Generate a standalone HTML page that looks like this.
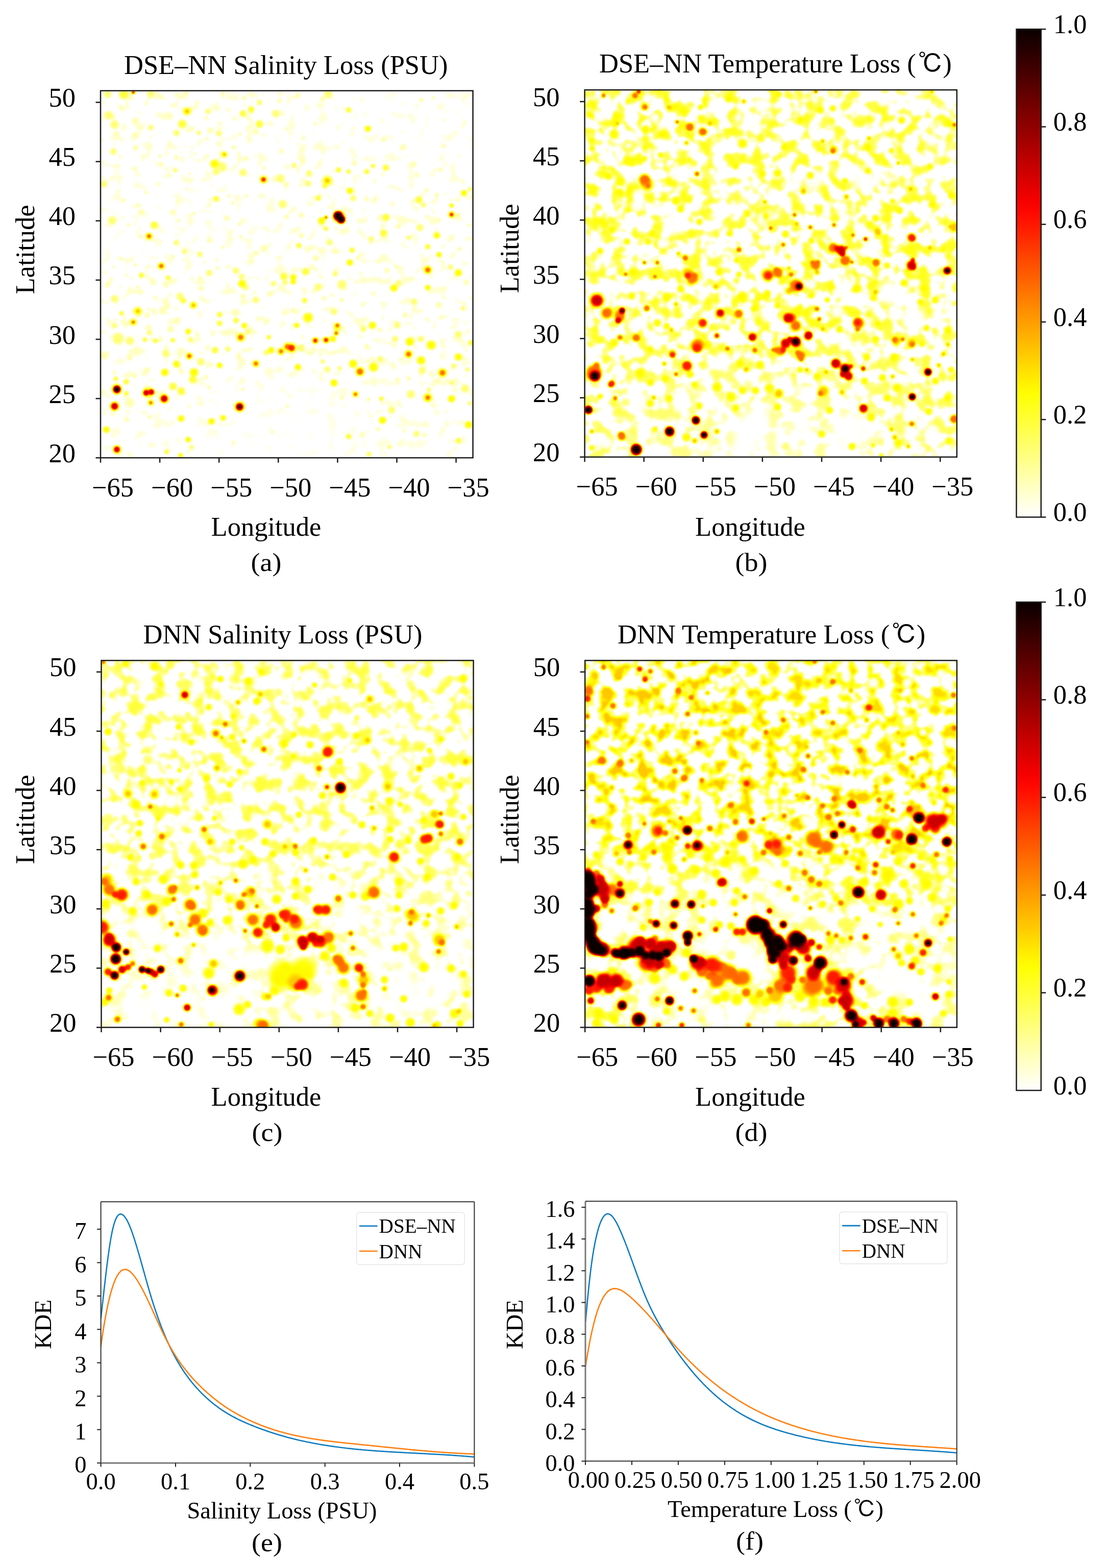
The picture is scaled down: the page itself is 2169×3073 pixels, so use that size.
<!DOCTYPE html>
<html><head><meta charset="utf-8"><title>Figure</title>
<style>
html,body{margin:0;padding:0;background:#fff;}
svg{display:block;}
.t{font-family:'Liberation Serif', 'Times New Roman', serif;font-size:52.5px;fill:#000;}
.cap{font-family:'Liberation Serif', 'Times New Roman', serif;font-size:50px;fill:#000;}
.k{font-family:'Liberation Serif', 'Times New Roman', serif;font-size:46.5px;fill:#000;}
.kl{font-family:'Liberation Serif', 'Times New Roman', serif;font-size:45.8px;fill:#000;}
.lg{font-family:'Liberation Serif', 'Times New Roman', serif;font-size:39.2px;fill:#000;}
.cjk{font-family:'IPAGothic', 'Noto Sans CJK JP', sans-serif;font-size:0.94em;}
</style></head><body>
<svg width="2169" height="3073" viewBox="0 0 2169 3073">
<defs>
<linearGradient id="cb1" x1="0" y1="1" x2="0" y2="0">
<stop offset="0.000" stop-color="#ffffff"/>
<stop offset="0.025" stop-color="#ffffe6"/>
<stop offset="0.050" stop-color="#ffffcd"/>
<stop offset="0.075" stop-color="#ffffb4"/>
<stop offset="0.100" stop-color="#ffff9b"/>
<stop offset="0.125" stop-color="#ffff81"/>
<stop offset="0.150" stop-color="#ffff68"/>
<stop offset="0.175" stop-color="#ffff4f"/>
<stop offset="0.200" stop-color="#ffff36"/>
<stop offset="0.225" stop-color="#ffff1d"/>
<stop offset="0.250" stop-color="#ffff04"/>
<stop offset="0.275" stop-color="#fff100"/>
<stop offset="0.300" stop-color="#ffe000"/>
<stop offset="0.325" stop-color="#ffcf00"/>
<stop offset="0.350" stop-color="#ffbf00"/>
<stop offset="0.375" stop-color="#ffae00"/>
<stop offset="0.400" stop-color="#ff9d00"/>
<stop offset="0.425" stop-color="#ff8d00"/>
<stop offset="0.450" stop-color="#ff7c00"/>
<stop offset="0.475" stop-color="#ff6b00"/>
<stop offset="0.500" stop-color="#ff5a00"/>
<stop offset="0.525" stop-color="#ff4a00"/>
<stop offset="0.550" stop-color="#ff3900"/>
<stop offset="0.575" stop-color="#ff2800"/>
<stop offset="0.600" stop-color="#ff1700"/>
<stop offset="0.625" stop-color="#ff0700"/>
<stop offset="0.650" stop-color="#f50000"/>
<stop offset="0.675" stop-color="#e40000"/>
<stop offset="0.700" stop-color="#d30000"/>
<stop offset="0.725" stop-color="#c30000"/>
<stop offset="0.750" stop-color="#b20000"/>
<stop offset="0.775" stop-color="#a10000"/>
<stop offset="0.800" stop-color="#900000"/>
<stop offset="0.825" stop-color="#800000"/>
<stop offset="0.850" stop-color="#6f0000"/>
<stop offset="0.875" stop-color="#5e0000"/>
<stop offset="0.900" stop-color="#4e0000"/>
<stop offset="0.925" stop-color="#3d0000"/>
<stop offset="0.950" stop-color="#2c0000"/>
<stop offset="0.975" stop-color="#1b0000"/>
<stop offset="1.000" stop-color="#0b0000"/>
</linearGradient>
<linearGradient id="cb2" x1="0" y1="1" x2="0" y2="0">
<stop offset="0.000" stop-color="#ffffff"/>
<stop offset="0.025" stop-color="#ffffe6"/>
<stop offset="0.050" stop-color="#ffffcd"/>
<stop offset="0.075" stop-color="#ffffb4"/>
<stop offset="0.100" stop-color="#ffff9b"/>
<stop offset="0.125" stop-color="#ffff81"/>
<stop offset="0.150" stop-color="#ffff68"/>
<stop offset="0.175" stop-color="#ffff4f"/>
<stop offset="0.200" stop-color="#ffff36"/>
<stop offset="0.225" stop-color="#ffff1d"/>
<stop offset="0.250" stop-color="#ffff04"/>
<stop offset="0.275" stop-color="#fff100"/>
<stop offset="0.300" stop-color="#ffe000"/>
<stop offset="0.325" stop-color="#ffcf00"/>
<stop offset="0.350" stop-color="#ffbf00"/>
<stop offset="0.375" stop-color="#ffae00"/>
<stop offset="0.400" stop-color="#ff9d00"/>
<stop offset="0.425" stop-color="#ff8d00"/>
<stop offset="0.450" stop-color="#ff7c00"/>
<stop offset="0.475" stop-color="#ff6b00"/>
<stop offset="0.500" stop-color="#ff5a00"/>
<stop offset="0.525" stop-color="#ff4a00"/>
<stop offset="0.550" stop-color="#ff3900"/>
<stop offset="0.575" stop-color="#ff2800"/>
<stop offset="0.600" stop-color="#ff1700"/>
<stop offset="0.625" stop-color="#ff0700"/>
<stop offset="0.650" stop-color="#f50000"/>
<stop offset="0.675" stop-color="#e40000"/>
<stop offset="0.700" stop-color="#d30000"/>
<stop offset="0.725" stop-color="#c30000"/>
<stop offset="0.750" stop-color="#b20000"/>
<stop offset="0.775" stop-color="#a10000"/>
<stop offset="0.800" stop-color="#900000"/>
<stop offset="0.825" stop-color="#800000"/>
<stop offset="0.850" stop-color="#6f0000"/>
<stop offset="0.875" stop-color="#5e0000"/>
<stop offset="0.900" stop-color="#4e0000"/>
<stop offset="0.925" stop-color="#3d0000"/>
<stop offset="0.950" stop-color="#2c0000"/>
<stop offset="0.975" stop-color="#1b0000"/>
<stop offset="1.000" stop-color="#0b0000"/>
</linearGradient>
</defs>
<rect width="2169" height="3073" fill="#fff"/>
<!--HEATMAPS-->
<defs>
<filter id="cmap" x="0" y="0" width="1" height="1" color-interpolation-filters="sRGB"><feGaussianBlur stdDeviation="1.5"/><feComponentTransfer><feFuncR type="table" tableValues="0.042 0.083 0.124 0.165 0.206 0.247 0.288 0.329 0.370 0.411 0.452 0.493 0.534 0.575 0.616 0.657 0.698 0.739 0.780 0.821 0.862 0.903 0.944 0.985 1.000 1.000 1.000 1.000 1.000 1.000 1.000 1.000 1.000 1.000 1.000 1.000 1.000 1.000 1.000 1.000 1.000 1.000 1.000 1.000 1.000 1.000 1.000 1.000 1.000 1.000 1.000 1.000 1.000 1.000 1.000 1.000 1.000 1.000 1.000 1.000 1.000 1.000 1.000 1.000 1.000"/><feFuncG type="table" tableValues="0.000 0.000 0.000 0.000 0.000 0.000 0.000 0.000 0.000 0.000 0.000 0.000 0.000 0.000 0.000 0.000 0.000 0.000 0.000 0.000 0.000 0.000 0.000 0.000 0.026 0.067 0.108 0.149 0.190 0.231 0.272 0.313 0.354 0.395 0.436 0.477 0.518 0.559 0.600 0.641 0.682 0.723 0.764 0.805 0.846 0.887 0.928 0.969 1.000 1.000 1.000 1.000 1.000 1.000 1.000 1.000 1.000 1.000 1.000 1.000 1.000 1.000 1.000 1.000 1.000"/><feFuncB type="table" tableValues="0.000 0.000 0.000 0.000 0.000 0.000 0.000 0.000 0.000 0.000 0.000 0.000 0.000 0.000 0.000 0.000 0.000 0.000 0.000 0.000 0.000 0.000 0.000 0.000 0.000 0.000 0.000 0.000 0.000 0.000 0.000 0.000 0.000 0.000 0.000 0.000 0.000 0.000 0.000 0.000 0.000 0.000 0.000 0.000 0.000 0.000 0.000 0.000 0.016 0.077 0.139 0.200 0.262 0.323 0.385 0.446 0.508 0.569 0.631 0.692 0.754 0.815 0.877 0.938 1.000"/></feComponentTransfer></filter>
<radialGradient id="mh"><stop offset="0" stop-color="#000"/><stop offset="0.5" stop-color="#000" stop-opacity="0.9"/><stop offset="1" stop-color="#000" stop-opacity="0"/></radialGradient>
<radialGradient id="g0"><stop offset="0" stop-color="#ffffff"/><stop offset="0.5" stop-color="#ffffff" stop-opacity="0.95"/><stop offset="0.75" stop-color="#ffffff" stop-opacity="0.5"/><stop offset="1" stop-color="#ffffff" stop-opacity="0"/></radialGradient>
<radialGradient id="g1"><stop offset="0" stop-color="#f2f2f2"/><stop offset="0.5" stop-color="#f2f2f2" stop-opacity="0.95"/><stop offset="0.75" stop-color="#f2f2f2" stop-opacity="0.5"/><stop offset="1" stop-color="#f2f2f2" stop-opacity="0"/></radialGradient>
<radialGradient id="g2"><stop offset="0" stop-color="#ebebeb"/><stop offset="0.5" stop-color="#ebebeb" stop-opacity="0.95"/><stop offset="0.75" stop-color="#ebebeb" stop-opacity="0.5"/><stop offset="1" stop-color="#ebebeb" stop-opacity="0"/></radialGradient>
<radialGradient id="g3"><stop offset="0" stop-color="#e3e3e3"/><stop offset="0.5" stop-color="#e3e3e3" stop-opacity="0.95"/><stop offset="0.75" stop-color="#e3e3e3" stop-opacity="0.5"/><stop offset="1" stop-color="#e3e3e3" stop-opacity="0"/></radialGradient>
<radialGradient id="g4"><stop offset="0" stop-color="#dbdbdb"/><stop offset="0.5" stop-color="#dbdbdb" stop-opacity="0.95"/><stop offset="0.75" stop-color="#dbdbdb" stop-opacity="0.5"/><stop offset="1" stop-color="#dbdbdb" stop-opacity="0"/></radialGradient>
<radialGradient id="g5"><stop offset="0" stop-color="#d4d4d4"/><stop offset="0.5" stop-color="#d4d4d4" stop-opacity="0.95"/><stop offset="0.75" stop-color="#d4d4d4" stop-opacity="0.5"/><stop offset="1" stop-color="#d4d4d4" stop-opacity="0"/></radialGradient>
<radialGradient id="g6"><stop offset="0" stop-color="#cccccc"/><stop offset="0.5" stop-color="#cccccc" stop-opacity="0.95"/><stop offset="0.75" stop-color="#cccccc" stop-opacity="0.5"/><stop offset="1" stop-color="#cccccc" stop-opacity="0"/></radialGradient>
<radialGradient id="g7"><stop offset="0" stop-color="#c4c4c4"/><stop offset="0.5" stop-color="#c4c4c4" stop-opacity="0.95"/><stop offset="0.75" stop-color="#c4c4c4" stop-opacity="0.5"/><stop offset="1" stop-color="#c4c4c4" stop-opacity="0"/></radialGradient>
<radialGradient id="g8"><stop offset="0" stop-color="#bdbdbd"/><stop offset="0.5" stop-color="#bdbdbd" stop-opacity="0.95"/><stop offset="0.75" stop-color="#bdbdbd" stop-opacity="0.5"/><stop offset="1" stop-color="#bdbdbd" stop-opacity="0"/></radialGradient>
<radialGradient id="g9"><stop offset="0" stop-color="#b2b2b2"/><stop offset="0.5" stop-color="#b2b2b2" stop-opacity="0.95"/><stop offset="0.75" stop-color="#b2b2b2" stop-opacity="0.5"/><stop offset="1" stop-color="#b2b2b2" stop-opacity="0"/></radialGradient>
<radialGradient id="g10"><stop offset="0" stop-color="#a8a8a8"/><stop offset="0.5" stop-color="#a8a8a8" stop-opacity="0.95"/><stop offset="0.75" stop-color="#a8a8a8" stop-opacity="0.5"/><stop offset="1" stop-color="#a8a8a8" stop-opacity="0"/></radialGradient>
<radialGradient id="g11"><stop offset="0" stop-color="#9e9e9e"/><stop offset="0.5" stop-color="#9e9e9e" stop-opacity="0.95"/><stop offset="0.75" stop-color="#9e9e9e" stop-opacity="0.5"/><stop offset="1" stop-color="#9e9e9e" stop-opacity="0"/></radialGradient>
<radialGradient id="g12"><stop offset="0" stop-color="#919191"/><stop offset="0.5" stop-color="#919191" stop-opacity="0.95"/><stop offset="0.75" stop-color="#919191" stop-opacity="0.5"/><stop offset="1" stop-color="#919191" stop-opacity="0"/></radialGradient>
<radialGradient id="g13"><stop offset="0" stop-color="#858585"/><stop offset="0.5" stop-color="#858585" stop-opacity="0.95"/><stop offset="0.75" stop-color="#858585" stop-opacity="0.5"/><stop offset="1" stop-color="#858585" stop-opacity="0"/></radialGradient>
<radialGradient id="g14"><stop offset="0" stop-color="#757575"/><stop offset="0.5" stop-color="#757575" stop-opacity="0.95"/><stop offset="0.75" stop-color="#757575" stop-opacity="0.5"/><stop offset="1" stop-color="#757575" stop-opacity="0"/></radialGradient>
<radialGradient id="g15"><stop offset="0" stop-color="#666666"/><stop offset="0.5" stop-color="#666666" stop-opacity="0.95"/><stop offset="0.75" stop-color="#666666" stop-opacity="0.5"/><stop offset="1" stop-color="#666666" stop-opacity="0"/></radialGradient>
<radialGradient id="g16"><stop offset="0" stop-color="#575757"/><stop offset="0.5" stop-color="#575757" stop-opacity="0.95"/><stop offset="0.75" stop-color="#575757" stop-opacity="0.5"/><stop offset="1" stop-color="#575757" stop-opacity="0"/></radialGradient>
<radialGradient id="g17"><stop offset="0" stop-color="#474747"/><stop offset="0.5" stop-color="#474747" stop-opacity="0.95"/><stop offset="0.75" stop-color="#474747" stop-opacity="0.5"/><stop offset="1" stop-color="#474747" stop-opacity="0"/></radialGradient>
<radialGradient id="g18"><stop offset="0" stop-color="#383838"/><stop offset="0.5" stop-color="#383838" stop-opacity="0.95"/><stop offset="0.75" stop-color="#383838" stop-opacity="0.5"/><stop offset="1" stop-color="#383838" stop-opacity="0"/></radialGradient>
<radialGradient id="g19"><stop offset="0" stop-color="#292929"/><stop offset="0.5" stop-color="#292929" stop-opacity="0.95"/><stop offset="0.75" stop-color="#292929" stop-opacity="0.5"/><stop offset="1" stop-color="#292929" stop-opacity="0"/></radialGradient>
<radialGradient id="g20"><stop offset="0" stop-color="#191919"/><stop offset="0.5" stop-color="#191919" stop-opacity="0.95"/><stop offset="0.75" stop-color="#191919" stop-opacity="0.5"/><stop offset="1" stop-color="#191919" stop-opacity="0"/></radialGradient>
<radialGradient id="g21"><stop offset="0" stop-color="#0d0d0d"/><stop offset="0.5" stop-color="#0d0d0d" stop-opacity="0.95"/><stop offset="0.75" stop-color="#0d0d0d" stop-opacity="0.5"/><stop offset="1" stop-color="#0d0d0d" stop-opacity="0"/></radialGradient>
<radialGradient id="g22"><stop offset="0" stop-color="#000000"/><stop offset="0.5" stop-color="#000000" stop-opacity="0.95"/><stop offset="0.75" stop-color="#000000" stop-opacity="0.5"/><stop offset="1" stop-color="#000000" stop-opacity="0"/></radialGradient>
<clipPath id="hca"><rect x="197.0" y="177.8" width="729.6" height="719.4000000000001"/></clipPath>
<clipPath id="hcb"><rect x="1145.6" y="176.2" width="729.2" height="719.5"/></clipPath>
<clipPath id="hcc"><rect x="198.5" y="1294.4" width="729.1" height="719.0999999999999"/></clipPath>
<clipPath id="hcd"><rect x="1146.2" y="1294.4" width="728.7" height="719.0999999999999"/></clipPath>
</defs>
<defs>
<filter id="nza" filterUnits="userSpaceOnUse" x="192.0" y="172.8" width="739.6" height="729.4000000000001" color-interpolation-filters="sRGB"><feTurbulence type="fractalNoise" baseFrequency="0.05" numOctaves="2" seed="11"/><feColorMatrix type="matrix" values="0 0 0 0 0  0 0 0 0 0  0 0 0 0 0  5.0 0 0 0 -2.8500"/><feComponentTransfer><feFuncA type="table" tableValues="0 0.07 0.11 0.14"/></feComponentTransfer></filter>
<filter id="mba" filterUnits="userSpaceOnUse" x="137.0" y="117.80000000000001" width="849.6" height="839.4000000000001"><feGaussianBlur stdDeviation="28"/></filter>
<mask id="dma" maskUnits="userSpaceOnUse" x="192.0" y="172.8" width="739.6" height="729.4000000000001"><g filter="url(#mba)">
<rect x="157.0" y="137.8" width="131.7" height="130.4" fill="rgb(153,153,153)"/>
<rect x="288.2" y="137.8" width="91.7" height="130.4" fill="rgb(128,128,128)"/>
<rect x="379.4" y="137.8" width="91.7" height="130.4" fill="rgb(102,102,102)"/>
<rect x="470.6" y="137.8" width="91.7" height="130.4" fill="rgb(102,102,102)"/>
<rect x="561.8" y="137.8" width="91.7" height="130.4" fill="rgb(76,76,76)"/>
<rect x="653.0" y="137.8" width="91.7" height="130.4" fill="rgb(51,51,51)"/>
<rect x="744.2" y="137.8" width="91.7" height="130.4" fill="rgb(51,51,51)"/>
<rect x="835.4" y="137.8" width="131.7" height="130.4" fill="rgb(76,76,76)"/>
<rect x="157.0" y="267.7" width="131.7" height="90.4" fill="rgb(102,102,102)"/>
<rect x="288.2" y="267.7" width="91.7" height="90.4" fill="rgb(76,76,76)"/>
<rect x="379.4" y="267.7" width="91.7" height="90.4" fill="rgb(102,102,102)"/>
<rect x="470.6" y="267.7" width="91.7" height="90.4" fill="rgb(102,102,102)"/>
<rect x="561.8" y="267.7" width="91.7" height="90.4" fill="rgb(102,102,102)"/>
<rect x="653.0" y="267.7" width="91.7" height="90.4" fill="rgb(76,76,76)"/>
<rect x="744.2" y="267.7" width="91.7" height="90.4" fill="rgb(76,76,76)"/>
<rect x="835.4" y="267.7" width="131.7" height="90.4" fill="rgb(76,76,76)"/>
<rect x="157.0" y="357.7" width="131.7" height="90.4" fill="rgb(76,76,76)"/>
<rect x="288.2" y="357.7" width="91.7" height="90.4" fill="rgb(76,76,76)"/>
<rect x="379.4" y="357.7" width="91.7" height="90.4" fill="rgb(76,76,76)"/>
<rect x="470.6" y="357.7" width="91.7" height="90.4" fill="rgb(76,76,76)"/>
<rect x="561.8" y="357.7" width="91.7" height="90.4" fill="rgb(102,102,102)"/>
<rect x="653.0" y="357.7" width="91.7" height="90.4" fill="rgb(102,102,102)"/>
<rect x="744.2" y="357.7" width="91.7" height="90.4" fill="rgb(102,102,102)"/>
<rect x="835.4" y="357.7" width="131.7" height="90.4" fill="rgb(102,102,102)"/>
<rect x="157.0" y="447.6" width="131.7" height="90.4" fill="rgb(76,76,76)"/>
<rect x="288.2" y="447.6" width="91.7" height="90.4" fill="rgb(76,76,76)"/>
<rect x="379.4" y="447.6" width="91.7" height="90.4" fill="rgb(76,76,76)"/>
<rect x="470.6" y="447.6" width="91.7" height="90.4" fill="rgb(76,76,76)"/>
<rect x="561.8" y="447.6" width="91.7" height="90.4" fill="rgb(102,102,102)"/>
<rect x="653.0" y="447.6" width="91.7" height="90.4" fill="rgb(102,102,102)"/>
<rect x="744.2" y="447.6" width="91.7" height="90.4" fill="rgb(102,102,102)"/>
<rect x="835.4" y="447.6" width="131.7" height="90.4" fill="rgb(102,102,102)"/>
<rect x="157.0" y="537.5" width="131.7" height="90.4" fill="rgb(128,128,128)"/>
<rect x="288.2" y="537.5" width="91.7" height="90.4" fill="rgb(128,128,128)"/>
<rect x="379.4" y="537.5" width="91.7" height="90.4" fill="rgb(102,102,102)"/>
<rect x="470.6" y="537.5" width="91.7" height="90.4" fill="rgb(102,102,102)"/>
<rect x="561.8" y="537.5" width="91.7" height="90.4" fill="rgb(102,102,102)"/>
<rect x="653.0" y="537.5" width="91.7" height="90.4" fill="rgb(102,102,102)"/>
<rect x="744.2" y="537.5" width="91.7" height="90.4" fill="rgb(102,102,102)"/>
<rect x="835.4" y="537.5" width="131.7" height="90.4" fill="rgb(102,102,102)"/>
<rect x="157.0" y="627.4" width="131.7" height="90.4" fill="rgb(128,128,128)"/>
<rect x="288.2" y="627.4" width="91.7" height="90.4" fill="rgb(128,128,128)"/>
<rect x="379.4" y="627.4" width="91.7" height="90.4" fill="rgb(128,128,128)"/>
<rect x="470.6" y="627.4" width="91.7" height="90.4" fill="rgb(128,128,128)"/>
<rect x="561.8" y="627.4" width="91.7" height="90.4" fill="rgb(128,128,128)"/>
<rect x="653.0" y="627.4" width="91.7" height="90.4" fill="rgb(102,102,102)"/>
<rect x="744.2" y="627.4" width="91.7" height="90.4" fill="rgb(102,102,102)"/>
<rect x="835.4" y="627.4" width="131.7" height="90.4" fill="rgb(102,102,102)"/>
<rect x="157.0" y="717.4" width="131.7" height="90.4" fill="rgb(102,102,102)"/>
<rect x="288.2" y="717.4" width="91.7" height="90.4" fill="rgb(102,102,102)"/>
<rect x="379.4" y="717.4" width="91.7" height="90.4" fill="rgb(76,76,76)"/>
<rect x="470.6" y="717.4" width="91.7" height="90.4" fill="rgb(51,51,51)"/>
<rect x="561.8" y="717.4" width="91.7" height="90.4" fill="rgb(51,51,51)"/>
<rect x="653.0" y="717.4" width="91.7" height="90.4" fill="rgb(76,76,76)"/>
<rect x="744.2" y="717.4" width="91.7" height="90.4" fill="rgb(102,102,102)"/>
<rect x="835.4" y="717.4" width="131.7" height="90.4" fill="rgb(102,102,102)"/>
<rect x="157.0" y="807.3" width="131.7" height="130.4" fill="rgb(76,76,76)"/>
<rect x="288.2" y="807.3" width="91.7" height="130.4" fill="rgb(76,76,76)"/>
<rect x="379.4" y="807.3" width="91.7" height="130.4" fill="rgb(51,51,51)"/>
<rect x="470.6" y="807.3" width="91.7" height="130.4" fill="rgb(26,26,26)"/>
<rect x="561.8" y="807.3" width="91.7" height="130.4" fill="rgb(26,26,26)"/>
<rect x="653.0" y="807.3" width="91.7" height="130.4" fill="rgb(51,51,51)"/>
<rect x="744.2" y="807.3" width="91.7" height="130.4" fill="rgb(76,76,76)"/>
<rect x="835.4" y="807.3" width="131.7" height="130.4" fill="rgb(76,76,76)"/>
</g>
</mask>
<filter id="nzb" filterUnits="userSpaceOnUse" x="1140.6" y="171.2" width="739.2" height="729.5" color-interpolation-filters="sRGB"><feTurbulence type="fractalNoise" baseFrequency="0.04" numOctaves="2" seed="23"/><feColorMatrix type="matrix" values="0 0 0 0 0  0 0 0 0 0  0 0 0 0 0  4.0 0 0 0 -1.8800"/><feComponentTransfer><feFuncA type="table" tableValues="0 0.1 0.17 0.22 0.25 0.28"/></feComponentTransfer></filter>
<filter id="mbb" filterUnits="userSpaceOnUse" x="1085.6" y="116.19999999999999" width="849.2" height="839.5"><feGaussianBlur stdDeviation="28"/></filter>
<mask id="dmb" maskUnits="userSpaceOnUse" x="1140.6" y="171.2" width="739.2" height="729.5"><g filter="url(#mbb)">
<rect x="1105.6" y="136.2" width="131.7" height="130.4" fill="rgb(230,230,230)"/>
<rect x="1236.8" y="136.2" width="91.7" height="130.4" fill="rgb(230,230,230)"/>
<rect x="1327.9" y="136.2" width="91.7" height="130.4" fill="rgb(230,230,230)"/>
<rect x="1419.0" y="136.2" width="91.7" height="130.4" fill="rgb(204,204,204)"/>
<rect x="1510.2" y="136.2" width="91.7" height="130.4" fill="rgb(204,204,204)"/>
<rect x="1601.3" y="136.2" width="91.7" height="130.4" fill="rgb(178,178,178)"/>
<rect x="1692.5" y="136.2" width="91.7" height="130.4" fill="rgb(204,204,204)"/>
<rect x="1783.7" y="136.2" width="131.7" height="130.4" fill="rgb(204,204,204)"/>
<rect x="1105.6" y="266.1" width="131.7" height="90.4" fill="rgb(230,230,230)"/>
<rect x="1236.8" y="266.1" width="91.7" height="90.4" fill="rgb(230,230,230)"/>
<rect x="1327.9" y="266.1" width="91.7" height="90.4" fill="rgb(204,204,204)"/>
<rect x="1419.0" y="266.1" width="91.7" height="90.4" fill="rgb(204,204,204)"/>
<rect x="1510.2" y="266.1" width="91.7" height="90.4" fill="rgb(204,204,204)"/>
<rect x="1601.3" y="266.1" width="91.7" height="90.4" fill="rgb(204,204,204)"/>
<rect x="1692.5" y="266.1" width="91.7" height="90.4" fill="rgb(204,204,204)"/>
<rect x="1783.7" y="266.1" width="131.7" height="90.4" fill="rgb(178,178,178)"/>
<rect x="1105.6" y="356.1" width="131.7" height="90.4" fill="rgb(230,230,230)"/>
<rect x="1236.8" y="356.1" width="91.7" height="90.4" fill="rgb(230,230,230)"/>
<rect x="1327.9" y="356.1" width="91.7" height="90.4" fill="rgb(204,204,204)"/>
<rect x="1419.0" y="356.1" width="91.7" height="90.4" fill="rgb(178,178,178)"/>
<rect x="1510.2" y="356.1" width="91.7" height="90.4" fill="rgb(204,204,204)"/>
<rect x="1601.3" y="356.1" width="91.7" height="90.4" fill="rgb(204,204,204)"/>
<rect x="1692.5" y="356.1" width="91.7" height="90.4" fill="rgb(204,204,204)"/>
<rect x="1783.7" y="356.1" width="131.7" height="90.4" fill="rgb(204,204,204)"/>
<rect x="1105.6" y="446.0" width="131.7" height="90.4" fill="rgb(204,204,204)"/>
<rect x="1236.8" y="446.0" width="91.7" height="90.4" fill="rgb(204,204,204)"/>
<rect x="1327.9" y="446.0" width="91.7" height="90.4" fill="rgb(204,204,204)"/>
<rect x="1419.0" y="446.0" width="91.7" height="90.4" fill="rgb(204,204,204)"/>
<rect x="1510.2" y="446.0" width="91.7" height="90.4" fill="rgb(204,204,204)"/>
<rect x="1601.3" y="446.0" width="91.7" height="90.4" fill="rgb(204,204,204)"/>
<rect x="1692.5" y="446.0" width="91.7" height="90.4" fill="rgb(230,230,230)"/>
<rect x="1783.7" y="446.0" width="131.7" height="90.4" fill="rgb(204,204,204)"/>
<rect x="1105.6" y="536.0" width="131.7" height="90.4" fill="rgb(204,204,204)"/>
<rect x="1236.8" y="536.0" width="91.7" height="90.4" fill="rgb(204,204,204)"/>
<rect x="1327.9" y="536.0" width="91.7" height="90.4" fill="rgb(204,204,204)"/>
<rect x="1419.0" y="536.0" width="91.7" height="90.4" fill="rgb(204,204,204)"/>
<rect x="1510.2" y="536.0" width="91.7" height="90.4" fill="rgb(230,230,230)"/>
<rect x="1601.3" y="536.0" width="91.7" height="90.4" fill="rgb(230,230,230)"/>
<rect x="1692.5" y="536.0" width="91.7" height="90.4" fill="rgb(204,204,204)"/>
<rect x="1783.7" y="536.0" width="131.7" height="90.4" fill="rgb(204,204,204)"/>
<rect x="1105.6" y="625.9" width="131.7" height="90.4" fill="rgb(204,204,204)"/>
<rect x="1236.8" y="625.9" width="91.7" height="90.4" fill="rgb(178,178,178)"/>
<rect x="1327.9" y="625.9" width="91.7" height="90.4" fill="rgb(204,204,204)"/>
<rect x="1419.0" y="625.9" width="91.7" height="90.4" fill="rgb(204,204,204)"/>
<rect x="1510.2" y="625.9" width="91.7" height="90.4" fill="rgb(204,204,204)"/>
<rect x="1601.3" y="625.9" width="91.7" height="90.4" fill="rgb(178,178,178)"/>
<rect x="1692.5" y="625.9" width="91.7" height="90.4" fill="rgb(178,178,178)"/>
<rect x="1783.7" y="625.9" width="131.7" height="90.4" fill="rgb(178,178,178)"/>
<rect x="1105.6" y="715.8" width="131.7" height="90.4" fill="rgb(178,178,178)"/>
<rect x="1236.8" y="715.8" width="91.7" height="90.4" fill="rgb(153,153,153)"/>
<rect x="1327.9" y="715.8" width="91.7" height="90.4" fill="rgb(128,128,128)"/>
<rect x="1419.0" y="715.8" width="91.7" height="90.4" fill="rgb(128,128,128)"/>
<rect x="1510.2" y="715.8" width="91.7" height="90.4" fill="rgb(128,128,128)"/>
<rect x="1601.3" y="715.8" width="91.7" height="90.4" fill="rgb(128,128,128)"/>
<rect x="1692.5" y="715.8" width="91.7" height="90.4" fill="rgb(153,153,153)"/>
<rect x="1783.7" y="715.8" width="131.7" height="90.4" fill="rgb(178,178,178)"/>
<rect x="1105.6" y="805.8" width="131.7" height="130.4" fill="rgb(153,153,153)"/>
<rect x="1236.8" y="805.8" width="91.7" height="130.4" fill="rgb(128,128,128)"/>
<rect x="1327.9" y="805.8" width="91.7" height="130.4" fill="rgb(102,102,102)"/>
<rect x="1419.0" y="805.8" width="91.7" height="130.4" fill="rgb(76,76,76)"/>
<rect x="1510.2" y="805.8" width="91.7" height="130.4" fill="rgb(76,76,76)"/>
<rect x="1601.3" y="805.8" width="91.7" height="130.4" fill="rgb(102,102,102)"/>
<rect x="1692.5" y="805.8" width="91.7" height="130.4" fill="rgb(128,128,128)"/>
<rect x="1783.7" y="805.8" width="131.7" height="130.4" fill="rgb(153,153,153)"/>
</g>
<circle cx="1175.8" cy="228.6" r="14.4" fill="url(#mh)"/>
<circle cx="1237.5" cy="212.6" r="14.4" fill="url(#mh)"/>
<circle cx="1283.3" cy="230.9" r="12.0" fill="url(#mh)"/>
<circle cx="1397.8" cy="203.5" r="14.4" fill="url(#mh)"/>
<circle cx="1489.3" cy="205.8" r="16.8" fill="url(#mh)"/>
<circle cx="1482.4" cy="256.1" r="12.0" fill="url(#mh)"/>
<circle cx="1155.2" cy="395.7" r="16.8" fill="url(#mh)"/>
<circle cx="1180.3" cy="308.7" r="12.0" fill="url(#mh)"/>
<circle cx="1249.0" cy="402.6" r="16.8" fill="url(#mh)"/>
<circle cx="1287.9" cy="382.0" r="9.6" fill="url(#mh)"/>
<circle cx="1324.5" cy="336.2" r="14.4" fill="url(#mh)"/>
<circle cx="1420.6" cy="382.0" r="12.0" fill="url(#mh)"/>
<circle cx="1363.4" cy="404.9" r="12.0" fill="url(#mh)"/>
<circle cx="1395.5" cy="336.2" r="9.6" fill="url(#mh)"/>
<circle cx="1420.6" cy="507.9" r="9.6" fill="url(#mh)"/>
<circle cx="1271.9" cy="503.3" r="9.6" fill="url(#mh)"/>
<circle cx="1493.9" cy="473.5" r="12.0" fill="url(#mh)"/>
<circle cx="1512.2" cy="377.4" r="12.0" fill="url(#mh)"/>
<circle cx="1297.1" cy="478.1" r="12.0" fill="url(#mh)"/>
<circle cx="1168.9" cy="471.2" r="9.6" fill="url(#mh)"/>
<circle cx="1545.7" cy="246.7" r="13.9" fill="url(#mh)"/>
<circle cx="1596.5" cy="248.9" r="13.9" fill="url(#mh)"/>
<circle cx="1649.5" cy="235.6" r="11.6" fill="url(#mh)"/>
<circle cx="1731.2" cy="198.1" r="13.9" fill="url(#mh)"/>
<circle cx="1804.1" cy="202.5" r="13.9" fill="url(#mh)"/>
<circle cx="1737.9" cy="248.9" r="13.9" fill="url(#mh)"/>
<circle cx="1826.2" cy="275.4" r="13.9" fill="url(#mh)"/>
<circle cx="1861.5" cy="330.6" r="11.6" fill="url(#mh)"/>
<circle cx="1653.9" cy="319.6" r="13.9" fill="url(#mh)"/>
<circle cx="1605.3" cy="304.1" r="9.3" fill="url(#mh)"/>
<circle cx="1539.1" cy="396.9" r="13.9" fill="url(#mh)"/>
<circle cx="1698.1" cy="374.8" r="13.9" fill="url(#mh)"/>
<circle cx="1737.9" cy="354.9" r="9.3" fill="url(#mh)"/>
<circle cx="1797.5" cy="352.7" r="11.6" fill="url(#mh)"/>
<circle cx="1797.5" cy="418.9" r="9.3" fill="url(#mh)"/>
<circle cx="1848.3" cy="414.5" r="11.6" fill="url(#mh)"/>
<circle cx="1589.9" cy="410.1" r="9.3" fill="url(#mh)"/>
<circle cx="1649.5" cy="418.9" r="9.3" fill="url(#mh)"/>
<circle cx="1751.1" cy="449.9" r="11.6" fill="url(#mh)"/>
<circle cx="1815.1" cy="454.3" r="9.3" fill="url(#mh)"/>
<circle cx="1561.2" cy="496.2" r="13.9" fill="url(#mh)"/>
<circle cx="1693.7" cy="494.0" r="13.9" fill="url(#mh)"/>
<circle cx="1748.9" cy="489.6" r="9.3" fill="url(#mh)"/>
<circle cx="1536.9" cy="536.0" r="7.0" fill="url(#mh)"/>
<circle cx="1826.2" cy="529.4" r="11.6" fill="url(#mh)"/>
<circle cx="1684.8" cy="529.4" r="9.3" fill="url(#mh)"/>
<circle cx="1191.8" cy="561.7" r="14.4" fill="url(#mh)"/>
<circle cx="1255.9" cy="559.4" r="12.0" fill="url(#mh)"/>
<circle cx="1274.2" cy="582.3" r="9.6" fill="url(#mh)"/>
<circle cx="1374.9" cy="582.3" r="12.0" fill="url(#mh)"/>
<circle cx="1429.8" cy="575.5" r="9.6" fill="url(#mh)"/>
<circle cx="1493.9" cy="593.8" r="8.4" fill="url(#mh)"/>
<circle cx="1155.2" cy="635.0" r="12.0" fill="url(#mh)"/>
<circle cx="1251.3" cy="628.1" r="12.0" fill="url(#mh)"/>
<circle cx="1230.7" cy="683.0" r="12.0" fill="url(#mh)"/>
<circle cx="1333.7" cy="667.0" r="12.0" fill="url(#mh)"/>
<circle cx="1443.5" cy="667.0" r="12.0" fill="url(#mh)"/>
<circle cx="1416.1" cy="703.6" r="19.2" fill="url(#mh)"/>
<circle cx="1500.8" cy="708.2" r="12.0" fill="url(#mh)"/>
<circle cx="1168.9" cy="767.7" r="12.0" fill="url(#mh)"/>
<circle cx="1175.8" cy="811.2" r="12.0" fill="url(#mh)"/>
<circle cx="1237.5" cy="776.9" r="9.6" fill="url(#mh)"/>
<circle cx="1329.1" cy="765.4" r="9.6" fill="url(#mh)"/>
<circle cx="1484.7" cy="822.6" r="28.8" fill="url(#mh)"/>
<circle cx="1455.0" cy="873.0" r="24.0" fill="url(#mh)"/>
<circle cx="1283.3" cy="879.9" r="14.4" fill="url(#mh)"/>
<circle cx="1187.2" cy="868.4" r="14.4" fill="url(#mh)"/>
<circle cx="1260.4" cy="834.1" r="14.4" fill="url(#mh)"/>
<circle cx="1342.8" cy="811.2" r="12.0" fill="url(#mh)"/>
<circle cx="1589.9" cy="556.8" r="13.9" fill="url(#mh)"/>
<circle cx="1640.7" cy="574.5" r="13.9" fill="url(#mh)"/>
<circle cx="1737.9" cy="570.1" r="13.9" fill="url(#mh)"/>
<circle cx="1865.9" cy="581.1" r="11.6" fill="url(#mh)"/>
<circle cx="1574.4" cy="634.1" r="7.0" fill="url(#mh)"/>
<circle cx="1640.7" cy="609.8" r="16.2" fill="url(#mh)"/>
<circle cx="1755.5" cy="614.3" r="18.6" fill="url(#mh)"/>
<circle cx="1837.2" cy="614.3" r="13.9" fill="url(#mh)"/>
<circle cx="1554.5" cy="656.2" r="5.8" fill="url(#mh)"/>
<circle cx="1589.9" cy="678.3" r="9.3" fill="url(#mh)"/>
<circle cx="1653.9" cy="678.3" r="13.9" fill="url(#mh)"/>
<circle cx="1525.8" cy="718.1" r="13.9" fill="url(#mh)"/>
<circle cx="1539.1" cy="746.8" r="16.2" fill="url(#mh)"/>
<circle cx="1771.0" cy="715.8" r="16.2" fill="url(#mh)"/>
<circle cx="1790.9" cy="746.8" r="9.3" fill="url(#mh)"/>
<circle cx="1576.6" cy="768.9" r="16.2" fill="url(#mh)"/>
<circle cx="1671.6" cy="790.9" r="16.2" fill="url(#mh)"/>
<circle cx="1572.2" cy="835.1" r="23.2" fill="url(#mh)"/>
<circle cx="1649.5" cy="835.1" r="18.6" fill="url(#mh)"/>
<circle cx="1759.9" cy="802.0" r="11.6" fill="url(#mh)"/>
<circle cx="1826.2" cy="846.1" r="18.6" fill="url(#mh)"/>
<circle cx="1693.7" cy="857.2" r="9.3" fill="url(#mh)"/>
<circle cx="1583.3" cy="879.3" r="13.9" fill="url(#mh)"/>
<circle cx="1804.1" cy="883.7" r="13.9" fill="url(#mh)"/>
<circle cx="1870.4" cy="764.4" r="7.0" fill="url(#mh)"/>
<circle cx="1667.6" cy="845.6" r="51.8" fill="url(#mh)"/>
<circle cx="1470.1" cy="845.6" r="41.5" fill="url(#mh)"/>
<circle cx="1248.1" cy="786.4" r="31.1" fill="url(#mh)"/>
<circle cx="1741.6" cy="574.2" r="31.1" fill="url(#mh)"/>
<circle cx="1322.1" cy="436.0" r="31.1" fill="url(#mh)"/>
<circle cx="1692.2" cy="352.1" r="31.1" fill="url(#mh)"/>
<circle cx="1593.5" cy="352.1" r="25.9" fill="url(#mh)"/>
<circle cx="1790.9" cy="623.5" r="31.1" fill="url(#mh)"/>
</mask>
<filter id="nzc" filterUnits="userSpaceOnUse" x="193.5" y="1289.4" width="739.1" height="729.0999999999999" color-interpolation-filters="sRGB"><feTurbulence type="fractalNoise" baseFrequency="0.04" numOctaves="2" seed="37"/><feColorMatrix type="matrix" values="0 0 0 0 0  0 0 0 0 0  0 0 0 0 0  4.0 0 0 0 -1.9200"/><feComponentTransfer><feFuncA type="table" tableValues="0 0.08 0.13 0.17 0.2 0.22"/></feComponentTransfer></filter>
<filter id="mbc" filterUnits="userSpaceOnUse" x="138.5" y="1234.4" width="849.1" height="839.0999999999999"><feGaussianBlur stdDeviation="28"/></filter>
<mask id="dmc" maskUnits="userSpaceOnUse" x="193.5" y="1289.4" width="739.1" height="729.0999999999999"><g filter="url(#mbc)">
<rect x="158.5" y="1254.4" width="131.6" height="130.4" fill="rgb(230,230,230)"/>
<rect x="289.6" y="1254.4" width="91.6" height="130.4" fill="rgb(217,217,217)"/>
<rect x="380.8" y="1254.4" width="91.6" height="130.4" fill="rgb(217,217,217)"/>
<rect x="471.9" y="1254.4" width="91.6" height="130.4" fill="rgb(217,217,217)"/>
<rect x="563.0" y="1254.4" width="91.6" height="130.4" fill="rgb(217,217,217)"/>
<rect x="654.2" y="1254.4" width="91.6" height="130.4" fill="rgb(217,217,217)"/>
<rect x="745.3" y="1254.4" width="91.6" height="130.4" fill="rgb(217,217,217)"/>
<rect x="836.5" y="1254.4" width="131.6" height="130.4" fill="rgb(217,217,217)"/>
<rect x="158.5" y="1384.3" width="131.6" height="90.4" fill="rgb(230,230,230)"/>
<rect x="289.6" y="1384.3" width="91.6" height="90.4" fill="rgb(230,230,230)"/>
<rect x="380.8" y="1384.3" width="91.6" height="90.4" fill="rgb(230,230,230)"/>
<rect x="471.9" y="1384.3" width="91.6" height="90.4" fill="rgb(217,217,217)"/>
<rect x="563.0" y="1384.3" width="91.6" height="90.4" fill="rgb(217,217,217)"/>
<rect x="654.2" y="1384.3" width="91.6" height="90.4" fill="rgb(217,217,217)"/>
<rect x="745.3" y="1384.3" width="91.6" height="90.4" fill="rgb(217,217,217)"/>
<rect x="836.5" y="1384.3" width="131.6" height="90.4" fill="rgb(217,217,217)"/>
<rect x="158.5" y="1474.2" width="131.6" height="90.4" fill="rgb(230,230,230)"/>
<rect x="289.6" y="1474.2" width="91.6" height="90.4" fill="rgb(230,230,230)"/>
<rect x="380.8" y="1474.2" width="91.6" height="90.4" fill="rgb(230,230,230)"/>
<rect x="471.9" y="1474.2" width="91.6" height="90.4" fill="rgb(230,230,230)"/>
<rect x="563.0" y="1474.2" width="91.6" height="90.4" fill="rgb(230,230,230)"/>
<rect x="654.2" y="1474.2" width="91.6" height="90.4" fill="rgb(230,230,230)"/>
<rect x="745.3" y="1474.2" width="91.6" height="90.4" fill="rgb(230,230,230)"/>
<rect x="836.5" y="1474.2" width="131.6" height="90.4" fill="rgb(230,230,230)"/>
<rect x="158.5" y="1564.1" width="131.6" height="90.4" fill="rgb(230,230,230)"/>
<rect x="289.6" y="1564.1" width="91.6" height="90.4" fill="rgb(230,230,230)"/>
<rect x="380.8" y="1564.1" width="91.6" height="90.4" fill="rgb(230,230,230)"/>
<rect x="471.9" y="1564.1" width="91.6" height="90.4" fill="rgb(217,217,217)"/>
<rect x="563.0" y="1564.1" width="91.6" height="90.4" fill="rgb(217,217,217)"/>
<rect x="654.2" y="1564.1" width="91.6" height="90.4" fill="rgb(217,217,217)"/>
<rect x="745.3" y="1564.1" width="91.6" height="90.4" fill="rgb(230,230,230)"/>
<rect x="836.5" y="1564.1" width="131.6" height="90.4" fill="rgb(230,230,230)"/>
<rect x="158.5" y="1654.0" width="131.6" height="90.4" fill="rgb(204,204,204)"/>
<rect x="289.6" y="1654.0" width="91.6" height="90.4" fill="rgb(204,204,204)"/>
<rect x="380.8" y="1654.0" width="91.6" height="90.4" fill="rgb(204,204,204)"/>
<rect x="471.9" y="1654.0" width="91.6" height="90.4" fill="rgb(204,204,204)"/>
<rect x="563.0" y="1654.0" width="91.6" height="90.4" fill="rgb(178,178,178)"/>
<rect x="654.2" y="1654.0" width="91.6" height="90.4" fill="rgb(178,178,178)"/>
<rect x="745.3" y="1654.0" width="91.6" height="90.4" fill="rgb(204,204,204)"/>
<rect x="836.5" y="1654.0" width="131.6" height="90.4" fill="rgb(204,204,204)"/>
<rect x="158.5" y="1743.8" width="131.6" height="90.4" fill="rgb(153,153,153)"/>
<rect x="289.6" y="1743.8" width="91.6" height="90.4" fill="rgb(153,153,153)"/>
<rect x="380.8" y="1743.8" width="91.6" height="90.4" fill="rgb(153,153,153)"/>
<rect x="471.9" y="1743.8" width="91.6" height="90.4" fill="rgb(153,153,153)"/>
<rect x="563.0" y="1743.8" width="91.6" height="90.4" fill="rgb(153,153,153)"/>
<rect x="654.2" y="1743.8" width="91.6" height="90.4" fill="rgb(128,128,128)"/>
<rect x="745.3" y="1743.8" width="91.6" height="90.4" fill="rgb(128,128,128)"/>
<rect x="836.5" y="1743.8" width="131.6" height="90.4" fill="rgb(128,128,128)"/>
<rect x="158.5" y="1833.7" width="131.6" height="90.4" fill="rgb(89,89,89)"/>
<rect x="289.6" y="1833.7" width="91.6" height="90.4" fill="rgb(64,64,64)"/>
<rect x="380.8" y="1833.7" width="91.6" height="90.4" fill="rgb(64,64,64)"/>
<rect x="471.9" y="1833.7" width="91.6" height="90.4" fill="rgb(76,76,76)"/>
<rect x="563.0" y="1833.7" width="91.6" height="90.4" fill="rgb(115,115,115)"/>
<rect x="654.2" y="1833.7" width="91.6" height="90.4" fill="rgb(115,115,115)"/>
<rect x="745.3" y="1833.7" width="91.6" height="90.4" fill="rgb(128,128,128)"/>
<rect x="836.5" y="1833.7" width="131.6" height="90.4" fill="rgb(128,128,128)"/>
<rect x="158.5" y="1923.6" width="131.6" height="130.4" fill="rgb(89,89,89)"/>
<rect x="289.6" y="1923.6" width="91.6" height="130.4" fill="rgb(64,64,64)"/>
<rect x="380.8" y="1923.6" width="91.6" height="130.4" fill="rgb(64,64,64)"/>
<rect x="471.9" y="1923.6" width="91.6" height="130.4" fill="rgb(115,115,115)"/>
<rect x="563.0" y="1923.6" width="91.6" height="130.4" fill="rgb(140,140,140)"/>
<rect x="654.2" y="1923.6" width="91.6" height="130.4" fill="rgb(115,115,115)"/>
<rect x="745.3" y="1923.6" width="91.6" height="130.4" fill="rgb(115,115,115)"/>
<rect x="836.5" y="1923.6" width="131.6" height="130.4" fill="rgb(115,115,115)"/>
</g>
<circle cx="278.3" cy="1323.8" r="19.3" fill="url(#mh)"/>
<circle cx="232.4" cy="1339.9" r="14.5" fill="url(#mh)"/>
<circle cx="326.5" cy="1372.0" r="14.5" fill="url(#mh)"/>
<circle cx="450.4" cy="1312.4" r="14.5" fill="url(#mh)"/>
<circle cx="530.8" cy="1339.9" r="12.0" fill="url(#mh)"/>
<circle cx="439.0" cy="1390.4" r="14.5" fill="url(#mh)"/>
<circle cx="232.4" cy="1420.2" r="9.6" fill="url(#mh)"/>
<circle cx="250.8" cy="1450.1" r="9.6" fill="url(#mh)"/>
<circle cx="321.9" cy="1463.8" r="12.0" fill="url(#mh)"/>
<circle cx="535.3" cy="1420.2" r="9.6" fill="url(#mh)"/>
<circle cx="494.0" cy="1482.2" r="14.5" fill="url(#mh)"/>
<circle cx="519.3" cy="1507.4" r="14.5" fill="url(#mh)"/>
<circle cx="344.9" cy="1493.7" r="12.0" fill="url(#mh)"/>
<circle cx="388.5" cy="1484.5" r="12.0" fill="url(#mh)"/>
<circle cx="487.2" cy="1546.4" r="14.5" fill="url(#mh)"/>
<circle cx="335.7" cy="1569.4" r="16.9" fill="url(#mh)"/>
<circle cx="377.0" cy="1580.9" r="9.6" fill="url(#mh)"/>
<circle cx="239.3" cy="1523.5" r="9.6" fill="url(#mh)"/>
<circle cx="519.3" cy="1580.9" r="12.0" fill="url(#mh)"/>
<circle cx="461.9" cy="1592.3" r="12.0" fill="url(#mh)"/>
<circle cx="294.4" cy="1624.5" r="9.6" fill="url(#mh)"/>
<circle cx="347.2" cy="1619.9" r="12.0" fill="url(#mh)"/>
<circle cx="220.9" cy="1626.8" r="9.6" fill="url(#mh)"/>
<circle cx="432.1" cy="1633.6" r="9.6" fill="url(#mh)"/>
<circle cx="243.9" cy="1652.0" r="7.2" fill="url(#mh)"/>
<circle cx="363.2" cy="1656.6" r="12.0" fill="url(#mh)"/>
<circle cx="603.1" cy="1322.7" r="13.9" fill="url(#mh)"/>
<circle cx="658.3" cy="1333.8" r="13.9" fill="url(#mh)"/>
<circle cx="735.6" cy="1349.2" r="13.9" fill="url(#mh)"/>
<circle cx="786.4" cy="1327.1" r="13.9" fill="url(#mh)"/>
<circle cx="857.1" cy="1327.1" r="13.9" fill="url(#mh)"/>
<circle cx="583.3" cy="1377.9" r="11.6" fill="url(#mh)"/>
<circle cx="693.7" cy="1371.3" r="11.6" fill="url(#mh)"/>
<circle cx="753.3" cy="1382.3" r="9.3" fill="url(#mh)"/>
<circle cx="879.2" cy="1382.3" r="11.6" fill="url(#mh)"/>
<circle cx="711.3" cy="1417.7" r="16.2" fill="url(#mh)"/>
<circle cx="742.3" cy="1422.1" r="13.9" fill="url(#mh)"/>
<circle cx="790.9" cy="1417.7" r="9.3" fill="url(#mh)"/>
<circle cx="826.2" cy="1437.6" r="11.6" fill="url(#mh)"/>
<circle cx="583.3" cy="1503.8" r="18.6" fill="url(#mh)"/>
<circle cx="684.8" cy="1514.9" r="13.9" fill="url(#mh)"/>
<circle cx="724.6" cy="1488.3" r="18.6" fill="url(#mh)"/>
<circle cx="775.4" cy="1492.8" r="13.9" fill="url(#mh)"/>
<circle cx="790.9" cy="1525.9" r="9.3" fill="url(#mh)"/>
<circle cx="846.1" cy="1548.0" r="18.6" fill="url(#mh)"/>
<circle cx="868.1" cy="1514.9" r="9.3" fill="url(#mh)"/>
<circle cx="658.3" cy="1570.1" r="13.9" fill="url(#mh)"/>
<circle cx="603.1" cy="1581.1" r="11.6" fill="url(#mh)"/>
<circle cx="693.7" cy="1576.7" r="9.3" fill="url(#mh)"/>
<circle cx="658.3" cy="1625.3" r="16.2" fill="url(#mh)"/>
<circle cx="801.9" cy="1603.2" r="16.2" fill="url(#mh)"/>
<circle cx="618.6" cy="1620.9" r="11.6" fill="url(#mh)"/>
<circle cx="850.5" cy="1625.3" r="5.8" fill="url(#mh)"/>
<circle cx="879.2" cy="1620.9" r="7.0" fill="url(#mh)"/>
<circle cx="713.6" cy="1647.4" r="11.6" fill="url(#mh)"/>
<circle cx="227.8" cy="1688.9" r="14.5" fill="url(#mh)"/>
<circle cx="280.6" cy="1698.1" r="12.0" fill="url(#mh)"/>
<circle cx="326.5" cy="1688.9" r="14.5" fill="url(#mh)"/>
<circle cx="413.7" cy="1693.5" r="14.5" fill="url(#mh)"/>
<circle cx="441.3" cy="1707.3" r="14.5" fill="url(#mh)"/>
<circle cx="519.3" cy="1716.5" r="19.3" fill="url(#mh)"/>
<circle cx="556.0" cy="1700.4" r="9.6" fill="url(#mh)"/>
<circle cx="232.4" cy="1794.5" r="16.9" fill="url(#mh)"/>
<circle cx="273.7" cy="1812.9" r="21.7" fill="url(#mh)"/>
<circle cx="301.3" cy="1822.1" r="14.5" fill="url(#mh)"/>
<circle cx="218.7" cy="1808.3" r="7.2" fill="url(#mh)"/>
<circle cx="354.1" cy="1780.7" r="9.6" fill="url(#mh)"/>
<circle cx="399.9" cy="1778.4" r="7.2" fill="url(#mh)"/>
<circle cx="335.7" cy="1792.2" r="7.2" fill="url(#mh)"/>
<circle cx="365.5" cy="1799.1" r="9.6" fill="url(#mh)"/>
<circle cx="425.2" cy="1776.2" r="14.5" fill="url(#mh)"/>
<circle cx="496.3" cy="1794.5" r="9.6" fill="url(#mh)"/>
<circle cx="439.0" cy="1840.4" r="19.3" fill="url(#mh)"/>
<circle cx="473.4" cy="1849.6" r="14.5" fill="url(#mh)"/>
<circle cx="358.6" cy="1845.0" r="14.5" fill="url(#mh)"/>
<circle cx="335.7" cy="1863.4" r="14.5" fill="url(#mh)"/>
<circle cx="386.2" cy="1886.3" r="16.9" fill="url(#mh)"/>
<circle cx="450.4" cy="1884.0" r="12.0" fill="url(#mh)"/>
<circle cx="266.8" cy="1929.9" r="14.5" fill="url(#mh)"/>
<circle cx="255.4" cy="1968.9" r="24.1" fill="url(#mh)"/>
<circle cx="301.3" cy="1964.3" r="19.3" fill="url(#mh)"/>
<circle cx="317.3" cy="1925.3" r="9.6" fill="url(#mh)"/>
<circle cx="365.5" cy="1957.4" r="9.6" fill="url(#mh)"/>
<circle cx="381.6" cy="1918.4" r="12.0" fill="url(#mh)"/>
<circle cx="427.5" cy="1964.3" r="14.5" fill="url(#mh)"/>
<circle cx="496.3" cy="1929.9" r="12.0" fill="url(#mh)"/>
<circle cx="556.0" cy="1987.3" r="14.5" fill="url(#mh)"/>
<circle cx="381.6" cy="1998.8" r="19.3" fill="url(#mh)"/>
<circle cx="450.4" cy="2005.6" r="12.0" fill="url(#mh)"/>
<circle cx="273.7" cy="1867.9" r="14.5" fill="url(#mh)"/>
<circle cx="262.3" cy="2003.3" r="14.5" fill="url(#mh)"/>
<circle cx="634.0" cy="1749.9" r="20.9" fill="url(#mh)"/>
<circle cx="603.1" cy="1688.1" r="11.6" fill="url(#mh)"/>
<circle cx="702.5" cy="1694.7" r="13.9" fill="url(#mh)"/>
<circle cx="737.8" cy="1710.2" r="11.6" fill="url(#mh)"/>
<circle cx="857.1" cy="1688.1" r="11.6" fill="url(#mh)"/>
<circle cx="912.3" cy="1721.2" r="13.9" fill="url(#mh)"/>
<circle cx="684.8" cy="1789.7" r="16.2" fill="url(#mh)"/>
<circle cx="724.6" cy="1798.5" r="13.9" fill="url(#mh)"/>
<circle cx="757.7" cy="1809.6" r="16.2" fill="url(#mh)"/>
<circle cx="751.1" cy="1776.4" r="11.6" fill="url(#mh)"/>
<circle cx="636.3" cy="1807.3" r="13.9" fill="url(#mh)"/>
<circle cx="603.1" cy="1807.3" r="9.3" fill="url(#mh)"/>
<circle cx="684.8" cy="1840.5" r="7.0" fill="url(#mh)"/>
<circle cx="824.0" cy="1833.8" r="13.9" fill="url(#mh)"/>
<circle cx="901.3" cy="1842.7" r="16.2" fill="url(#mh)"/>
<circle cx="912.3" cy="1875.8" r="11.6" fill="url(#mh)"/>
<circle cx="729.0" cy="1864.8" r="18.6" fill="url(#mh)"/>
<circle cx="753.3" cy="1875.8" r="13.9" fill="url(#mh)"/>
<circle cx="625.2" cy="1904.5" r="13.9" fill="url(#mh)"/>
<circle cx="790.9" cy="1908.9" r="18.6" fill="url(#mh)"/>
<circle cx="835.0" cy="1931.0" r="13.9" fill="url(#mh)"/>
<circle cx="868.1" cy="1953.1" r="16.2" fill="url(#mh)"/>
<circle cx="636.3" cy="1970.8" r="23.2" fill="url(#mh)"/>
<circle cx="603.1" cy="1986.2" r="18.6" fill="url(#mh)"/>
<circle cx="746.7" cy="1964.1" r="11.6" fill="url(#mh)"/>
<circle cx="824.0" cy="1975.2" r="13.9" fill="url(#mh)"/>
<circle cx="923.4" cy="1970.8" r="9.3" fill="url(#mh)"/>
<circle cx="347.4" cy="1970.5" r="51.8" fill="url(#mh)"/>
<circle cx="273.4" cy="1980.4" r="41.5" fill="url(#mh)"/>
<circle cx="446.1" cy="1975.5" r="41.5" fill="url(#mh)"/>
<circle cx="791.6" cy="1950.8" r="51.8" fill="url(#mh)"/>
<circle cx="865.6" cy="1916.3" r="41.5" fill="url(#mh)"/>
<circle cx="643.5" cy="1743.5" r="41.5" fill="url(#mh)"/>
<circle cx="692.9" cy="1792.9" r="31.1" fill="url(#mh)"/>
<circle cx="426.4" cy="1862.0" r="31.1" fill="url(#mh)"/>
<circle cx="298.1" cy="1832.4" r="31.1" fill="url(#mh)"/>
<circle cx="495.5" cy="1881.7" r="25.9" fill="url(#mh)"/>
<circle cx="766.9" cy="1866.9" r="31.1" fill="url(#mh)"/>
</mask>
<filter id="nzd" filterUnits="userSpaceOnUse" x="1141.2" y="1289.4" width="738.7" height="729.0999999999999" color-interpolation-filters="sRGB"><feTurbulence type="fractalNoise" baseFrequency="0.04" numOctaves="2" seed="53"/><feColorMatrix type="matrix" values="0 0 0 0 0  0 0 0 0 0  0 0 0 0 0  4.0 0 0 0 -1.8000"/><feComponentTransfer><feFuncA type="table" tableValues="0 0.12 0.2 0.26 0.3 0.34"/></feComponentTransfer></filter>
<filter id="mbd" filterUnits="userSpaceOnUse" x="1086.2" y="1234.4" width="848.7" height="839.0999999999999"><feGaussianBlur stdDeviation="28"/></filter>
<mask id="dmd" maskUnits="userSpaceOnUse" x="1141.2" y="1289.4" width="738.7" height="729.0999999999999"><g filter="url(#mbd)">
<rect x="1106.2" y="1254.4" width="131.6" height="130.4" fill="rgb(255,255,255)"/>
<rect x="1237.3" y="1254.4" width="91.6" height="130.4" fill="rgb(255,255,255)"/>
<rect x="1328.4" y="1254.4" width="91.6" height="130.4" fill="rgb(255,255,255)"/>
<rect x="1419.5" y="1254.4" width="91.6" height="130.4" fill="rgb(230,230,230)"/>
<rect x="1510.6" y="1254.4" width="91.6" height="130.4" fill="rgb(230,230,230)"/>
<rect x="1601.6" y="1254.4" width="91.6" height="130.4" fill="rgb(230,230,230)"/>
<rect x="1692.7" y="1254.4" width="91.6" height="130.4" fill="rgb(230,230,230)"/>
<rect x="1783.8" y="1254.4" width="131.6" height="130.4" fill="rgb(230,230,230)"/>
<rect x="1106.2" y="1384.3" width="131.6" height="90.4" fill="rgb(255,255,255)"/>
<rect x="1237.3" y="1384.3" width="91.6" height="90.4" fill="rgb(255,255,255)"/>
<rect x="1328.4" y="1384.3" width="91.6" height="90.4" fill="rgb(255,255,255)"/>
<rect x="1419.5" y="1384.3" width="91.6" height="90.4" fill="rgb(255,255,255)"/>
<rect x="1510.6" y="1384.3" width="91.6" height="90.4" fill="rgb(230,230,230)"/>
<rect x="1601.6" y="1384.3" width="91.6" height="90.4" fill="rgb(230,230,230)"/>
<rect x="1692.7" y="1384.3" width="91.6" height="90.4" fill="rgb(230,230,230)"/>
<rect x="1783.8" y="1384.3" width="131.6" height="90.4" fill="rgb(230,230,230)"/>
<rect x="1106.2" y="1474.2" width="131.6" height="90.4" fill="rgb(255,255,255)"/>
<rect x="1237.3" y="1474.2" width="91.6" height="90.4" fill="rgb(255,255,255)"/>
<rect x="1328.4" y="1474.2" width="91.6" height="90.4" fill="rgb(255,255,255)"/>
<rect x="1419.5" y="1474.2" width="91.6" height="90.4" fill="rgb(255,255,255)"/>
<rect x="1510.6" y="1474.2" width="91.6" height="90.4" fill="rgb(255,255,255)"/>
<rect x="1601.6" y="1474.2" width="91.6" height="90.4" fill="rgb(255,255,255)"/>
<rect x="1692.7" y="1474.2" width="91.6" height="90.4" fill="rgb(255,255,255)"/>
<rect x="1783.8" y="1474.2" width="131.6" height="90.4" fill="rgb(255,255,255)"/>
<rect x="1106.2" y="1564.1" width="131.6" height="90.4" fill="rgb(230,230,230)"/>
<rect x="1237.3" y="1564.1" width="91.6" height="90.4" fill="rgb(230,230,230)"/>
<rect x="1328.4" y="1564.1" width="91.6" height="90.4" fill="rgb(230,230,230)"/>
<rect x="1419.5" y="1564.1" width="91.6" height="90.4" fill="rgb(230,230,230)"/>
<rect x="1510.6" y="1564.1" width="91.6" height="90.4" fill="rgb(255,255,255)"/>
<rect x="1601.6" y="1564.1" width="91.6" height="90.4" fill="rgb(255,255,255)"/>
<rect x="1692.7" y="1564.1" width="91.6" height="90.4" fill="rgb(255,255,255)"/>
<rect x="1783.8" y="1564.1" width="131.6" height="90.4" fill="rgb(255,255,255)"/>
<rect x="1106.2" y="1654.0" width="131.6" height="90.4" fill="rgb(178,178,178)"/>
<rect x="1237.3" y="1654.0" width="91.6" height="90.4" fill="rgb(178,178,178)"/>
<rect x="1328.4" y="1654.0" width="91.6" height="90.4" fill="rgb(153,153,153)"/>
<rect x="1419.5" y="1654.0" width="91.6" height="90.4" fill="rgb(153,153,153)"/>
<rect x="1510.6" y="1654.0" width="91.6" height="90.4" fill="rgb(204,204,204)"/>
<rect x="1601.6" y="1654.0" width="91.6" height="90.4" fill="rgb(204,204,204)"/>
<rect x="1692.7" y="1654.0" width="91.6" height="90.4" fill="rgb(204,204,204)"/>
<rect x="1783.8" y="1654.0" width="131.6" height="90.4" fill="rgb(178,178,178)"/>
<rect x="1106.2" y="1743.8" width="131.6" height="90.4" fill="rgb(128,128,128)"/>
<rect x="1237.3" y="1743.8" width="91.6" height="90.4" fill="rgb(89,89,89)"/>
<rect x="1328.4" y="1743.8" width="91.6" height="90.4" fill="rgb(89,89,89)"/>
<rect x="1419.5" y="1743.8" width="91.6" height="90.4" fill="rgb(102,102,102)"/>
<rect x="1510.6" y="1743.8" width="91.6" height="90.4" fill="rgb(102,102,102)"/>
<rect x="1601.6" y="1743.8" width="91.6" height="90.4" fill="rgb(128,128,128)"/>
<rect x="1692.7" y="1743.8" width="91.6" height="90.4" fill="rgb(128,128,128)"/>
<rect x="1783.8" y="1743.8" width="131.6" height="90.4" fill="rgb(102,102,102)"/>
<rect x="1106.2" y="1833.7" width="131.6" height="90.4" fill="rgb(128,128,128)"/>
<rect x="1237.3" y="1833.7" width="91.6" height="90.4" fill="rgb(76,76,76)"/>
<rect x="1328.4" y="1833.7" width="91.6" height="90.4" fill="rgb(64,64,64)"/>
<rect x="1419.5" y="1833.7" width="91.6" height="90.4" fill="rgb(64,64,64)"/>
<rect x="1510.6" y="1833.7" width="91.6" height="90.4" fill="rgb(102,102,102)"/>
<rect x="1601.6" y="1833.7" width="91.6" height="90.4" fill="rgb(128,128,128)"/>
<rect x="1692.7" y="1833.7" width="91.6" height="90.4" fill="rgb(64,64,64)"/>
<rect x="1783.8" y="1833.7" width="131.6" height="90.4" fill="rgb(76,76,76)"/>
<rect x="1106.2" y="1923.6" width="131.6" height="130.4" fill="rgb(153,153,153)"/>
<rect x="1237.3" y="1923.6" width="91.6" height="130.4" fill="rgb(102,102,102)"/>
<rect x="1328.4" y="1923.6" width="91.6" height="130.4" fill="rgb(76,76,76)"/>
<rect x="1419.5" y="1923.6" width="91.6" height="130.4" fill="rgb(76,76,76)"/>
<rect x="1510.6" y="1923.6" width="91.6" height="130.4" fill="rgb(128,128,128)"/>
<rect x="1601.6" y="1923.6" width="91.6" height="130.4" fill="rgb(153,153,153)"/>
<rect x="1692.7" y="1923.6" width="91.6" height="130.4" fill="rgb(102,102,102)"/>
<rect x="1783.8" y="1923.6" width="131.6" height="130.4" fill="rgb(102,102,102)"/>
</g>
<circle cx="1150.6" cy="1323.8" r="7.2" fill="url(#mh)"/>
<circle cx="1173.5" cy="1346.6" r="9.6" fill="url(#mh)"/>
<circle cx="1233.0" cy="1339.8" r="10.8" fill="url(#mh)"/>
<circle cx="1283.3" cy="1339.8" r="9.6" fill="url(#mh)"/>
<circle cx="1306.2" cy="1305.4" r="9.6" fill="url(#mh)"/>
<circle cx="1347.4" cy="1316.9" r="12.0" fill="url(#mh)"/>
<circle cx="1397.8" cy="1328.3" r="9.6" fill="url(#mh)"/>
<circle cx="1443.5" cy="1332.9" r="9.6" fill="url(#mh)"/>
<circle cx="1500.8" cy="1351.2" r="12.0" fill="url(#mh)"/>
<circle cx="1503.0" cy="1385.5" r="9.6" fill="url(#mh)"/>
<circle cx="1315.4" cy="1410.7" r="12.0" fill="url(#mh)"/>
<circle cx="1342.8" cy="1422.2" r="9.6" fill="url(#mh)"/>
<circle cx="1287.9" cy="1397.0" r="9.6" fill="url(#mh)"/>
<circle cx="1386.3" cy="1403.9" r="9.6" fill="url(#mh)"/>
<circle cx="1210.1" cy="1458.8" r="9.6" fill="url(#mh)"/>
<circle cx="1237.5" cy="1435.9" r="9.6" fill="url(#mh)"/>
<circle cx="1292.5" cy="1467.9" r="12.0" fill="url(#mh)"/>
<circle cx="1340.5" cy="1467.9" r="14.4" fill="url(#mh)"/>
<circle cx="1416.1" cy="1461.1" r="9.6" fill="url(#mh)"/>
<circle cx="1498.5" cy="1490.8" r="9.6" fill="url(#mh)"/>
<circle cx="1464.1" cy="1511.4" r="9.6" fill="url(#mh)"/>
<circle cx="1237.5" cy="1527.4" r="7.2" fill="url(#mh)"/>
<circle cx="1432.1" cy="1545.8" r="16.8" fill="url(#mh)"/>
<circle cx="1386.3" cy="1580.1" r="14.4" fill="url(#mh)"/>
<circle cx="1397.8" cy="1603.0" r="14.4" fill="url(#mh)"/>
<circle cx="1283.3" cy="1557.2" r="9.6" fill="url(#mh)"/>
<circle cx="1237.5" cy="1575.5" r="9.6" fill="url(#mh)"/>
<circle cx="1180.3" cy="1589.2" r="12.0" fill="url(#mh)"/>
<circle cx="1164.3" cy="1632.7" r="9.6" fill="url(#mh)"/>
<circle cx="1210.1" cy="1651.0" r="7.2" fill="url(#mh)"/>
<circle cx="1265.0" cy="1641.9" r="7.2" fill="url(#mh)"/>
<circle cx="1427.5" cy="1641.9" r="12.0" fill="url(#mh)"/>
<circle cx="1530.3" cy="1342.6" r="13.9" fill="url(#mh)"/>
<circle cx="1583.3" cy="1320.5" r="9.3" fill="url(#mh)"/>
<circle cx="1658.3" cy="1329.3" r="11.6" fill="url(#mh)"/>
<circle cx="1711.3" cy="1338.2" r="13.9" fill="url(#mh)"/>
<circle cx="1777.6" cy="1338.2" r="11.6" fill="url(#mh)"/>
<circle cx="1843.9" cy="1320.5" r="11.6" fill="url(#mh)"/>
<circle cx="1810.7" cy="1355.8" r="9.3" fill="url(#mh)"/>
<circle cx="1530.3" cy="1369.1" r="9.3" fill="url(#mh)"/>
<circle cx="1596.5" cy="1369.1" r="9.3" fill="url(#mh)"/>
<circle cx="1631.8" cy="1389.0" r="11.6" fill="url(#mh)"/>
<circle cx="1682.6" cy="1391.2" r="11.6" fill="url(#mh)"/>
<circle cx="1742.3" cy="1386.8" r="13.9" fill="url(#mh)"/>
<circle cx="1790.9" cy="1382.3" r="9.3" fill="url(#mh)"/>
<circle cx="1861.5" cy="1408.8" r="11.6" fill="url(#mh)"/>
<circle cx="1561.2" cy="1404.4" r="7.0" fill="url(#mh)"/>
<circle cx="1691.5" cy="1430.9" r="11.6" fill="url(#mh)"/>
<circle cx="1808.5" cy="1435.3" r="9.3" fill="url(#mh)"/>
<circle cx="1861.5" cy="1455.2" r="13.9" fill="url(#mh)"/>
<circle cx="1653.9" cy="1455.2" r="16.2" fill="url(#mh)"/>
<circle cx="1552.3" cy="1466.3" r="11.6" fill="url(#mh)"/>
<circle cx="1603.1" cy="1492.8" r="9.3" fill="url(#mh)"/>
<circle cx="1671.6" cy="1488.3" r="16.2" fill="url(#mh)"/>
<circle cx="1715.8" cy="1488.3" r="9.3" fill="url(#mh)"/>
<circle cx="1806.3" cy="1492.8" r="11.6" fill="url(#mh)"/>
<circle cx="1841.7" cy="1481.7" r="9.3" fill="url(#mh)"/>
<circle cx="1810.7" cy="1506.0" r="11.6" fill="url(#mh)"/>
<circle cx="1861.5" cy="1514.9" r="9.3" fill="url(#mh)"/>
<circle cx="1525.8" cy="1525.9" r="9.3" fill="url(#mh)"/>
<circle cx="1640.7" cy="1530.3" r="16.2" fill="url(#mh)"/>
<circle cx="1684.8" cy="1528.1" r="13.9" fill="url(#mh)"/>
<circle cx="1600.9" cy="1548.0" r="13.9" fill="url(#mh)"/>
<circle cx="1748.9" cy="1539.1" r="9.3" fill="url(#mh)"/>
<circle cx="1777.6" cy="1543.6" r="9.3" fill="url(#mh)"/>
<circle cx="1826.2" cy="1528.1" r="9.3" fill="url(#mh)"/>
<circle cx="1865.9" cy="1565.6" r="13.9" fill="url(#mh)"/>
<circle cx="1857.1" cy="1589.9" r="9.3" fill="url(#mh)"/>
<circle cx="1565.6" cy="1581.1" r="13.9" fill="url(#mh)"/>
<circle cx="1656.1" cy="1583.3" r="9.3" fill="url(#mh)"/>
<circle cx="1698.1" cy="1585.5" r="9.3" fill="url(#mh)"/>
<circle cx="1759.9" cy="1563.4" r="11.6" fill="url(#mh)"/>
<circle cx="1583.3" cy="1609.8" r="16.2" fill="url(#mh)"/>
<circle cx="1530.3" cy="1618.7" r="11.6" fill="url(#mh)"/>
<circle cx="1693.7" cy="1614.2" r="9.3" fill="url(#mh)"/>
<circle cx="1748.9" cy="1616.4" r="9.3" fill="url(#mh)"/>
<circle cx="1612.0" cy="1629.7" r="7.0" fill="url(#mh)"/>
<circle cx="1660.6" cy="1645.2" r="13.9" fill="url(#mh)"/>
<circle cx="1693.7" cy="1647.4" r="9.3" fill="url(#mh)"/>
<circle cx="1742.3" cy="1634.1" r="5.8" fill="url(#mh)"/>
<circle cx="1191.8" cy="1688.9" r="19.2" fill="url(#mh)"/>
<circle cx="1249.0" cy="1707.2" r="16.8" fill="url(#mh)"/>
<circle cx="1294.8" cy="1725.5" r="14.4" fill="url(#mh)"/>
<circle cx="1345.1" cy="1734.7" r="12.0" fill="url(#mh)"/>
<circle cx="1374.9" cy="1716.4" r="12.0" fill="url(#mh)"/>
<circle cx="1443.5" cy="1707.2" r="14.4" fill="url(#mh)"/>
<circle cx="1489.3" cy="1739.2" r="16.8" fill="url(#mh)"/>
<circle cx="1171.2" cy="1769.0" r="9.6" fill="url(#mh)"/>
<circle cx="1249.0" cy="1753.0" r="12.0" fill="url(#mh)"/>
<circle cx="1214.7" cy="1803.3" r="21.6" fill="url(#mh)"/>
<circle cx="1191.8" cy="1826.2" r="19.2" fill="url(#mh)"/>
<circle cx="1242.1" cy="1814.8" r="14.4" fill="url(#mh)"/>
<circle cx="1374.9" cy="1787.3" r="9.6" fill="url(#mh)"/>
<circle cx="1420.6" cy="1789.6" r="12.0" fill="url(#mh)"/>
<circle cx="1484.7" cy="1775.9" r="9.6" fill="url(#mh)"/>
<circle cx="1306.2" cy="1789.6" r="9.6" fill="url(#mh)"/>
<circle cx="1340.5" cy="1796.5" r="9.6" fill="url(#mh)"/>
<circle cx="1397.8" cy="1849.1" r="24.0" fill="url(#mh)"/>
<circle cx="1443.5" cy="1867.4" r="24.0" fill="url(#mh)"/>
<circle cx="1477.9" cy="1894.9" r="24.0" fill="url(#mh)"/>
<circle cx="1503.0" cy="1913.2" r="14.4" fill="url(#mh)"/>
<circle cx="1164.3" cy="1888.0" r="19.2" fill="url(#mh)"/>
<circle cx="1203.2" cy="1890.3" r="9.6" fill="url(#mh)"/>
<circle cx="1249.0" cy="1906.3" r="14.4" fill="url(#mh)"/>
<circle cx="1317.7" cy="1929.2" r="19.2" fill="url(#mh)"/>
<circle cx="1352.0" cy="1929.2" r="14.4" fill="url(#mh)"/>
<circle cx="1352.0" cy="1963.5" r="9.6" fill="url(#mh)"/>
<circle cx="1381.7" cy="1963.5" r="9.6" fill="url(#mh)"/>
<circle cx="1260.4" cy="1952.1" r="14.4" fill="url(#mh)"/>
<circle cx="1191.8" cy="1959.0" r="9.6" fill="url(#mh)"/>
<circle cx="1168.9" cy="1952.1" r="7.2" fill="url(#mh)"/>
<circle cx="1294.8" cy="1986.4" r="9.6" fill="url(#mh)"/>
<circle cx="1397.8" cy="1986.4" r="19.2" fill="url(#mh)"/>
<circle cx="1443.5" cy="1997.9" r="19.2" fill="url(#mh)"/>
<circle cx="1489.3" cy="1993.3" r="14.4" fill="url(#mh)"/>
<circle cx="1214.7" cy="2000.2" r="12.0" fill="url(#mh)"/>
<circle cx="1329.1" cy="2000.2" r="9.6" fill="url(#mh)"/>
<circle cx="1528.0" cy="1705.8" r="13.9" fill="url(#mh)"/>
<circle cx="1583.3" cy="1688.1" r="11.6" fill="url(#mh)"/>
<circle cx="1649.5" cy="1710.2" r="18.6" fill="url(#mh)"/>
<circle cx="1689.3" cy="1719.0" r="7.0" fill="url(#mh)"/>
<circle cx="1737.9" cy="1692.5" r="9.3" fill="url(#mh)"/>
<circle cx="1782.0" cy="1716.8" r="13.9" fill="url(#mh)"/>
<circle cx="1848.3" cy="1705.8" r="13.9" fill="url(#mh)"/>
<circle cx="1852.7" cy="1743.3" r="11.6" fill="url(#mh)"/>
<circle cx="1539.1" cy="1772.0" r="16.2" fill="url(#mh)"/>
<circle cx="1572.2" cy="1758.8" r="11.6" fill="url(#mh)"/>
<circle cx="1616.4" cy="1798.5" r="20.9" fill="url(#mh)"/>
<circle cx="1671.6" cy="1785.3" r="18.6" fill="url(#mh)"/>
<circle cx="1709.1" cy="1798.5" r="13.9" fill="url(#mh)"/>
<circle cx="1737.9" cy="1758.8" r="7.0" fill="url(#mh)"/>
<circle cx="1804.1" cy="1787.5" r="13.9" fill="url(#mh)"/>
<circle cx="1837.2" cy="1780.8" r="11.6" fill="url(#mh)"/>
<circle cx="1561.2" cy="1798.5" r="13.9" fill="url(#mh)"/>
<circle cx="1737.9" cy="1820.6" r="13.9" fill="url(#mh)"/>
<circle cx="1782.0" cy="1816.2" r="16.2" fill="url(#mh)"/>
<circle cx="1826.2" cy="1825.0" r="13.9" fill="url(#mh)"/>
<circle cx="1857.1" cy="1820.6" r="9.3" fill="url(#mh)"/>
<circle cx="1671.6" cy="1869.2" r="23.2" fill="url(#mh)"/>
<circle cx="1715.8" cy="1878.0" r="18.6" fill="url(#mh)"/>
<circle cx="1638.5" cy="1875.8" r="13.9" fill="url(#mh)"/>
<circle cx="1837.2" cy="1864.8" r="13.9" fill="url(#mh)"/>
<circle cx="1854.9" cy="1875.8" r="13.9" fill="url(#mh)"/>
<circle cx="1561.2" cy="1864.8" r="7.0" fill="url(#mh)"/>
<circle cx="1574.4" cy="1904.5" r="11.6" fill="url(#mh)"/>
<circle cx="1539.1" cy="1904.5" r="7.0" fill="url(#mh)"/>
<circle cx="1726.8" cy="1926.6" r="23.2" fill="url(#mh)"/>
<circle cx="1793.1" cy="1931.0" r="20.9" fill="url(#mh)"/>
<circle cx="1693.7" cy="1886.9" r="18.6" fill="url(#mh)"/>
<circle cx="1539.1" cy="1986.2" r="23.2" fill="url(#mh)"/>
<circle cx="1583.3" cy="1992.9" r="18.6" fill="url(#mh)"/>
<circle cx="1627.4" cy="1992.9" r="11.6" fill="url(#mh)"/>
<circle cx="1706.9" cy="1964.1" r="13.9" fill="url(#mh)"/>
<circle cx="1804.1" cy="1975.2" r="11.6" fill="url(#mh)"/>
<circle cx="1837.2" cy="1970.8" r="9.3" fill="url(#mh)"/>
<circle cx="1870.4" cy="1997.3" r="9.3" fill="url(#mh)"/>
<circle cx="1203.2" cy="1814.8" r="28.8" fill="url(#mh)"/>
<circle cx="1214.7" cy="1791.9" r="21.6" fill="url(#mh)"/>
<circle cx="1180.3" cy="1890.3" r="19.2" fill="url(#mh)"/>
<circle cx="1397.8" cy="1849.1" r="28.8" fill="url(#mh)"/>
<circle cx="1443.5" cy="1872.0" r="28.8" fill="url(#mh)"/>
<circle cx="1477.9" cy="1894.9" r="26.4" fill="url(#mh)"/>
<circle cx="1329.1" cy="1929.2" r="24.0" fill="url(#mh)"/>
<circle cx="1397.8" cy="1991.0" r="24.0" fill="url(#mh)"/>
<circle cx="1443.5" cy="1997.9" r="24.0" fill="url(#mh)"/>
<circle cx="1445.5" cy="1792.9" r="41.5" fill="url(#mh)"/>
<circle cx="1396.1" cy="1743.5" r="31.1" fill="url(#mh)"/>
<circle cx="1544.2" cy="1768.2" r="36.3" fill="url(#mh)"/>
<circle cx="1716.9" cy="1817.6" r="46.6" fill="url(#mh)"/>
<circle cx="1790.9" cy="1792.9" r="41.5" fill="url(#mh)"/>
<circle cx="1766.3" cy="1916.3" r="51.8" fill="url(#mh)"/>
<circle cx="1815.6" cy="1965.6" r="41.5" fill="url(#mh)"/>
<circle cx="1346.8" cy="1965.6" r="41.5" fill="url(#mh)"/>
<circle cx="1272.7" cy="1980.4" r="31.1" fill="url(#mh)"/>
<circle cx="1445.5" cy="1980.4" r="31.1" fill="url(#mh)"/>
<circle cx="1198.7" cy="1817.6" r="25.9" fill="url(#mh)"/>
<circle cx="1248.1" cy="1783.0" r="20.7" fill="url(#mh)"/>
<circle cx="1494.8" cy="1704.0" r="25.9" fill="url(#mh)"/>
<circle cx="1593.5" cy="1704.0" r="25.9" fill="url(#mh)"/>
<circle cx="1420.8" cy="1832.4" r="20.7" fill="url(#mh)"/>
</mask>
</defs>
<g clip-path="url(#hca)"><g filter="url(#cmap)">
<rect x="195.0" y="175.8" width="733.6" height="723.4000000000001" fill="#fff"/>
<g mask="url(#dma)"><rect x="192.0" y="172.8" width="739.6" height="729.4000000000001" fill="#000" filter="url(#nza)"/></g>
<circle cx="202.7" cy="317.6" r="3.6" fill="url(#g2)"/>
<circle cx="203.9" cy="697.8" r="9.6" fill="url(#g2)"/>
<circle cx="210.7" cy="558.2" r="7.2" fill="url(#g2)"/>
<circle cx="222.2" cy="523.6" r="3.6" fill="url(#g2)"/>
<circle cx="238.2" cy="347.4" r="3.6" fill="url(#g2)"/>
<circle cx="238.2" cy="507.6" r="4.8" fill="url(#g2)"/>
<circle cx="242.8" cy="392.0" r="4.8" fill="url(#g2)"/>
<circle cx="247.4" cy="539.6" r="3.6" fill="url(#g2)"/>
<circle cx="249.6" cy="822.5" r="4.8" fill="url(#g2)"/>
<circle cx="251.9" cy="441.2" r="4.8" fill="url(#g2)"/>
<circle cx="254.2" cy="700.1" r="8.4" fill="url(#g2)"/>
<circle cx="254.2" cy="789.3" r="12.0" fill="url(#g2)"/>
<circle cx="263.4" cy="736.7" r="6.0" fill="url(#g2)"/>
<circle cx="265.7" cy="237.5" r="9.6" fill="url(#g2)"/>
<circle cx="265.7" cy="265.0" r="8.4" fill="url(#g2)"/>
<circle cx="265.7" cy="290.1" r="7.2" fill="url(#g2)"/>
<circle cx="265.7" cy="329.1" r="3.6" fill="url(#g2)"/>
<circle cx="265.7" cy="519.0" r="4.8" fill="url(#g2)"/>
<circle cx="270.2" cy="402.3" r="6.0" fill="url(#g2)"/>
<circle cx="270.2" cy="562.7" r="4.8" fill="url(#g2)"/>
<circle cx="274.8" cy="462.9" r="4.8" fill="url(#g2)"/>
<circle cx="277.1" cy="416.0" r="8.4" fill="url(#g2)"/>
<circle cx="286.3" cy="377.1" r="4.8" fill="url(#g2)"/>
<circle cx="288.5" cy="617.7" r="7.2" fill="url(#g2)"/>
<circle cx="288.5" cy="725.2" r="7.2" fill="url(#g2)"/>
<circle cx="293.1" cy="816.8" r="6.0" fill="url(#g2)"/>
<circle cx="300.0" cy="553.6" r="7.2" fill="url(#g2)"/>
<circle cx="313.7" cy="224.9" r="3.6" fill="url(#g2)"/>
<circle cx="313.7" cy="306.2" r="4.8" fill="url(#g2)"/>
<circle cx="316.0" cy="322.2" r="6.0" fill="url(#g2)"/>
<circle cx="318.3" cy="608.5" r="9.6" fill="url(#g2)"/>
<circle cx="325.2" cy="558.2" r="7.2" fill="url(#g2)"/>
<circle cx="327.5" cy="599.4" r="8.4" fill="url(#g2)"/>
<circle cx="334.3" cy="645.1" r="8.4" fill="url(#g2)"/>
<circle cx="338.9" cy="416.0" r="7.2" fill="url(#g2)"/>
<circle cx="338.9" cy="503.0" r="4.8" fill="url(#g2)"/>
<circle cx="345.8" cy="308.5" r="6.0" fill="url(#g2)"/>
<circle cx="348.1" cy="395.4" r="3.6" fill="url(#g2)"/>
<circle cx="348.1" cy="626.8" r="7.2" fill="url(#g2)"/>
<circle cx="350.3" cy="432.0" r="4.8" fill="url(#g2)"/>
<circle cx="364.1" cy="182.6" r="7.2" fill="url(#g2)"/>
<circle cx="366.4" cy="370.3" r="3.6" fill="url(#g2)"/>
<circle cx="370.9" cy="340.5" r="3.6" fill="url(#g2)"/>
<circle cx="380.1" cy="418.3" r="4.8" fill="url(#g2)"/>
<circle cx="382.4" cy="301.6" r="3.6" fill="url(#g2)"/>
<circle cx="391.5" cy="544.2" r="4.8" fill="url(#g2)"/>
<circle cx="393.8" cy="565.0" r="7.2" fill="url(#g2)"/>
<circle cx="403.0" cy="739.0" r="6.0" fill="url(#g2)"/>
<circle cx="405.3" cy="271.8" r="4.8" fill="url(#g2)"/>
<circle cx="409.9" cy="402.3" r="3.6" fill="url(#g2)"/>
<circle cx="409.9" cy="471.0" r="6.0" fill="url(#g2)"/>
<circle cx="409.9" cy="759.6" r="4.8" fill="url(#g2)"/>
<circle cx="412.1" cy="255.8" r="6.0" fill="url(#g2)"/>
<circle cx="425.9" cy="525.9" r="4.8" fill="url(#g2)"/>
<circle cx="436.2" cy="183.7" r="6.0" fill="url(#g2)"/>
<circle cx="437.3" cy="484.7" r="4.8" fill="url(#g2)"/>
<circle cx="444.2" cy="427.5" r="7.2" fill="url(#g2)"/>
<circle cx="448.8" cy="384.0" r="4.8" fill="url(#g2)"/>
<circle cx="455.6" cy="397.7" r="4.8" fill="url(#g2)"/>
<circle cx="457.9" cy="289.0" r="6.0" fill="url(#g2)"/>
<circle cx="457.9" cy="867.1" r="4.8" fill="url(#g2)"/>
<circle cx="460.2" cy="613.1" r="7.2" fill="url(#g2)"/>
<circle cx="467.1" cy="697.8" r="6.0" fill="url(#g2)"/>
<circle cx="469.4" cy="262.7" r="4.8" fill="url(#g2)"/>
<circle cx="469.4" cy="438.9" r="4.8" fill="url(#g2)"/>
<circle cx="471.6" cy="464.1" r="4.8" fill="url(#g2)"/>
<circle cx="476.2" cy="581.0" r="7.2" fill="url(#g2)"/>
<circle cx="476.2" cy="763.0" r="4.8" fill="url(#g2)"/>
<circle cx="478.5" cy="191.7" r="6.0" fill="url(#g2)"/>
<circle cx="478.5" cy="686.3" r="4.8" fill="url(#g2)"/>
<circle cx="483.1" cy="310.7" r="6.0" fill="url(#g2)"/>
<circle cx="483.1" cy="384.0" r="4.8" fill="url(#g2)"/>
<circle cx="494.5" cy="512.2" r="4.8" fill="url(#g2)"/>
<circle cx="501.4" cy="258.1" r="7.2" fill="url(#g2)"/>
<circle cx="501.4" cy="496.1" r="7.2" fill="url(#g2)"/>
<circle cx="517.4" cy="329.1" r="4.8" fill="url(#g2)"/>
<circle cx="517.4" cy="487.0" r="9.6" fill="url(#g2)"/>
<circle cx="528.9" cy="576.5" r="6.0" fill="url(#g2)"/>
<circle cx="533.4" cy="846.5" r="4.8" fill="url(#g2)"/>
<circle cx="547.2" cy="197.5" r="6.0" fill="url(#g2)"/>
<circle cx="551.8" cy="294.7" r="4.8" fill="url(#g2)"/>
<circle cx="560.9" cy="253.5" r="3.6" fill="url(#g2)"/>
<circle cx="560.9" cy="361.1" r="7.2" fill="url(#g2)"/>
<circle cx="560.9" cy="425.2" r="6.0" fill="url(#g2)"/>
<circle cx="563.2" cy="796.2" r="4.8" fill="url(#g2)"/>
<circle cx="574.6" cy="608.8" r="7.0" fill="url(#g2)"/>
<circle cx="583.5" cy="186.9" r="7.0" fill="url(#g2)"/>
<circle cx="590.1" cy="421.6" r="7.0" fill="url(#g2)"/>
<circle cx="590.1" cy="461.5" r="7.0" fill="url(#g2)"/>
<circle cx="594.6" cy="271.0" r="4.7" fill="url(#g2)"/>
<circle cx="594.6" cy="315.3" r="5.8" fill="url(#g2)"/>
<circle cx="616.7" cy="242.2" r="4.7" fill="url(#g2)"/>
<circle cx="618.9" cy="505.8" r="8.1" fill="url(#g2)"/>
<circle cx="632.2" cy="193.5" r="7.0" fill="url(#g2)"/>
<circle cx="634.4" cy="584.4" r="5.8" fill="url(#g2)"/>
<circle cx="656.6" cy="492.5" r="7.0" fill="url(#g2)"/>
<circle cx="669.9" cy="587.8" r="5.8" fill="url(#g2)"/>
<circle cx="669.9" cy="779.3" r="5.8" fill="url(#g2)"/>
<circle cx="694.2" cy="319.7" r="7.0" fill="url(#g2)"/>
<circle cx="700.9" cy="505.8" r="5.8" fill="url(#g2)"/>
<circle cx="709.7" cy="852.4" r="7.0" fill="url(#g2)"/>
<circle cx="718.6" cy="390.6" r="5.8" fill="url(#g2)"/>
<circle cx="718.6" cy="679.7" r="7.0" fill="url(#g2)"/>
<circle cx="723.0" cy="781.5" r="4.7" fill="url(#g2)"/>
<circle cx="740.7" cy="841.3" r="5.8" fill="url(#g2)"/>
<circle cx="745.2" cy="646.4" r="5.8" fill="url(#g2)"/>
<circle cx="751.8" cy="273.2" r="7.0" fill="url(#g2)"/>
<circle cx="758.5" cy="530.1" r="7.0" fill="url(#g2)"/>
<circle cx="778.4" cy="523.5" r="5.8" fill="url(#g2)"/>
<circle cx="778.4" cy="743.9" r="5.8" fill="url(#g2)"/>
<circle cx="780.6" cy="443.8" r="7.0" fill="url(#g2)"/>
<circle cx="789.5" cy="288.7" r="8.1" fill="url(#g2)"/>
<circle cx="791.7" cy="843.6" r="4.7" fill="url(#g2)"/>
<circle cx="793.9" cy="617.7" r="7.0" fill="url(#g2)"/>
<circle cx="800.5" cy="741.7" r="5.8" fill="url(#g2)"/>
<circle cx="809.4" cy="322.0" r="8.1" fill="url(#g2)"/>
<circle cx="816.0" cy="341.9" r="5.8" fill="url(#g2)"/>
<circle cx="824.9" cy="195.7" r="5.8" fill="url(#g2)"/>
<circle cx="831.5" cy="852.4" r="5.8" fill="url(#g2)"/>
<circle cx="836.0" cy="372.9" r="5.8" fill="url(#g2)"/>
<circle cx="849.3" cy="191.3" r="4.7" fill="url(#g2)"/>
<circle cx="855.9" cy="381.8" r="5.8" fill="url(#g2)"/>
<circle cx="858.1" cy="746.1" r="5.8" fill="url(#g2)"/>
<circle cx="860.3" cy="430.5" r="4.7" fill="url(#g2)"/>
<circle cx="860.3" cy="597.7" r="8.1" fill="url(#g2)"/>
<circle cx="862.6" cy="333.0" r="5.8" fill="url(#g2)"/>
<circle cx="864.8" cy="622.1" r="5.8" fill="url(#g2)"/>
<circle cx="869.2" cy="286.5" r="5.8" fill="url(#g2)"/>
<circle cx="900.2" cy="488.1" r="5.8" fill="url(#g2)"/>
<circle cx="913.5" cy="553.4" r="7.0" fill="url(#g2)"/>
<circle cx="917.9" cy="441.5" r="4.7" fill="url(#g2)"/>
<circle cx="203.9" cy="361.1" r="8.4" fill="url(#g4)"/>
<circle cx="210.7" cy="184.9" r="9.6" fill="url(#g4)"/>
<circle cx="213.0" cy="226.1" r="10.8" fill="url(#g4)"/>
<circle cx="219.9" cy="432.0" r="10.8" fill="url(#g4)"/>
<circle cx="222.2" cy="297.0" r="8.4" fill="url(#g4)"/>
<circle cx="224.5" cy="244.4" r="10.8" fill="url(#g4)"/>
<circle cx="224.5" cy="585.6" r="9.6" fill="url(#g4)"/>
<circle cx="224.5" cy="638.3" r="7.2" fill="url(#g4)"/>
<circle cx="231.3" cy="663.4" r="14.4" fill="url(#g4)"/>
<circle cx="254.2" cy="668.0" r="10.8" fill="url(#g4)"/>
<circle cx="293.1" cy="652.0" r="7.2" fill="url(#g4)"/>
<circle cx="295.4" cy="183.7" r="9.6" fill="url(#g4)"/>
<circle cx="295.4" cy="250.1" r="7.2" fill="url(#g4)"/>
<circle cx="325.2" cy="693.2" r="9.6" fill="url(#g4)"/>
<circle cx="343.5" cy="333.6" r="6.0" fill="url(#g4)"/>
<circle cx="345.8" cy="260.4" r="8.4" fill="url(#g4)"/>
<circle cx="345.8" cy="475.5" r="7.2" fill="url(#g4)"/>
<circle cx="352.6" cy="581.0" r="9.6" fill="url(#g4)"/>
<circle cx="361.8" cy="492.7" r="7.2" fill="url(#g4)"/>
<circle cx="373.2" cy="665.7" r="7.2" fill="url(#g4)"/>
<circle cx="375.5" cy="876.3" r="6.0" fill="url(#g4)"/>
<circle cx="389.3" cy="260.4" r="6.0" fill="url(#g4)"/>
<circle cx="391.5" cy="498.4" r="7.2" fill="url(#g4)"/>
<circle cx="393.8" cy="709.2" r="9.6" fill="url(#g4)"/>
<circle cx="407.6" cy="218.1" r="7.2" fill="url(#g4)"/>
<circle cx="409.9" cy="535.0" r="8.4" fill="url(#g4)"/>
<circle cx="423.6" cy="335.9" r="9.6" fill="url(#g4)"/>
<circle cx="428.2" cy="261.5" r="7.2" fill="url(#g4)"/>
<circle cx="435.0" cy="326.8" r="12.0" fill="url(#g4)"/>
<circle cx="446.5" cy="684.0" r="7.2" fill="url(#g4)"/>
<circle cx="462.5" cy="530.5" r="8.4" fill="url(#g4)"/>
<circle cx="473.9" cy="541.9" r="7.2" fill="url(#g4)"/>
<circle cx="476.2" cy="338.2" r="9.6" fill="url(#g4)"/>
<circle cx="480.8" cy="562.7" r="8.4" fill="url(#g4)"/>
<circle cx="485.4" cy="649.7" r="7.2" fill="url(#g4)"/>
<circle cx="501.4" cy="587.9" r="8.4" fill="url(#g4)"/>
<circle cx="508.3" cy="200.9" r="7.2" fill="url(#g4)"/>
<circle cx="522.0" cy="690.9" r="7.2" fill="url(#g4)"/>
<circle cx="535.7" cy="555.9" r="7.2" fill="url(#g4)"/>
<circle cx="540.3" cy="222.6" r="9.6" fill="url(#g4)"/>
<circle cx="549.5" cy="349.7" r="10.8" fill="url(#g4)"/>
<circle cx="554.0" cy="400.0" r="10.8" fill="url(#g4)"/>
<circle cx="558.6" cy="553.6" r="7.2" fill="url(#g4)"/>
<circle cx="575.8" cy="324.2" r="7.0" fill="url(#g4)"/>
<circle cx="590.1" cy="681.9" r="9.3" fill="url(#g4)"/>
<circle cx="603.4" cy="359.6" r="8.1" fill="url(#g4)"/>
<circle cx="605.6" cy="339.7" r="8.1" fill="url(#g4)"/>
<circle cx="623.4" cy="562.3" r="9.3" fill="url(#g4)"/>
<circle cx="632.2" cy="708.5" r="5.8" fill="url(#g4)"/>
<circle cx="641.1" cy="724.0" r="8.1" fill="url(#g4)"/>
<circle cx="643.3" cy="184.6" r="10.5" fill="url(#g4)"/>
<circle cx="645.5" cy="474.8" r="8.1" fill="url(#g4)"/>
<circle cx="654.4" cy="611.0" r="8.1" fill="url(#g4)"/>
<circle cx="656.6" cy="536.8" r="7.0" fill="url(#g4)"/>
<circle cx="665.4" cy="721.7" r="5.8" fill="url(#g4)"/>
<circle cx="669.9" cy="557.9" r="11.6" fill="url(#g4)"/>
<circle cx="692.0" cy="388.4" r="8.1" fill="url(#g4)"/>
<circle cx="712.0" cy="644.2" r="8.1" fill="url(#g4)"/>
<circle cx="723.0" cy="890.1" r="7.0" fill="url(#g4)"/>
<circle cx="727.5" cy="468.1" r="7.0" fill="url(#g4)"/>
<circle cx="745.2" cy="704.0" r="8.1" fill="url(#g4)"/>
<circle cx="762.9" cy="875.7" r="5.8" fill="url(#g4)"/>
<circle cx="767.3" cy="803.7" r="9.3" fill="url(#g4)"/>
<circle cx="774.0" cy="664.2" r="8.1" fill="url(#g4)"/>
<circle cx="778.4" cy="637.6" r="8.1" fill="url(#g4)"/>
<circle cx="780.6" cy="555.6" r="8.1" fill="url(#g4)"/>
<circle cx="800.5" cy="465.9" r="5.8" fill="url(#g4)"/>
<circle cx="805.0" cy="772.7" r="10.5" fill="url(#g4)"/>
<circle cx="811.6" cy="591.1" r="8.1" fill="url(#g4)"/>
<circle cx="816.0" cy="850.2" r="8.1" fill="url(#g4)"/>
<circle cx="822.7" cy="446.0" r="9.3" fill="url(#g4)"/>
<circle cx="824.9" cy="664.2" r="8.1" fill="url(#g4)"/>
<circle cx="827.1" cy="726.2" r="9.3" fill="url(#g4)"/>
<circle cx="829.3" cy="401.7" r="7.0" fill="url(#g4)"/>
<circle cx="840.4" cy="763.8" r="5.8" fill="url(#g4)"/>
<circle cx="882.5" cy="523.5" r="7.0" fill="url(#g4)"/>
<circle cx="884.7" cy="750.5" r="5.8" fill="url(#g4)"/>
<circle cx="889.1" cy="717.3" r="7.0" fill="url(#g4)"/>
<circle cx="898.0" cy="421.6" r="4.7" fill="url(#g4)"/>
<circle cx="898.0" cy="655.3" r="9.3" fill="url(#g4)"/>
<circle cx="906.8" cy="604.4" r="5.8" fill="url(#g4)"/>
<circle cx="911.3" cy="761.6" r="10.5" fill="url(#g4)"/>
<circle cx="915.7" cy="724.0" r="5.8" fill="url(#g4)"/>
<circle cx="920.1" cy="370.7" r="5.8" fill="url(#g4)"/>
<circle cx="920.1" cy="790.4" r="5.8" fill="url(#g4)"/>
<circle cx="226.8" cy="742.4" r="6.0" fill="url(#g6)"/>
<circle cx="229.0" cy="763.0" r="13.2" fill="url(#g6)"/>
<circle cx="238.2" cy="614.2" r="6.0" fill="url(#g6)"/>
<circle cx="242.8" cy="184.9" r="12.0" fill="url(#g6)"/>
<circle cx="247.4" cy="748.1" r="7.2" fill="url(#g6)"/>
<circle cx="247.4" cy="771.0" r="6.0" fill="url(#g6)"/>
<circle cx="261.1" cy="631.4" r="9.6" fill="url(#g6)"/>
<circle cx="270.2" cy="609.7" r="10.8" fill="url(#g6)"/>
<circle cx="277.1" cy="539.6" r="7.2" fill="url(#g6)"/>
<circle cx="284.0" cy="665.7" r="6.0" fill="url(#g6)"/>
<circle cx="290.8" cy="769.2" r="14.4" fill="url(#g6)"/>
<circle cx="292.0" cy="462.9" r="9.6" fill="url(#g6)"/>
<circle cx="295.4" cy="789.3" r="8.4" fill="url(#g6)"/>
<circle cx="302.3" cy="441.2" r="9.6" fill="url(#g6)"/>
<circle cx="304.6" cy="668.0" r="6.0" fill="url(#g6)"/>
<circle cx="316.0" cy="521.3" r="9.6" fill="url(#g6)"/>
<circle cx="326.3" cy="885.4" r="6.0" fill="url(#g6)"/>
<circle cx="329.7" cy="544.2" r="6.0" fill="url(#g6)"/>
<circle cx="338.9" cy="666.9" r="6.0" fill="url(#g6)"/>
<circle cx="338.9" cy="757.3" r="9.6" fill="url(#g6)"/>
<circle cx="354.9" cy="766.4" r="9.6" fill="url(#g6)"/>
<circle cx="357.2" cy="243.2" r="10.8" fill="url(#g6)"/>
<circle cx="359.5" cy="589.1" r="7.2" fill="url(#g6)"/>
<circle cx="366.4" cy="218.1" r="10.8" fill="url(#g6)"/>
<circle cx="370.9" cy="697.8" r="9.6" fill="url(#g6)"/>
<circle cx="377.8" cy="743.5" r="9.6" fill="url(#g6)"/>
<circle cx="379.0" cy="598.2" r="9.6" fill="url(#g6)"/>
<circle cx="421.3" cy="686.3" r="8.4" fill="url(#g6)"/>
<circle cx="423.6" cy="389.7" r="7.2" fill="url(#g6)"/>
<circle cx="430.4" cy="616.5" r="7.2" fill="url(#g6)"/>
<circle cx="430.4" cy="633.7" r="7.2" fill="url(#g6)"/>
<circle cx="439.6" cy="302.7" r="8.4" fill="url(#g6)"/>
<circle cx="462.5" cy="628.0" r="7.2" fill="url(#g6)"/>
<circle cx="469.4" cy="797.3" r="13.2" fill="url(#g6)"/>
<circle cx="471.6" cy="661.1" r="12.0" fill="url(#g6)"/>
<circle cx="476.2" cy="222.6" r="8.4" fill="url(#g6)"/>
<circle cx="492.2" cy="214.6" r="8.4" fill="url(#g6)"/>
<circle cx="501.4" cy="712.6" r="9.6" fill="url(#g6)"/>
<circle cx="508.3" cy="243.2" r="9.6" fill="url(#g6)"/>
<circle cx="516.3" cy="351.9" r="10.8" fill="url(#g6)"/>
<circle cx="526.6" cy="661.1" r="6.0" fill="url(#g6)"/>
<circle cx="556.3" cy="541.9" r="9.6" fill="url(#g6)"/>
<circle cx="563.2" cy="679.5" r="10.8" fill="url(#g6)"/>
<circle cx="571.3" cy="681.9" r="14.0" fill="url(#g6)"/>
<circle cx="585.7" cy="481.4" r="7.0" fill="url(#g6)"/>
<circle cx="596.8" cy="588.9" r="7.0" fill="url(#g6)"/>
<circle cx="599.0" cy="532.3" r="9.3" fill="url(#g6)"/>
<circle cx="617.8" cy="667.5" r="9.3" fill="url(#g6)"/>
<circle cx="623.4" cy="388.4" r="7.0" fill="url(#g6)"/>
<circle cx="636.7" cy="364.0" r="7.0" fill="url(#g6)"/>
<circle cx="638.9" cy="448.2" r="5.8" fill="url(#g6)"/>
<circle cx="638.9" cy="666.4" r="9.3" fill="url(#g6)"/>
<circle cx="641.1" cy="354.1" r="12.8" fill="url(#g6)"/>
<circle cx="661.0" cy="642.0" r="10.5" fill="url(#g6)"/>
<circle cx="663.2" cy="333.0" r="7.0" fill="url(#g6)"/>
<circle cx="683.2" cy="215.6" r="7.0" fill="url(#g6)"/>
<circle cx="683.2" cy="336.3" r="5.8" fill="url(#g6)"/>
<circle cx="683.2" cy="855.7" r="7.0" fill="url(#g6)"/>
<circle cx="689.8" cy="490.3" r="7.0" fill="url(#g6)"/>
<circle cx="696.5" cy="772.7" r="8.1" fill="url(#g6)"/>
<circle cx="718.6" cy="336.3" r="7.0" fill="url(#g6)"/>
<circle cx="730.8" cy="325.3" r="5.8" fill="url(#g6)"/>
<circle cx="747.4" cy="781.5" r="5.8" fill="url(#g6)"/>
<circle cx="751.8" cy="457.0" r="9.3" fill="url(#g6)"/>
<circle cx="756.2" cy="328.6" r="8.1" fill="url(#g6)"/>
<circle cx="756.2" cy="426.0" r="9.3" fill="url(#g6)"/>
<circle cx="820.5" cy="391.7" r="9.3" fill="url(#g6)"/>
<circle cx="838.2" cy="483.6" r="7.0" fill="url(#g6)"/>
<circle cx="838.2" cy="529.0" r="11.6" fill="url(#g6)"/>
<circle cx="884.7" cy="420.5" r="9.3" fill="url(#g6)"/>
<circle cx="898.0" cy="863.5" r="7.0" fill="url(#g6)"/>
<circle cx="922.3" cy="671.9" r="7.0" fill="url(#g6)"/>
<circle cx="208.4" cy="842.0" r="8.4" fill="url(#g8)"/>
<circle cx="229.0" cy="880.9" r="10.8" fill="url(#g8)"/>
<circle cx="322.9" cy="729.8" r="9.6" fill="url(#g8)"/>
<circle cx="345.8" cy="713.8" r="8.4" fill="url(#g8)"/>
<circle cx="353.8" cy="892.3" r="6.0" fill="url(#g8)"/>
<circle cx="354.9" cy="820.2" r="8.4" fill="url(#g8)"/>
<circle cx="368.7" cy="649.7" r="7.2" fill="url(#g8)"/>
<circle cx="368.7" cy="861.4" r="7.2" fill="url(#g8)"/>
<circle cx="380.1" cy="729.8" r="10.8" fill="url(#g8)"/>
<circle cx="414.4" cy="825.9" r="8.4" fill="url(#g8)"/>
<circle cx="420.1" cy="321.0" r="10.8" fill="url(#g8)"/>
<circle cx="430.4" cy="716.1" r="7.2" fill="url(#g8)"/>
<circle cx="437.3" cy="819.1" r="7.2" fill="url(#g8)"/>
<circle cx="473.9" cy="555.9" r="9.6" fill="url(#g8)"/>
<circle cx="478.5" cy="638.3" r="7.2" fill="url(#g8)"/>
<circle cx="531.2" cy="686.3" r="8.4" fill="url(#g8)"/>
<circle cx="550.6" cy="688.6" r="9.6" fill="url(#g8)"/>
<circle cx="574.6" cy="543.4" r="8.1" fill="url(#g8)"/>
<circle cx="574.6" cy="552.3" r="7.0" fill="url(#g8)"/>
<circle cx="581.3" cy="637.6" r="7.0" fill="url(#g8)"/>
<circle cx="583.5" cy="719.5" r="8.1" fill="url(#g8)"/>
<circle cx="603.4" cy="622.1" r="11.6" fill="url(#g8)"/>
<circle cx="630.0" cy="432.7" r="9.3" fill="url(#g8)"/>
<circle cx="652.2" cy="664.2" r="8.1" fill="url(#g8)"/>
<circle cx="654.4" cy="750.5" r="9.3" fill="url(#g8)"/>
<circle cx="685.4" cy="374.0" r="8.1" fill="url(#g8)"/>
<circle cx="685.4" cy="514.6" r="8.1" fill="url(#g8)"/>
<circle cx="692.0" cy="712.9" r="10.5" fill="url(#g8)"/>
<circle cx="705.3" cy="728.4" r="11.6" fill="url(#g8)"/>
<circle cx="720.8" cy="252.2" r="8.1" fill="url(#g8)"/>
<circle cx="729.7" cy="637.6" r="9.3" fill="url(#g8)"/>
<circle cx="731.9" cy="719.5" r="11.6" fill="url(#g8)"/>
<circle cx="749.6" cy="823.6" r="9.3" fill="url(#g8)"/>
<circle cx="771.8" cy="564.5" r="9.3" fill="url(#g8)"/>
<circle cx="800.5" cy="694.1" r="10.5" fill="url(#g8)"/>
<circle cx="802.8" cy="669.7" r="10.5" fill="url(#g8)"/>
<circle cx="824.9" cy="706.2" r="10.5" fill="url(#g8)"/>
<circle cx="838.2" cy="563.4" r="7.0" fill="url(#g8)"/>
<circle cx="838.2" cy="779.3" r="11.6" fill="url(#g8)"/>
<circle cx="844.8" cy="676.3" r="11.6" fill="url(#g8)"/>
<circle cx="855.9" cy="461.5" r="8.1" fill="url(#g8)"/>
<circle cx="860.3" cy="499.1" r="7.0" fill="url(#g8)"/>
<circle cx="867.0" cy="730.6" r="11.6" fill="url(#g8)"/>
<circle cx="884.7" cy="402.8" r="5.8" fill="url(#g8)"/>
<circle cx="884.7" cy="781.5" r="9.3" fill="url(#g8)"/>
<circle cx="898.0" cy="534.6" r="9.3" fill="url(#g8)"/>
<circle cx="898.0" cy="699.6" r="9.3" fill="url(#g8)"/>
<circle cx="909.1" cy="378.4" r="8.1" fill="url(#g8)"/>
<circle cx="917.9" cy="832.5" r="9.3" fill="url(#g8)"/>
<circle cx="270.2" cy="609.7" r="6.0" fill="url(#g10)"/>
<circle cx="366.4" cy="218.1" r="6.0" fill="url(#g10)"/>
<circle cx="379.0" cy="598.2" r="6.0" fill="url(#g10)"/>
<circle cx="439.6" cy="302.7" r="4.8" fill="url(#g10)"/>
<circle cx="641.1" cy="354.1" r="7.0" fill="url(#g10)"/>
<circle cx="224.5" cy="796.2" r="11.1" fill="url(#g13)"/>
<circle cx="229.0" cy="763.0" r="11.1" fill="url(#g13)"/>
<circle cx="261.1" cy="631.4" r="4.9" fill="url(#g13)"/>
<circle cx="292.0" cy="462.9" r="6.2" fill="url(#g13)"/>
<circle cx="295.4" cy="789.3" r="4.9" fill="url(#g13)"/>
<circle cx="316.0" cy="521.3" r="6.2" fill="url(#g13)"/>
<circle cx="321.7" cy="781.3" r="11.1" fill="url(#g13)"/>
<circle cx="370.9" cy="697.8" r="6.2" fill="url(#g13)"/>
<circle cx="469.4" cy="797.3" r="11.1" fill="url(#g13)"/>
<circle cx="471.6" cy="661.1" r="7.4" fill="url(#g13)"/>
<circle cx="501.4" cy="712.6" r="6.2" fill="url(#g13)"/>
<circle cx="550.6" cy="688.6" r="5.4" fill="url(#g13)"/>
<circle cx="563.2" cy="679.5" r="7.4" fill="url(#g13)"/>
<circle cx="638.9" cy="426.0" r="4.8" fill="url(#g13)"/>
<circle cx="658.8" cy="653.1" r="6.0" fill="url(#g13)"/>
<circle cx="661.0" cy="637.6" r="6.0" fill="url(#g13)"/>
<circle cx="664.3" cy="424.9" r="14.4" fill="url(#g13)"/>
<circle cx="696.5" cy="772.7" r="5.3" fill="url(#g13)"/>
<circle cx="705.3" cy="728.4" r="8.4" fill="url(#g13)"/>
<circle cx="800.5" cy="694.1" r="6.7" fill="url(#g13)"/>
<circle cx="838.2" cy="529.0" r="7.2" fill="url(#g13)"/>
<circle cx="838.2" cy="779.3" r="6.0" fill="url(#g13)"/>
<circle cx="867.0" cy="730.6" r="7.2" fill="url(#g13)"/>
<circle cx="261.1" cy="180.7" r="5.0" fill="url(#g15)"/>
<circle cx="516.3" cy="351.9" r="6.3" fill="url(#g15)"/>
<circle cx="571.3" cy="681.9" r="8.5" fill="url(#g15)"/>
<circle cx="617.8" cy="667.5" r="6.1" fill="url(#g15)"/>
<circle cx="638.9" cy="666.4" r="6.1" fill="url(#g15)"/>
<circle cx="884.7" cy="420.5" r="5.4" fill="url(#g15)"/>
<circle cx="224.5" cy="796.2" r="7.7" fill="url(#g17)"/>
<circle cx="229.0" cy="880.9" r="7.7" fill="url(#g17)"/>
<circle cx="286.3" cy="769.9" r="7.7" fill="url(#g17)"/>
<circle cx="296.6" cy="768.3" r="7.7" fill="url(#g17)"/>
<circle cx="321.7" cy="781.3" r="7.7" fill="url(#g17)"/>
<circle cx="469.4" cy="797.3" r="7.7" fill="url(#g20)"/>
<circle cx="229.0" cy="763.0" r="8.2" fill="url(#g22)"/>
<circle cx="662.1" cy="422.7" r="11.2" fill="url(#g22)"/>
<circle cx="668.8" cy="430.5" r="9.9" fill="url(#g22)"/>
</g></g>
<g clip-path="url(#hcb)"><g filter="url(#cmap)">
<rect x="1143.6" y="174.2" width="733.2" height="723.5" fill="#fff"/>
<g mask="url(#dmb)"><rect x="1140.6" y="171.2" width="739.2" height="729.5" fill="#000" filter="url(#nzb)"/></g>
<circle cx="1226.1" cy="788.3" r="9.6" fill="url(#g4)"/>
<circle cx="1237.5" cy="818.1" r="9.6" fill="url(#g4)"/>
<circle cx="1397.8" cy="731.1" r="9.6" fill="url(#g4)"/>
<circle cx="1539.1" cy="874.9" r="9.3" fill="url(#g4)"/>
<circle cx="1251.3" cy="179.4" r="7.2" fill="url(#g6)"/>
<circle cx="1155.2" cy="225.2" r="8.4" fill="url(#g8)"/>
<circle cx="1159.7" cy="290.4" r="7.2" fill="url(#g8)"/>
<circle cx="1159.7" cy="877.6" r="7.2" fill="url(#g8)"/>
<circle cx="1175.8" cy="491.8" r="8.4" fill="url(#g8)"/>
<circle cx="1175.8" cy="776.9" r="7.2" fill="url(#g8)"/>
<circle cx="1191.8" cy="345.4" r="9.6" fill="url(#g8)"/>
<circle cx="1198.6" cy="450.6" r="9.6" fill="url(#g8)"/>
<circle cx="1203.2" cy="263.0" r="12.0" fill="url(#g8)"/>
<circle cx="1203.2" cy="671.6" r="10.8" fill="url(#g8)"/>
<circle cx="1214.7" cy="377.4" r="10.8" fill="url(#g8)"/>
<circle cx="1228.4" cy="473.5" r="8.4" fill="url(#g8)"/>
<circle cx="1237.5" cy="580.0" r="9.6" fill="url(#g8)"/>
<circle cx="1239.8" cy="533.0" r="9.6" fill="url(#g8)"/>
<circle cx="1253.6" cy="731.1" r="12.0" fill="url(#g8)"/>
<circle cx="1262.7" cy="311.0" r="7.2" fill="url(#g8)"/>
<circle cx="1265.0" cy="253.8" r="10.8" fill="url(#g8)"/>
<circle cx="1269.6" cy="473.5" r="8.4" fill="url(#g8)"/>
<circle cx="1274.2" cy="685.3" r="8.4" fill="url(#g8)"/>
<circle cx="1274.2" cy="749.4" r="9.6" fill="url(#g8)"/>
<circle cx="1274.2" cy="790.6" r="9.6" fill="url(#g8)"/>
<circle cx="1278.7" cy="457.5" r="7.2" fill="url(#g8)"/>
<circle cx="1283.3" cy="841.0" r="7.2" fill="url(#g8)"/>
<circle cx="1287.9" cy="632.7" r="9.6" fill="url(#g8)"/>
<circle cx="1294.8" cy="304.2" r="7.2" fill="url(#g8)"/>
<circle cx="1297.1" cy="263.0" r="8.4" fill="url(#g8)"/>
<circle cx="1303.9" cy="742.5" r="9.6" fill="url(#g8)"/>
<circle cx="1306.2" cy="582.3" r="12.0" fill="url(#g8)"/>
<circle cx="1306.2" cy="639.5" r="8.4" fill="url(#g8)"/>
<circle cx="1310.8" cy="781.4" r="9.6" fill="url(#g8)"/>
<circle cx="1324.5" cy="393.4" r="10.8" fill="url(#g8)"/>
<circle cx="1333.7" cy="409.4" r="9.6" fill="url(#g8)"/>
<circle cx="1333.7" cy="566.3" r="9.6" fill="url(#g8)"/>
<circle cx="1345.1" cy="857.0" r="10.8" fill="url(#g8)"/>
<circle cx="1352.0" cy="733.4" r="9.6" fill="url(#g8)"/>
<circle cx="1361.1" cy="754.0" r="8.4" fill="url(#g8)"/>
<circle cx="1370.3" cy="434.6" r="8.4" fill="url(#g8)"/>
<circle cx="1370.3" cy="795.2" r="8.4" fill="url(#g8)"/>
<circle cx="1372.6" cy="210.3" r="7.2" fill="url(#g8)"/>
<circle cx="1386.3" cy="676.2" r="12.0" fill="url(#g8)"/>
<circle cx="1404.6" cy="758.6" r="12.0" fill="url(#g8)"/>
<circle cx="1409.2" cy="533.0" r="9.6" fill="url(#g8)"/>
<circle cx="1427.5" cy="194.3" r="8.4" fill="url(#g8)"/>
<circle cx="1429.8" cy="457.5" r="8.4" fill="url(#g8)"/>
<circle cx="1432.1" cy="776.9" r="12.0" fill="url(#g8)"/>
<circle cx="1441.2" cy="325.9" r="8.4" fill="url(#g8)"/>
<circle cx="1441.2" cy="799.8" r="9.6" fill="url(#g8)"/>
<circle cx="1443.5" cy="510.2" r="7.2" fill="url(#g8)"/>
<circle cx="1448.1" cy="537.6" r="7.2" fill="url(#g8)"/>
<circle cx="1450.4" cy="712.8" r="9.6" fill="url(#g8)"/>
<circle cx="1455.0" cy="281.3" r="12.0" fill="url(#g8)"/>
<circle cx="1455.0" cy="582.3" r="14.4" fill="url(#g8)"/>
<circle cx="1455.0" cy="765.4" r="9.6" fill="url(#g8)"/>
<circle cx="1464.1" cy="418.6" r="9.6" fill="url(#g8)"/>
<circle cx="1477.9" cy="605.2" r="9.6" fill="url(#g8)"/>
<circle cx="1480.2" cy="765.4" r="9.6" fill="url(#g8)"/>
<circle cx="1489.3" cy="715.1" r="10.8" fill="url(#g8)"/>
<circle cx="1493.9" cy="340.8" r="8.4" fill="url(#g8)"/>
<circle cx="1500.8" cy="423.2" r="8.4" fill="url(#g8)"/>
<circle cx="1503.0" cy="575.5" r="9.6" fill="url(#g8)"/>
<circle cx="1507.6" cy="760.9" r="12.0" fill="url(#g8)"/>
<circle cx="1523.6" cy="339.4" r="10.4" fill="url(#g8)"/>
<circle cx="1523.6" cy="598.8" r="8.1" fill="url(#g8)"/>
<circle cx="1523.6" cy="797.6" r="9.3" fill="url(#g8)"/>
<circle cx="1525.8" cy="184.8" r="8.1" fill="url(#g8)"/>
<circle cx="1536.9" cy="288.6" r="9.3" fill="url(#g8)"/>
<circle cx="1539.1" cy="458.7" r="9.3" fill="url(#g8)"/>
<circle cx="1565.6" cy="561.3" r="13.9" fill="url(#g8)"/>
<circle cx="1567.8" cy="235.6" r="9.3" fill="url(#g8)"/>
<circle cx="1567.8" cy="724.7" r="8.1" fill="url(#g8)"/>
<circle cx="1587.7" cy="343.8" r="9.3" fill="url(#g8)"/>
<circle cx="1589.9" cy="471.9" r="8.1" fill="url(#g8)"/>
<circle cx="1589.9" cy="578.9" r="8.1" fill="url(#g8)"/>
<circle cx="1600.9" cy="737.9" r="9.3" fill="url(#g8)"/>
<circle cx="1607.5" cy="215.8" r="9.3" fill="url(#g8)"/>
<circle cx="1609.8" cy="850.6" r="9.3" fill="url(#g8)"/>
<circle cx="1620.8" cy="587.8" r="7.0" fill="url(#g8)"/>
<circle cx="1625.2" cy="804.2" r="9.3" fill="url(#g8)"/>
<circle cx="1631.8" cy="212.4" r="8.1" fill="url(#g8)"/>
<circle cx="1645.1" cy="645.2" r="9.3" fill="url(#g8)"/>
<circle cx="1656.1" cy="354.9" r="8.1" fill="url(#g8)"/>
<circle cx="1669.4" cy="874.9" r="9.3" fill="url(#g8)"/>
<circle cx="1678.2" cy="565.7" r="10.4" fill="url(#g8)"/>
<circle cx="1693.7" cy="746.8" r="9.3" fill="url(#g8)"/>
<circle cx="1698.1" cy="700.4" r="9.3" fill="url(#g8)"/>
<circle cx="1700.3" cy="288.6" r="9.3" fill="url(#g8)"/>
<circle cx="1700.3" cy="335.0" r="8.1" fill="url(#g8)"/>
<circle cx="1706.9" cy="817.4" r="10.4" fill="url(#g8)"/>
<circle cx="1711.3" cy="583.3" r="9.3" fill="url(#g8)"/>
<circle cx="1711.3" cy="872.7" r="5.8" fill="url(#g8)"/>
<circle cx="1715.8" cy="427.8" r="9.3" fill="url(#g8)"/>
<circle cx="1715.8" cy="665.1" r="9.3" fill="url(#g8)"/>
<circle cx="1720.2" cy="634.1" r="8.1" fill="url(#g8)"/>
<circle cx="1726.8" cy="892.5" r="5.8" fill="url(#g8)"/>
<circle cx="1729.0" cy="740.1" r="9.3" fill="url(#g8)"/>
<circle cx="1737.9" cy="520.5" r="8.1" fill="url(#g8)"/>
<circle cx="1737.9" cy="779.9" r="9.3" fill="url(#g8)"/>
<circle cx="1746.7" cy="295.3" r="7.0" fill="url(#g8)"/>
<circle cx="1748.9" cy="394.6" r="7.0" fill="url(#g8)"/>
<circle cx="1751.1" cy="700.4" r="10.4" fill="url(#g8)"/>
<circle cx="1757.7" cy="760.0" r="11.6" fill="url(#g8)"/>
<circle cx="1759.9" cy="868.2" r="10.4" fill="url(#g8)"/>
<circle cx="1762.1" cy="412.3" r="9.3" fill="url(#g8)"/>
<circle cx="1766.6" cy="235.6" r="9.3" fill="url(#g8)"/>
<circle cx="1771.0" cy="554.6" r="9.3" fill="url(#g8)"/>
<circle cx="1804.1" cy="592.2" r="9.3" fill="url(#g8)"/>
<circle cx="1806.3" cy="673.9" r="8.1" fill="url(#g8)"/>
<circle cx="1810.7" cy="565.7" r="9.3" fill="url(#g8)"/>
<circle cx="1815.1" cy="643.0" r="8.1" fill="url(#g8)"/>
<circle cx="1819.6" cy="806.4" r="9.3" fill="url(#g8)"/>
<circle cx="1821.8" cy="326.2" r="8.1" fill="url(#g8)"/>
<circle cx="1826.2" cy="401.3" r="9.3" fill="url(#g8)"/>
<circle cx="1832.8" cy="587.8" r="9.3" fill="url(#g8)"/>
<circle cx="1832.8" cy="746.8" r="9.3" fill="url(#g8)"/>
<circle cx="1848.3" cy="489.6" r="7.0" fill="url(#g8)"/>
<circle cx="1857.1" cy="647.4" r="9.3" fill="url(#g8)"/>
<circle cx="1857.1" cy="779.9" r="9.3" fill="url(#g8)"/>
<circle cx="1859.3" cy="242.3" r="8.1" fill="url(#g8)"/>
<circle cx="1859.3" cy="863.8" r="9.3" fill="url(#g8)"/>
<circle cx="1863.7" cy="383.6" r="8.1" fill="url(#g8)"/>
<circle cx="1863.7" cy="724.7" r="8.1" fill="url(#g8)"/>
<circle cx="1159.7" cy="845.5" r="6.0" fill="url(#g10)"/>
<circle cx="1210.1" cy="242.4" r="4.8" fill="url(#g10)"/>
<circle cx="1262.9" cy="209.0" r="10.4" fill="url(#g10)"/>
<circle cx="1267.8" cy="362.0" r="16.1" fill="url(#g10)"/>
<circle cx="1281.0" cy="779.2" r="6.0" fill="url(#g10)"/>
<circle cx="1301.6" cy="712.8" r="6.0" fill="url(#g10)"/>
<circle cx="1310.8" cy="210.3" r="7.2" fill="url(#g10)"/>
<circle cx="1315.4" cy="646.4" r="6.0" fill="url(#g10)"/>
<circle cx="1317.1" cy="692.6" r="10.4" fill="url(#g10)"/>
<circle cx="1324.5" cy="596.1" r="6.0" fill="url(#g10)"/>
<circle cx="1329.1" cy="496.4" r="4.8" fill="url(#g10)"/>
<circle cx="1345.1" cy="280.1" r="6.0" fill="url(#g10)"/>
<circle cx="1346.8" cy="534.7" r="14.0" fill="url(#g10)"/>
<circle cx="1361.1" cy="863.8" r="7.2" fill="url(#g10)"/>
<circle cx="1390.9" cy="242.4" r="6.0" fill="url(#g10)"/>
<circle cx="1402.3" cy="561.7" r="7.2" fill="url(#g10)"/>
<circle cx="1404.6" cy="845.5" r="7.2" fill="url(#g10)"/>
<circle cx="1445.5" cy="616.1" r="11.9" fill="url(#g10)"/>
<circle cx="1457.3" cy="198.9" r="6.0" fill="url(#g10)"/>
<circle cx="1461.8" cy="724.2" r="7.2" fill="url(#g10)"/>
<circle cx="1498.5" cy="395.7" r="6.0" fill="url(#g10)"/>
<circle cx="1525.8" cy="771.1" r="11.6" fill="url(#g10)"/>
<circle cx="1545.7" cy="524.9" r="4.6" fill="url(#g10)"/>
<circle cx="1545.7" cy="570.1" r="9.3" fill="url(#g10)"/>
<circle cx="1561.2" cy="438.8" r="5.8" fill="url(#g10)"/>
<circle cx="1574.4" cy="374.8" r="8.1" fill="url(#g10)"/>
<circle cx="1581.0" cy="724.7" r="5.8" fill="url(#g10)"/>
<circle cx="1600.9" cy="533.8" r="7.0" fill="url(#g10)"/>
<circle cx="1612.0" cy="276.5" r="5.8" fill="url(#g10)"/>
<circle cx="1612.0" cy="645.2" r="5.8" fill="url(#g10)"/>
<circle cx="1613.3" cy="766.6" r="14.0" fill="url(#g10)"/>
<circle cx="1618.6" cy="729.1" r="5.8" fill="url(#g10)"/>
<circle cx="1633.0" cy="292.9" r="10.4" fill="url(#g10)"/>
<circle cx="1649.5" cy="768.9" r="7.0" fill="url(#g10)"/>
<circle cx="1658.3" cy="385.8" r="7.0" fill="url(#g10)"/>
<circle cx="1702.5" cy="271.0" r="5.8" fill="url(#g10)"/>
<circle cx="1715.8" cy="572.3" r="7.0" fill="url(#g10)"/>
<circle cx="1720.2" cy="454.3" r="9.3" fill="url(#g10)"/>
<circle cx="1746.7" cy="841.7" r="5.8" fill="url(#g10)"/>
<circle cx="1748.9" cy="737.9" r="5.8" fill="url(#g10)"/>
<circle cx="1753.3" cy="857.2" r="7.0" fill="url(#g10)"/>
<circle cx="1756.4" cy="667.9" r="11.9" fill="url(#g10)"/>
<circle cx="1759.9" cy="319.6" r="5.1" fill="url(#g10)"/>
<circle cx="1779.8" cy="874.9" r="5.8" fill="url(#g10)"/>
<circle cx="1784.2" cy="370.3" r="5.8" fill="url(#g10)"/>
<circle cx="1786.0" cy="672.9" r="11.9" fill="url(#g10)"/>
<circle cx="1787.5" cy="704.8" r="5.8" fill="url(#g10)"/>
<circle cx="1821.8" cy="485.2" r="5.8" fill="url(#g10)"/>
<circle cx="1826.2" cy="179.3" r="5.1" fill="url(#g10)"/>
<circle cx="1839.4" cy="715.8" r="5.8" fill="url(#g10)"/>
<circle cx="1848.3" cy="693.8" r="5.8" fill="url(#g10)"/>
<circle cx="1857.1" cy="675.0" r="5.8" fill="url(#g10)"/>
<circle cx="1861.5" cy="444.3" r="5.8" fill="url(#g10)"/>
<circle cx="1869.9" cy="445.9" r="11.9" fill="url(#g10)"/>
<circle cx="1164.2" cy="732.1" r="18.7" fill="url(#g13)"/>
<circle cx="1164.3" cy="728.8" r="17.3" fill="url(#g13)"/>
<circle cx="1168.9" cy="716.2" r="8.7" fill="url(#g13)"/>
<circle cx="1169.1" cy="589.0" r="18.7" fill="url(#g13)"/>
<circle cx="1171.2" cy="589.2" r="12.4" fill="url(#g13)"/>
<circle cx="1182.6" cy="187.4" r="6.2" fill="url(#g13)"/>
<circle cx="1187.2" cy="612.1" r="7.4" fill="url(#g13)"/>
<circle cx="1188.8" cy="613.7" r="14.4" fill="url(#g13)"/>
<circle cx="1205.5" cy="780.3" r="6.2" fill="url(#g13)"/>
<circle cx="1214.7" cy="619.0" r="13.6" fill="url(#g13)"/>
<circle cx="1214.7" cy="661.3" r="7.4" fill="url(#g13)"/>
<circle cx="1217.0" cy="852.4" r="8.7" fill="url(#g13)"/>
<circle cx="1218.4" cy="855.5" r="10.7" fill="url(#g13)"/>
<circle cx="1226.1" cy="537.6" r="5.4" fill="url(#g13)"/>
<circle cx="1244.4" cy="187.4" r="7.4" fill="url(#g13)"/>
<circle cx="1246.7" cy="662.4" r="9.9" fill="url(#g13)"/>
<circle cx="1262.7" cy="514.7" r="5.4" fill="url(#g13)"/>
<circle cx="1262.9" cy="352.1" r="14.4" fill="url(#g13)"/>
<circle cx="1263.9" cy="210.3" r="6.2" fill="url(#g13)"/>
<circle cx="1265.0" cy="352.2" r="7.4" fill="url(#g13)"/>
<circle cx="1267.3" cy="604.1" r="8.7" fill="url(#g13)"/>
<circle cx="1269.6" cy="363.7" r="6.2" fill="url(#g13)"/>
<circle cx="1283.3" cy="542.2" r="4.9" fill="url(#g13)"/>
<circle cx="1287.9" cy="514.7" r="6.2" fill="url(#g13)"/>
<circle cx="1324.5" cy="733.4" r="6.2" fill="url(#g13)"/>
<circle cx="1326.8" cy="238.9" r="5.4" fill="url(#g13)"/>
<circle cx="1342.8" cy="505.6" r="7.4" fill="url(#g13)"/>
<circle cx="1351.7" cy="248.4" r="10.7" fill="url(#g13)"/>
<circle cx="1352.0" cy="250.4" r="7.4" fill="url(#g13)"/>
<circle cx="1356.6" cy="544.6" r="16.5" fill="url(#g13)"/>
<circle cx="1361.1" cy="539.9" r="6.2" fill="url(#g13)"/>
<circle cx="1365.7" cy="340.8" r="6.9" fill="url(#g13)"/>
<circle cx="1366.5" cy="677.8" r="16.5" fill="url(#g13)"/>
<circle cx="1376.4" cy="258.3" r="10.7" fill="url(#g13)"/>
<circle cx="1376.4" cy="633.4" r="12.3" fill="url(#g13)"/>
<circle cx="1379.4" cy="258.4" r="7.4" fill="url(#g13)"/>
<circle cx="1410.9" cy="613.7" r="12.3" fill="url(#g13)"/>
<circle cx="1425.2" cy="683.0" r="6.2" fill="url(#g13)"/>
<circle cx="1448.1" cy="489.6" r="7.4" fill="url(#g13)"/>
<circle cx="1448.1" cy="614.4" r="9.9" fill="url(#g13)"/>
<circle cx="1479.0" cy="686.5" r="6.9" fill="url(#g13)"/>
<circle cx="1504.7" cy="539.6" r="14.4" fill="url(#g13)"/>
<circle cx="1509.9" cy="447.2" r="5.4" fill="url(#g13)"/>
<circle cx="1514.5" cy="685.3" r="4.9" fill="url(#g13)"/>
<circle cx="1520.3" cy="686.0" r="7.2" fill="url(#g13)"/>
<circle cx="1521.4" cy="529.4" r="8.3" fill="url(#g13)"/>
<circle cx="1524.4" cy="534.7" r="12.3" fill="url(#g13)"/>
<circle cx="1529.4" cy="687.7" r="12.3" fill="url(#g13)"/>
<circle cx="1534.7" cy="479.7" r="6.0" fill="url(#g13)"/>
<circle cx="1550.1" cy="538.2" r="6.0" fill="url(#g13)"/>
<circle cx="1552.3" cy="623.1" r="10.7" fill="url(#g13)"/>
<circle cx="1556.8" cy="421.1" r="6.0" fill="url(#g13)"/>
<circle cx="1559.0" cy="638.5" r="7.2" fill="url(#g13)"/>
<circle cx="1559.0" cy="559.4" r="16.5" fill="url(#g13)"/>
<circle cx="1559.0" cy="638.3" r="14.4" fill="url(#g13)"/>
<circle cx="1563.4" cy="691.6" r="7.2" fill="url(#g13)"/>
<circle cx="1568.8" cy="697.6" r="12.3" fill="url(#g13)"/>
<circle cx="1570.0" cy="704.8" r="6.0" fill="url(#g13)"/>
<circle cx="1587.7" cy="445.4" r="6.0" fill="url(#g13)"/>
<circle cx="1592.1" cy="515.0" r="6.0" fill="url(#g13)"/>
<circle cx="1598.5" cy="519.9" r="12.3" fill="url(#g13)"/>
<circle cx="1598.7" cy="179.3" r="5.2" fill="url(#g13)"/>
<circle cx="1600.9" cy="605.4" r="6.7" fill="url(#g13)"/>
<circle cx="1603.1" cy="513.9" r="6.0" fill="url(#g13)"/>
<circle cx="1605.3" cy="625.3" r="6.0" fill="url(#g13)"/>
<circle cx="1607.5" cy="771.1" r="7.2" fill="url(#g13)"/>
<circle cx="1631.8" cy="296.4" r="6.7" fill="url(#g13)"/>
<circle cx="1633.0" cy="485.3" r="12.3" fill="url(#g13)"/>
<circle cx="1634.1" cy="441.0" r="6.0" fill="url(#g13)"/>
<circle cx="1653.9" cy="511.7" r="9.5" fill="url(#g13)"/>
<circle cx="1657.7" cy="510.0" r="12.3" fill="url(#g13)"/>
<circle cx="1658.3" cy="485.2" r="5.2" fill="url(#g13)"/>
<circle cx="1669.4" cy="513.9" r="5.2" fill="url(#g13)"/>
<circle cx="1671.6" cy="460.9" r="5.2" fill="url(#g13)"/>
<circle cx="1680.4" cy="631.9" r="11.9" fill="url(#g13)"/>
<circle cx="1680.4" cy="645.2" r="7.2" fill="url(#g13)"/>
<circle cx="1682.4" cy="633.4" r="14.4" fill="url(#g13)"/>
<circle cx="1691.5" cy="799.8" r="10.7" fill="url(#g13)"/>
<circle cx="1715.8" cy="513.9" r="6.7" fill="url(#g13)"/>
<circle cx="1716.9" cy="514.9" r="10.7" fill="url(#g13)"/>
<circle cx="1753.3" cy="666.2" r="7.2" fill="url(#g13)"/>
<circle cx="1768.8" cy="665.1" r="6.0" fill="url(#g13)"/>
<circle cx="1786.4" cy="830.7" r="7.2" fill="url(#g13)"/>
<circle cx="1787.5" cy="675.0" r="6.7" fill="url(#g13)"/>
<circle cx="1868.2" cy="821.9" r="8.3" fill="url(#g13)"/>
<circle cx="1869.9" cy="820.9" r="10.7" fill="url(#g13)"/>
<circle cx="1870.4" cy="244.5" r="6.0" fill="url(#g13)"/>
<circle cx="1152.9" cy="803.2" r="11.3" fill="url(#g15)"/>
<circle cx="1196.4" cy="754.0" r="7.0" fill="url(#g15)"/>
<circle cx="1198.7" cy="751.8" r="8.7" fill="url(#g15)"/>
<circle cx="1246.7" cy="881.0" r="14.6" fill="url(#g15)"/>
<circle cx="1251.3" cy="179.4" r="5.5" fill="url(#g15)"/>
<circle cx="1311.9" cy="845.5" r="12.6" fill="url(#g15)"/>
<circle cx="1317.7" cy="695.6" r="7.6" fill="url(#g15)"/>
<circle cx="1345.1" cy="716.2" r="9.6" fill="url(#g15)"/>
<circle cx="1346.8" cy="717.3" r="12.5" fill="url(#g15)"/>
<circle cx="1347.4" cy="539.9" r="7.6" fill="url(#g15)"/>
<circle cx="1363.4" cy="823.8" r="11.3" fill="url(#g15)"/>
<circle cx="1365.7" cy="681.9" r="11.3" fill="url(#g15)"/>
<circle cx="1377.2" cy="632.7" r="8.8" fill="url(#g15)"/>
<circle cx="1379.4" cy="852.4" r="10.1" fill="url(#g15)"/>
<circle cx="1404.6" cy="657.9" r="7.0" fill="url(#g15)"/>
<circle cx="1475.1" cy="660.5" r="10.9" fill="url(#g15)"/>
<circle cx="1505.3" cy="539.9" r="8.8" fill="url(#g15)"/>
<circle cx="1534.7" cy="686.0" r="7.3" fill="url(#g15)"/>
<circle cx="1638.5" cy="486.3" r="6.8" fill="url(#g15)"/>
<circle cx="1667.2" cy="718.1" r="6.1" fill="url(#g15)"/>
<circle cx="1680.4" cy="631.9" r="8.5" fill="url(#g15)"/>
<circle cx="1691.5" cy="722.5" r="6.8" fill="url(#g15)"/>
<circle cx="1692.2" cy="801.2" r="10.9" fill="url(#g15)"/>
<circle cx="1695.9" cy="468.6" r="6.1" fill="url(#g15)"/>
<circle cx="1786.0" cy="465.6" r="10.9" fill="url(#g15)"/>
<circle cx="1788.6" cy="467.5" r="7.3" fill="url(#g15)"/>
<circle cx="1788.6" cy="509.5" r="6.1" fill="url(#g15)"/>
<circle cx="1789.8" cy="523.8" r="6.8" fill="url(#g15)"/>
<circle cx="1856.0" cy="530.5" r="10.9" fill="url(#g15)"/>
<circle cx="1165.5" cy="736.8" r="14.1" fill="url(#g17)"/>
<circle cx="1169.1" cy="589.0" r="12.7" fill="url(#g17)"/>
<circle cx="1171.2" cy="589.2" r="9.0" fill="url(#g17)"/>
<circle cx="1211.2" cy="628.1" r="7.7" fill="url(#g17)"/>
<circle cx="1411.5" cy="613.2" r="7.7" fill="url(#g17)"/>
<circle cx="1473.3" cy="661.3" r="7.7" fill="url(#g17)"/>
<circle cx="1539.2" cy="672.9" r="12.7" fill="url(#g17)"/>
<circle cx="1544.2" cy="623.5" r="12.7" fill="url(#g17)"/>
<circle cx="1547.9" cy="665.1" r="7.4" fill="url(#g17)"/>
<circle cx="1559.0" cy="669.5" r="13.6" fill="url(#g17)"/>
<circle cx="1565.6" cy="561.3" r="9.9" fill="url(#g17)"/>
<circle cx="1583.7" cy="658.1" r="11.1" fill="url(#g17)"/>
<circle cx="1585.5" cy="656.2" r="7.4" fill="url(#g17)"/>
<circle cx="1636.3" cy="711.4" r="7.4" fill="url(#g17)"/>
<circle cx="1637.9" cy="712.4" r="12.7" fill="url(#g17)"/>
<circle cx="1647.8" cy="490.3" r="12.7" fill="url(#g17)"/>
<circle cx="1650.6" cy="497.3" r="7.4" fill="url(#g17)"/>
<circle cx="1651.7" cy="733.5" r="8.7" fill="url(#g17)"/>
<circle cx="1656.1" cy="722.5" r="13.6" fill="url(#g17)"/>
<circle cx="1662.6" cy="737.0" r="11.1" fill="url(#g17)"/>
<circle cx="1691.5" cy="799.8" r="7.4" fill="url(#g17)"/>
<circle cx="1786.0" cy="519.9" r="12.7" fill="url(#g17)"/>
<circle cx="1787.5" cy="777.7" r="9.9" fill="url(#g17)"/>
<circle cx="1818.5" cy="729.1" r="9.9" fill="url(#g17)"/>
<circle cx="1219.2" cy="608.7" r="7.7" fill="url(#g20)"/>
<circle cx="1152.9" cy="803.2" r="9.0" fill="url(#g22)"/>
<circle cx="1165.5" cy="736.8" r="10.3" fill="url(#g22)"/>
<circle cx="1246.7" cy="881.0" r="12.8" fill="url(#g22)"/>
<circle cx="1311.9" cy="845.5" r="10.8" fill="url(#g22)"/>
<circle cx="1363.4" cy="823.8" r="9.0" fill="url(#g22)"/>
<circle cx="1379.4" cy="852.4" r="7.7" fill="url(#g22)"/>
<circle cx="1559.0" cy="669.5" r="9.4" fill="url(#g22)"/>
<circle cx="1565.6" cy="561.3" r="6.9" fill="url(#g22)"/>
<circle cx="1656.1" cy="722.5" r="8.7" fill="url(#g22)"/>
<circle cx="1787.5" cy="777.7" r="7.4" fill="url(#g22)"/>
<circle cx="1818.5" cy="729.1" r="7.4" fill="url(#g22)"/>
<circle cx="1856.0" cy="530.5" r="7.4" fill="url(#g22)"/>
</g></g>
<g clip-path="url(#hcc)"><g filter="url(#cmap)">
<rect x="196.5" y="1292.4" width="733.1" height="723.0999999999999" fill="#fff"/>
<g mask="url(#dmc)"><rect x="193.5" y="1289.4" width="739.1" height="729.0999999999999" fill="#000" filter="url(#nzc)"/></g>
<circle cx="211.8" cy="1603.8" r="12.0" fill="url(#g4)"/>
<circle cx="230.1" cy="1505.1" r="12.0" fill="url(#g4)"/>
<circle cx="289.8" cy="1489.1" r="12.0" fill="url(#g4)"/>
<circle cx="299.0" cy="1677.5" r="9.6" fill="url(#g4)"/>
<circle cx="804.1" cy="1340.4" r="9.3" fill="url(#g4)"/>
<circle cx="362.1" cy="1361.7" r="13.3" fill="url(#g6)"/>
<circle cx="204.9" cy="1964.3" r="9.6" fill="url(#g8)"/>
<circle cx="207.2" cy="1771.6" r="12.0" fill="url(#g8)"/>
<circle cx="211.8" cy="1434.0" r="9.6" fill="url(#g8)"/>
<circle cx="212.9" cy="1955.2" r="10.8" fill="url(#g8)"/>
<circle cx="214.1" cy="1941.4" r="8.4" fill="url(#g8)"/>
<circle cx="230.1" cy="1997.6" r="9.6" fill="url(#g8)"/>
<circle cx="246.2" cy="1300.9" r="9.6" fill="url(#g8)"/>
<circle cx="250.8" cy="1555.6" r="12.0" fill="url(#g8)"/>
<circle cx="255.4" cy="1679.8" r="9.6" fill="url(#g8)"/>
<circle cx="260.0" cy="1785.3" r="10.8" fill="url(#g8)"/>
<circle cx="266.8" cy="1576.3" r="10.8" fill="url(#g8)"/>
<circle cx="266.8" cy="1728.0" r="9.6" fill="url(#g8)"/>
<circle cx="271.4" cy="1633.6" r="8.4" fill="url(#g8)"/>
<circle cx="273.7" cy="1613.0" r="8.4" fill="url(#g8)"/>
<circle cx="278.3" cy="1535.0" r="8.4" fill="url(#g8)"/>
<circle cx="280.6" cy="1658.9" r="9.6" fill="url(#g8)"/>
<circle cx="282.9" cy="1934.5" r="7.2" fill="url(#g8)"/>
<circle cx="287.5" cy="1753.2" r="10.8" fill="url(#g8)"/>
<circle cx="302.4" cy="1556.8" r="12.0" fill="url(#g8)"/>
<circle cx="303.6" cy="1305.5" r="12.0" fill="url(#g8)"/>
<circle cx="308.2" cy="1858.8" r="9.6" fill="url(#g8)"/>
<circle cx="310.4" cy="1603.8" r="7.2" fill="url(#g8)"/>
<circle cx="315.0" cy="1341.0" r="7.2" fill="url(#g8)"/>
<circle cx="317.3" cy="1639.4" r="10.8" fill="url(#g8)"/>
<circle cx="319.6" cy="1723.4" r="12.0" fill="url(#g8)"/>
<circle cx="326.5" cy="1767.0" r="12.0" fill="url(#g8)"/>
<circle cx="326.5" cy="1998.8" r="7.2" fill="url(#g8)"/>
<circle cx="331.1" cy="1946.0" r="9.6" fill="url(#g8)"/>
<circle cx="335.7" cy="1532.7" r="7.2" fill="url(#g8)"/>
<circle cx="349.5" cy="1424.8" r="7.2" fill="url(#g8)"/>
<circle cx="351.8" cy="1509.7" r="6.0" fill="url(#g8)"/>
<circle cx="351.8" cy="1546.4" r="7.2" fill="url(#g8)"/>
<circle cx="354.1" cy="1695.8" r="9.6" fill="url(#g8)"/>
<circle cx="354.1" cy="1882.9" r="9.6" fill="url(#g8)"/>
<circle cx="358.6" cy="1936.8" r="9.6" fill="url(#g8)"/>
<circle cx="374.7" cy="1454.6" r="8.4" fill="url(#g8)"/>
<circle cx="379.3" cy="1695.8" r="9.6" fill="url(#g8)"/>
<circle cx="381.6" cy="1714.2" r="9.6" fill="url(#g8)"/>
<circle cx="397.7" cy="1789.9" r="12.0" fill="url(#g8)"/>
<circle cx="399.9" cy="1625.6" r="9.6" fill="url(#g8)"/>
<circle cx="404.5" cy="1525.8" r="9.6" fill="url(#g8)"/>
<circle cx="409.1" cy="1385.8" r="8.4" fill="url(#g8)"/>
<circle cx="409.1" cy="1907.0" r="14.5" fill="url(#g8)"/>
<circle cx="411.4" cy="1649.7" r="9.6" fill="url(#g8)"/>
<circle cx="411.4" cy="1808.3" r="9.6" fill="url(#g8)"/>
<circle cx="413.7" cy="2007.9" r="7.2" fill="url(#g8)"/>
<circle cx="418.3" cy="1888.6" r="12.0" fill="url(#g8)"/>
<circle cx="420.6" cy="1603.8" r="7.2" fill="url(#g8)"/>
<circle cx="422.9" cy="1437.4" r="12.0" fill="url(#g8)"/>
<circle cx="425.2" cy="1505.1" r="9.6" fill="url(#g8)"/>
<circle cx="427.5" cy="1748.6" r="9.6" fill="url(#g8)"/>
<circle cx="432.1" cy="1330.7" r="8.4" fill="url(#g8)"/>
<circle cx="441.3" cy="1419.1" r="9.6" fill="url(#g8)"/>
<circle cx="445.8" cy="1803.7" r="12.0" fill="url(#g8)"/>
<circle cx="448.1" cy="1762.4" r="9.6" fill="url(#g8)"/>
<circle cx="450.4" cy="1537.3" r="8.4" fill="url(#g8)"/>
<circle cx="455.0" cy="1444.3" r="8.4" fill="url(#g8)"/>
<circle cx="455.0" cy="1649.7" r="8.4" fill="url(#g8)"/>
<circle cx="457.3" cy="1404.2" r="7.2" fill="url(#g8)"/>
<circle cx="468.8" cy="1512.0" r="7.2" fill="url(#g8)"/>
<circle cx="468.8" cy="1978.1" r="14.5" fill="url(#g8)"/>
<circle cx="473.4" cy="1661.2" r="7.2" fill="url(#g8)"/>
<circle cx="475.7" cy="1693.5" r="12.0" fill="url(#g8)"/>
<circle cx="484.9" cy="1968.9" r="9.6" fill="url(#g8)"/>
<circle cx="487.2" cy="1335.3" r="10.8" fill="url(#g8)"/>
<circle cx="496.3" cy="1684.4" r="9.6" fill="url(#g8)"/>
<circle cx="503.2" cy="1374.3" r="9.6" fill="url(#g8)"/>
<circle cx="505.5" cy="2005.6" r="12.0" fill="url(#g8)"/>
<circle cx="512.4" cy="1316.9" r="8.4" fill="url(#g8)"/>
<circle cx="517.0" cy="1468.4" r="9.6" fill="url(#g8)"/>
<circle cx="519.3" cy="1649.7" r="9.6" fill="url(#g8)"/>
<circle cx="519.3" cy="1952.9" r="9.6" fill="url(#g8)"/>
<circle cx="523.9" cy="1615.3" r="12.0" fill="url(#g8)"/>
<circle cx="523.9" cy="1854.2" r="16.9" fill="url(#g8)"/>
<circle cx="535.3" cy="1672.9" r="9.6" fill="url(#g8)"/>
<circle cx="537.6" cy="1941.4" r="12.0" fill="url(#g8)"/>
<circle cx="542.2" cy="1762.4" r="12.0" fill="url(#g8)"/>
<circle cx="546.8" cy="1918.4" r="19.3" fill="url(#g8)"/>
<circle cx="549.1" cy="1861.1" r="12.0" fill="url(#g8)"/>
<circle cx="554.7" cy="1911.3" r="36.3" fill="url(#g8)"/>
<circle cx="556.0" cy="1456.9" r="12.0" fill="url(#g8)"/>
<circle cx="560.6" cy="1838.1" r="9.6" fill="url(#g8)"/>
<circle cx="560.6" cy="1895.5" r="12.0" fill="url(#g8)"/>
<circle cx="574.4" cy="1481.7" r="7.0" fill="url(#g8)"/>
<circle cx="576.6" cy="1439.8" r="7.0" fill="url(#g8)"/>
<circle cx="576.6" cy="1904.5" r="13.9" fill="url(#g8)"/>
<circle cx="578.8" cy="1670.4" r="9.3" fill="url(#g8)"/>
<circle cx="578.8" cy="1727.8" r="10.4" fill="url(#g8)"/>
<circle cx="578.8" cy="1756.5" r="9.3" fill="url(#g8)"/>
<circle cx="585.5" cy="1596.6" r="8.1" fill="url(#g8)"/>
<circle cx="594.2" cy="1901.4" r="31.1" fill="url(#g8)"/>
<circle cx="603.1" cy="1743.3" r="10.4" fill="url(#g8)"/>
<circle cx="603.1" cy="1908.9" r="11.6" fill="url(#g8)"/>
<circle cx="607.5" cy="1459.6" r="9.3" fill="url(#g8)"/>
<circle cx="614.2" cy="1647.4" r="9.3" fill="url(#g8)"/>
<circle cx="616.4" cy="1342.6" r="7.0" fill="url(#g8)"/>
<circle cx="625.2" cy="1506.0" r="10.4" fill="url(#g8)"/>
<circle cx="631.8" cy="1559.0" r="9.3" fill="url(#g8)"/>
<circle cx="636.3" cy="1873.6" r="12.8" fill="url(#g8)"/>
<circle cx="640.7" cy="1542.5" r="9.3" fill="url(#g8)"/>
<circle cx="642.9" cy="1472.9" r="16.2" fill="url(#g8)"/>
<circle cx="649.5" cy="1858.1" r="11.6" fill="url(#g8)"/>
<circle cx="651.7" cy="1719.0" r="9.3" fill="url(#g8)"/>
<circle cx="665.0" cy="1492.8" r="9.3" fill="url(#g8)"/>
<circle cx="673.8" cy="1926.6" r="11.6" fill="url(#g8)"/>
<circle cx="678.2" cy="1674.8" r="9.3" fill="url(#g8)"/>
<circle cx="684.8" cy="1333.8" r="7.0" fill="url(#g8)"/>
<circle cx="691.5" cy="1754.3" r="9.3" fill="url(#g8)"/>
<circle cx="695.9" cy="1975.2" r="11.6" fill="url(#g8)"/>
<circle cx="698.1" cy="1442.0" r="9.3" fill="url(#g8)"/>
<circle cx="709.1" cy="1616.4" r="9.3" fill="url(#g8)"/>
<circle cx="715.8" cy="1756.5" r="11.6" fill="url(#g8)"/>
<circle cx="720.2" cy="1450.8" r="10.4" fill="url(#g8)"/>
<circle cx="724.6" cy="1370.2" r="10.4" fill="url(#g8)"/>
<circle cx="724.6" cy="1986.2" r="9.3" fill="url(#g8)"/>
<circle cx="733.4" cy="1749.9" r="12.8" fill="url(#g8)"/>
<circle cx="753.3" cy="1920.0" r="9.3" fill="url(#g8)"/>
<circle cx="759.9" cy="1541.4" r="12.8" fill="url(#g8)"/>
<circle cx="762.1" cy="1570.1" r="9.3" fill="url(#g8)"/>
<circle cx="764.3" cy="1625.3" r="9.3" fill="url(#g8)"/>
<circle cx="764.3" cy="1645.2" r="9.3" fill="url(#g8)"/>
<circle cx="764.3" cy="1995.1" r="11.6" fill="url(#g8)"/>
<circle cx="775.4" cy="1858.1" r="9.3" fill="url(#g8)"/>
<circle cx="777.6" cy="1780.8" r="9.3" fill="url(#g8)"/>
<circle cx="782.0" cy="1727.8" r="11.6" fill="url(#g8)"/>
<circle cx="782.0" cy="1754.3" r="9.3" fill="url(#g8)"/>
<circle cx="784.2" cy="1576.7" r="7.0" fill="url(#g8)"/>
<circle cx="790.9" cy="1855.9" r="11.6" fill="url(#g8)"/>
<circle cx="790.9" cy="1957.5" r="9.3" fill="url(#g8)"/>
<circle cx="799.7" cy="1647.4" r="9.3" fill="url(#g8)"/>
<circle cx="804.1" cy="2003.9" r="11.6" fill="url(#g8)"/>
<circle cx="812.9" cy="1798.5" r="11.6" fill="url(#g8)"/>
<circle cx="821.8" cy="1506.0" r="10.4" fill="url(#g8)"/>
<circle cx="824.0" cy="1688.1" r="9.3" fill="url(#g8)"/>
<circle cx="830.6" cy="1607.6" r="9.3" fill="url(#g8)"/>
<circle cx="830.6" cy="1895.7" r="12.8" fill="url(#g8)"/>
<circle cx="835.0" cy="1809.6" r="9.3" fill="url(#g8)"/>
<circle cx="837.2" cy="1719.0" r="9.3" fill="url(#g8)"/>
<circle cx="841.6" cy="1470.7" r="7.0" fill="url(#g8)"/>
<circle cx="857.1" cy="2008.3" r="9.3" fill="url(#g8)"/>
<circle cx="863.7" cy="1448.6" r="7.0" fill="url(#g8)"/>
<circle cx="863.7" cy="1785.3" r="9.3" fill="url(#g8)"/>
<circle cx="883.6" cy="1521.5" r="9.3" fill="url(#g8)"/>
<circle cx="883.6" cy="1897.9" r="10.4" fill="url(#g8)"/>
<circle cx="890.2" cy="1774.2" r="9.3" fill="url(#g8)"/>
<circle cx="890.2" cy="1986.2" r="11.6" fill="url(#g8)"/>
<circle cx="896.9" cy="1679.3" r="9.3" fill="url(#g8)"/>
<circle cx="901.3" cy="1539.1" r="8.1" fill="url(#g8)"/>
<circle cx="901.3" cy="1649.6" r="11.6" fill="url(#g8)"/>
<circle cx="901.3" cy="2006.1" r="9.3" fill="url(#g8)"/>
<circle cx="907.9" cy="1329.3" r="10.4" fill="url(#g8)"/>
<circle cx="907.9" cy="1601.0" r="8.1" fill="url(#g8)"/>
<circle cx="907.9" cy="1908.9" r="9.3" fill="url(#g8)"/>
<circle cx="912.3" cy="1492.8" r="10.4" fill="url(#g8)"/>
<circle cx="914.5" cy="1948.7" r="9.3" fill="url(#g8)"/>
<circle cx="209.2" cy="1723.8" r="15.5" fill="url(#g10)"/>
<circle cx="250.8" cy="1555.6" r="7.2" fill="url(#g10)"/>
<circle cx="302.4" cy="1556.8" r="7.2" fill="url(#g10)"/>
<circle cx="347.2" cy="1831.2" r="7.2" fill="url(#g10)"/>
<circle cx="379.3" cy="1851.9" r="6.0" fill="url(#g10)"/>
<circle cx="386.2" cy="1739.4" r="7.2" fill="url(#g10)"/>
<circle cx="411.4" cy="1649.7" r="7.2" fill="url(#g10)"/>
<circle cx="418.3" cy="1888.6" r="8.4" fill="url(#g10)"/>
<circle cx="425.2" cy="1505.1" r="6.7" fill="url(#g10)"/>
<circle cx="432.1" cy="1730.3" r="6.0" fill="url(#g10)"/>
<circle cx="434.4" cy="1445.5" r="6.0" fill="url(#g10)"/>
<circle cx="466.5" cy="1376.6" r="7.2" fill="url(#g10)"/>
<circle cx="478.0" cy="1452.3" r="6.7" fill="url(#g10)"/>
<circle cx="490.5" cy="1748.5" r="14.5" fill="url(#g10)"/>
<circle cx="510.1" cy="1360.6" r="7.2" fill="url(#g10)"/>
<circle cx="523.9" cy="1615.3" r="8.4" fill="url(#g10)"/>
<circle cx="526.2" cy="1952.9" r="8.4" fill="url(#g10)"/>
<circle cx="558.3" cy="1658.9" r="7.2" fill="url(#g10)"/>
<circle cx="579.4" cy="1926.1" r="20.7" fill="url(#g10)"/>
<circle cx="598.7" cy="1705.8" r="6.5" fill="url(#g10)"/>
<circle cx="640.7" cy="1679.3" r="7.0" fill="url(#g10)"/>
<circle cx="712.6" cy="1921.2" r="14.5" fill="url(#g10)"/>
<circle cx="720.2" cy="1450.8" r="5.8" fill="url(#g10)"/>
<circle cx="724.6" cy="1370.2" r="7.0" fill="url(#g10)"/>
<circle cx="729.0" cy="1583.3" r="7.0" fill="url(#g10)"/>
<circle cx="733.4" cy="1623.1" r="6.5" fill="url(#g10)"/>
<circle cx="753.3" cy="1937.6" r="7.0" fill="url(#g10)"/>
<circle cx="759.9" cy="1541.4" r="7.0" fill="url(#g10)"/>
<circle cx="806.4" cy="1792.9" r="15.5" fill="url(#g10)"/>
<circle cx="821.8" cy="1506.0" r="7.0" fill="url(#g10)"/>
<circle cx="839.4" cy="1794.1" r="7.0" fill="url(#g10)"/>
<circle cx="850.5" cy="2010.5" r="7.0" fill="url(#g10)"/>
<circle cx="850.8" cy="1595.5" r="11.4" fill="url(#g10)"/>
<circle cx="860.7" cy="1842.2" r="15.5" fill="url(#g10)"/>
<circle cx="894.7" cy="1816.2" r="7.0" fill="url(#g10)"/>
<circle cx="899.1" cy="1981.8" r="7.0" fill="url(#g10)"/>
<circle cx="912.3" cy="1492.8" r="7.0" fill="url(#g10)"/>
<circle cx="202.6" cy="1297.4" r="6.2" fill="url(#g13)"/>
<circle cx="202.6" cy="1815.2" r="7.4" fill="url(#g13)"/>
<circle cx="204.9" cy="1728.0" r="9.9" fill="url(#g13)"/>
<circle cx="212.9" cy="1955.2" r="7.4" fill="url(#g13)"/>
<circle cx="214.2" cy="1743.5" r="16.0" fill="url(#g13)"/>
<circle cx="230.1" cy="1997.6" r="7.4" fill="url(#g13)"/>
<circle cx="237.0" cy="1755.5" r="8.7" fill="url(#g13)"/>
<circle cx="260.0" cy="1888.6" r="7.4" fill="url(#g13)"/>
<circle cx="280.6" cy="1658.9" r="7.4" fill="url(#g13)"/>
<circle cx="294.4" cy="1580.9" r="6.2" fill="url(#g13)"/>
<circle cx="298.1" cy="1783.0" r="16.0" fill="url(#g13)"/>
<circle cx="299.0" cy="1783.0" r="8.7" fill="url(#g13)"/>
<circle cx="317.3" cy="1639.4" r="7.4" fill="url(#g13)"/>
<circle cx="335.7" cy="1810.6" r="7.4" fill="url(#g13)"/>
<circle cx="337.5" cy="1743.5" r="13.3" fill="url(#g13)"/>
<circle cx="340.3" cy="1762.4" r="7.4" fill="url(#g13)"/>
<circle cx="342.6" cy="1739.4" r="6.9" fill="url(#g13)"/>
<circle cx="347.2" cy="1950.6" r="6.2" fill="url(#g13)"/>
<circle cx="354.1" cy="1882.9" r="7.4" fill="url(#g13)"/>
<circle cx="355.2" cy="2007.9" r="7.4" fill="url(#g13)"/>
<circle cx="362.1" cy="1361.7" r="9.9" fill="url(#g13)"/>
<circle cx="366.7" cy="1974.7" r="9.9" fill="url(#g13)"/>
<circle cx="372.1" cy="1773.1" r="14.9" fill="url(#g13)"/>
<circle cx="372.4" cy="1771.6" r="8.7" fill="url(#g13)"/>
<circle cx="372.4" cy="1812.9" r="7.4" fill="url(#g13)"/>
<circle cx="377.0" cy="1776.2" r="9.9" fill="url(#g13)"/>
<circle cx="382.0" cy="1802.7" r="16.0" fill="url(#g13)"/>
<circle cx="396.8" cy="1822.5" r="16.0" fill="url(#g13)"/>
<circle cx="397.7" cy="1826.6" r="8.7" fill="url(#g13)"/>
<circle cx="399.9" cy="1625.6" r="6.9" fill="url(#g13)"/>
<circle cx="422.9" cy="1437.4" r="7.4" fill="url(#g13)"/>
<circle cx="441.3" cy="1419.1" r="6.2" fill="url(#g13)"/>
<circle cx="461.9" cy="1725.7" r="6.2" fill="url(#g13)"/>
<circle cx="469.9" cy="1912.7" r="14.9" fill="url(#g13)"/>
<circle cx="470.8" cy="1773.1" r="13.3" fill="url(#g13)"/>
<circle cx="471.1" cy="1776.2" r="8.7" fill="url(#g13)"/>
<circle cx="478.0" cy="1753.2" r="7.4" fill="url(#g13)"/>
<circle cx="480.3" cy="1824.3" r="6.2" fill="url(#g13)"/>
<circle cx="494.0" cy="1746.3" r="7.4" fill="url(#g13)"/>
<circle cx="495.5" cy="1802.7" r="16.0" fill="url(#g13)"/>
<circle cx="503.2" cy="1776.2" r="6.2" fill="url(#g13)"/>
<circle cx="515.2" cy="2010.0" r="16.0" fill="url(#g13)"/>
<circle cx="517.0" cy="1468.4" r="6.9" fill="url(#g13)"/>
<circle cx="517.0" cy="2007.9" r="8.7" fill="url(#g13)"/>
<circle cx="528.5" cy="1801.4" r="9.9" fill="url(#g13)"/>
<circle cx="560.6" cy="1803.7" r="7.4" fill="url(#g13)"/>
<circle cx="578.8" cy="1658.4" r="7.2" fill="url(#g13)"/>
<circle cx="579.4" cy="1807.7" r="18.7" fill="url(#g13)"/>
<circle cx="594.2" cy="1931.1" r="13.3" fill="url(#g13)"/>
<circle cx="625.2" cy="1506.0" r="7.2" fill="url(#g13)"/>
<circle cx="642.9" cy="1472.9" r="13.1" fill="url(#g13)"/>
<circle cx="643.5" cy="1837.3" r="16.0" fill="url(#g13)"/>
<circle cx="647.3" cy="1833.8" r="6.0" fill="url(#g13)"/>
<circle cx="658.3" cy="1878.0" r="8.3" fill="url(#g13)"/>
<circle cx="662.8" cy="1761.0" r="9.5" fill="url(#g13)"/>
<circle cx="663.3" cy="1881.7" r="14.9" fill="url(#g13)"/>
<circle cx="667.2" cy="1886.9" r="9.5" fill="url(#g13)"/>
<circle cx="673.1" cy="1896.5" r="16.0" fill="url(#g13)"/>
<circle cx="687.1" cy="1829.4" r="7.2" fill="url(#g13)"/>
<circle cx="691.5" cy="1858.1" r="7.2" fill="url(#g13)"/>
<circle cx="707.7" cy="1950.8" r="16.0" fill="url(#g13)"/>
<circle cx="711.3" cy="1908.9" r="8.3" fill="url(#g13)"/>
<circle cx="711.3" cy="1931.0" r="8.3" fill="url(#g13)"/>
<circle cx="711.3" cy="1973.0" r="8.3" fill="url(#g13)"/>
<circle cx="713.6" cy="1944.3" r="7.2" fill="url(#g13)"/>
<circle cx="732.4" cy="1748.5" r="16.0" fill="url(#g13)"/>
<circle cx="733.4" cy="1749.9" r="8.3" fill="url(#g13)"/>
<circle cx="773.2" cy="1679.3" r="9.5" fill="url(#g13)"/>
<circle cx="804.1" cy="1809.6" r="7.2" fill="url(#g13)"/>
<circle cx="806.3" cy="1787.5" r="7.2" fill="url(#g13)"/>
<circle cx="839.4" cy="1642.9" r="13.1" fill="url(#g13)"/>
<circle cx="859.3" cy="1864.8" r="7.2" fill="url(#g13)"/>
<circle cx="863.7" cy="1594.4" r="6.7" fill="url(#g13)"/>
<circle cx="863.7" cy="1634.1" r="7.2" fill="url(#g13)"/>
<circle cx="865.9" cy="1847.1" r="8.3" fill="url(#g13)"/>
<circle cx="901.3" cy="1649.6" r="8.3" fill="url(#g13)"/>
<circle cx="199.4" cy="1817.6" r="19.0" fill="url(#g15)"/>
<circle cx="211.8" cy="1904.7" r="10.1" fill="url(#g15)"/>
<circle cx="214.1" cy="1835.8" r="10.1" fill="url(#g15)"/>
<circle cx="225.5" cy="1753.2" r="8.8" fill="url(#g15)"/>
<circle cx="238.8" cy="1753.4" r="16.3" fill="url(#g15)"/>
<circle cx="250.8" cy="1895.5" r="8.8" fill="url(#g15)"/>
<circle cx="503.2" cy="1826.6" r="7.6" fill="url(#g15)"/>
<circle cx="505.3" cy="1827.4" r="13.6" fill="url(#g15)"/>
<circle cx="521.6" cy="1812.9" r="10.1" fill="url(#g15)"/>
<circle cx="530.0" cy="1802.7" r="16.3" fill="url(#g15)"/>
<circle cx="553.7" cy="1792.2" r="10.1" fill="url(#g15)"/>
<circle cx="559.6" cy="1792.9" r="15.2" fill="url(#g15)"/>
<circle cx="576.6" cy="1800.7" r="12.1" fill="url(#g15)"/>
<circle cx="583.3" cy="1933.2" r="9.7" fill="url(#g15)"/>
<circle cx="592.1" cy="1842.7" r="12.1" fill="url(#g15)"/>
<circle cx="592.1" cy="1928.8" r="13.4" fill="url(#g15)"/>
<circle cx="609.8" cy="1836.1" r="10.9" fill="url(#g15)"/>
<circle cx="618.6" cy="1781.9" r="6.8" fill="url(#g15)"/>
<circle cx="618.6" cy="1849.3" r="9.7" fill="url(#g15)"/>
<circle cx="623.8" cy="1783.0" r="13.6" fill="url(#g15)"/>
<circle cx="628.7" cy="1847.2" r="13.6" fill="url(#g15)"/>
<circle cx="638.6" cy="1783.0" r="13.6" fill="url(#g15)"/>
<circle cx="639.6" cy="1781.9" r="6.8" fill="url(#g15)"/>
<circle cx="640.7" cy="1542.5" r="5.3" fill="url(#g15)"/>
<circle cx="641.1" cy="1474.6" r="10.9" fill="url(#g15)"/>
<circle cx="642.9" cy="1472.9" r="9.7" fill="url(#g15)"/>
<circle cx="667.2" cy="1543.6" r="14.1" fill="url(#g15)"/>
<circle cx="702.7" cy="1896.5" r="11.9" fill="url(#g15)"/>
<circle cx="704.7" cy="1897.9" r="8.5" fill="url(#g15)"/>
<circle cx="771.8" cy="1679.4" r="13.6" fill="url(#g15)"/>
<circle cx="773.2" cy="1679.3" r="7.3" fill="url(#g15)"/>
<circle cx="831.1" cy="1644.8" r="11.9" fill="url(#g15)"/>
<circle cx="839.4" cy="1642.9" r="9.7" fill="url(#g15)"/>
<circle cx="860.7" cy="1615.2" r="10.9" fill="url(#g15)"/>
<circle cx="863.7" cy="1616.4" r="8.5" fill="url(#g15)"/>
<circle cx="214.2" cy="1842.2" r="16.6" fill="url(#g17)"/>
<circle cx="224.4" cy="1911.6" r="11.6" fill="url(#g17)"/>
<circle cx="226.7" cy="1879.4" r="14.1" fill="url(#g17)"/>
<circle cx="227.8" cy="1856.5" r="12.9" fill="url(#g17)"/>
<circle cx="239.3" cy="1900.1" r="10.3" fill="url(#g17)"/>
<circle cx="247.3" cy="1865.7" r="9.0" fill="url(#g17)"/>
<circle cx="296.7" cy="1904.7" r="9.0" fill="url(#g17)"/>
<circle cx="303.6" cy="1909.3" r="9.0" fill="url(#g17)"/>
<circle cx="362.1" cy="1361.7" r="7.2" fill="url(#g17)"/>
<circle cx="366.7" cy="1974.7" r="7.7" fill="url(#g17)"/>
<circle cx="414.9" cy="1940.2" r="9.8" fill="url(#g17)"/>
<circle cx="416.5" cy="1940.9" r="13.8" fill="url(#g17)"/>
<circle cx="469.9" cy="1912.7" r="12.9" fill="url(#g17)"/>
<circle cx="539.9" cy="1817.6" r="12.2" fill="url(#g17)"/>
<circle cx="594.2" cy="1847.2" r="15.5" fill="url(#g17)"/>
<circle cx="594.3" cy="1855.9" r="8.7" fill="url(#g17)"/>
<circle cx="613.9" cy="1837.3" r="13.8" fill="url(#g17)"/>
<circle cx="627.4" cy="1840.5" r="9.9" fill="url(#g17)"/>
<circle cx="224.4" cy="1911.6" r="9.0" fill="url(#g22)"/>
<circle cx="226.7" cy="1879.4" r="11.6" fill="url(#g22)"/>
<circle cx="227.8" cy="1856.5" r="10.3" fill="url(#g22)"/>
<circle cx="247.3" cy="1865.7" r="6.4" fill="url(#g22)"/>
<circle cx="278.3" cy="1900.1" r="9.0" fill="url(#g22)"/>
<circle cx="289.8" cy="1902.4" r="7.7" fill="url(#g22)"/>
<circle cx="315.0" cy="1900.1" r="9.8" fill="url(#g22)"/>
<circle cx="414.9" cy="1940.2" r="7.2" fill="url(#g22)"/>
<circle cx="469.9" cy="1912.7" r="10.3" fill="url(#g22)"/>
<circle cx="667.2" cy="1543.6" r="12.4" fill="url(#g22)"/>
</g></g>
<g clip-path="url(#hcd)"><g filter="url(#cmap)">
<rect x="1144.2" y="1292.4" width="732.7" height="723.0999999999999" fill="#fff"/>
<g mask="url(#dmd)"><rect x="1141.2" y="1289.4" width="738.7" height="729.0999999999999" fill="#000" filter="url(#nzd)"/></g>
<circle cx="1283.3" cy="1963.5" r="14.4" fill="url(#g4)"/>
<circle cx="1374.9" cy="1997.9" r="9.6" fill="url(#g4)"/>
<circle cx="1432.1" cy="1872.0" r="12.0" fill="url(#g4)"/>
<circle cx="1748.9" cy="1838.3" r="9.3" fill="url(#g4)"/>
<circle cx="1168.9" cy="1675.2" r="9.6" fill="url(#g8)"/>
<circle cx="1168.9" cy="2004.7" r="12.0" fill="url(#g8)"/>
<circle cx="1173.5" cy="1986.4" r="14.4" fill="url(#g8)"/>
<circle cx="1198.6" cy="1906.3" r="14.4" fill="url(#g8)"/>
<circle cx="1203.2" cy="1997.9" r="12.0" fill="url(#g8)"/>
<circle cx="1214.7" cy="1688.9" r="9.6" fill="url(#g8)"/>
<circle cx="1249.0" cy="1775.9" r="9.6" fill="url(#g8)"/>
<circle cx="1260.4" cy="1679.7" r="9.6" fill="url(#g8)"/>
<circle cx="1260.4" cy="1817.1" r="9.6" fill="url(#g8)"/>
<circle cx="1271.9" cy="1769.0" r="9.6" fill="url(#g8)"/>
<circle cx="1283.3" cy="1917.8" r="14.4" fill="url(#g8)"/>
<circle cx="1287.9" cy="1748.4" r="9.6" fill="url(#g8)"/>
<circle cx="1306.2" cy="1679.7" r="12.0" fill="url(#g8)"/>
<circle cx="1306.2" cy="1981.8" r="9.6" fill="url(#g8)"/>
<circle cx="1317.7" cy="1702.6" r="12.0" fill="url(#g8)"/>
<circle cx="1317.7" cy="1899.4" r="12.0" fill="url(#g8)"/>
<circle cx="1340.5" cy="1913.2" r="12.0" fill="url(#g8)"/>
<circle cx="1345.1" cy="1867.4" r="12.0" fill="url(#g8)"/>
<circle cx="1352.0" cy="1675.2" r="9.6" fill="url(#g8)"/>
<circle cx="1363.4" cy="1704.9" r="12.0" fill="url(#g8)"/>
<circle cx="1374.9" cy="1753.0" r="12.0" fill="url(#g8)"/>
<circle cx="1374.9" cy="1803.3" r="9.6" fill="url(#g8)"/>
<circle cx="1386.3" cy="1679.7" r="12.0" fill="url(#g8)"/>
<circle cx="1397.8" cy="1769.0" r="9.6" fill="url(#g8)"/>
<circle cx="1397.8" cy="1929.2" r="12.0" fill="url(#g8)"/>
<circle cx="1402.3" cy="1711.8" r="12.0" fill="url(#g8)"/>
<circle cx="1404.6" cy="1959.0" r="12.0" fill="url(#g8)"/>
<circle cx="1409.2" cy="1812.5" r="9.6" fill="url(#g8)"/>
<circle cx="1420.6" cy="1688.9" r="14.4" fill="url(#g8)"/>
<circle cx="1420.6" cy="1952.1" r="14.4" fill="url(#g8)"/>
<circle cx="1432.1" cy="1814.8" r="9.6" fill="url(#g8)"/>
<circle cx="1439.0" cy="1769.0" r="9.6" fill="url(#g8)"/>
<circle cx="1443.5" cy="1746.1" r="9.6" fill="url(#g8)"/>
<circle cx="1443.5" cy="1959.0" r="14.4" fill="url(#g8)"/>
<circle cx="1455.0" cy="1684.3" r="9.6" fill="url(#g8)"/>
<circle cx="1477.9" cy="1707.2" r="12.0" fill="url(#g8)"/>
<circle cx="1477.9" cy="1959.0" r="14.4" fill="url(#g8)"/>
<circle cx="1500.8" cy="1963.5" r="12.0" fill="url(#g8)"/>
<circle cx="1525.8" cy="1732.3" r="9.3" fill="url(#g8)"/>
<circle cx="1539.1" cy="1692.5" r="9.3" fill="url(#g8)"/>
<circle cx="1559.0" cy="1761.0" r="9.3" fill="url(#g8)"/>
<circle cx="1567.8" cy="1953.1" r="13.9" fill="url(#g8)"/>
<circle cx="1583.3" cy="1942.1" r="16.2" fill="url(#g8)"/>
<circle cx="1594.3" cy="1964.1" r="13.9" fill="url(#g8)"/>
<circle cx="1605.3" cy="1931.0" r="13.9" fill="url(#g8)"/>
<circle cx="1612.0" cy="1772.0" r="9.3" fill="url(#g8)"/>
<circle cx="1616.4" cy="1964.1" r="11.6" fill="url(#g8)"/>
<circle cx="1627.4" cy="1842.7" r="11.6" fill="url(#g8)"/>
<circle cx="1634.1" cy="1685.9" r="11.6" fill="url(#g8)"/>
<circle cx="1638.5" cy="1761.0" r="9.3" fill="url(#g8)"/>
<circle cx="1649.5" cy="1842.7" r="9.3" fill="url(#g8)"/>
<circle cx="1671.6" cy="1681.5" r="9.3" fill="url(#g8)"/>
<circle cx="1680.4" cy="1800.7" r="7.0" fill="url(#g8)"/>
<circle cx="1693.7" cy="1727.8" r="11.6" fill="url(#g8)"/>
<circle cx="1693.7" cy="1970.8" r="9.3" fill="url(#g8)"/>
<circle cx="1709.1" cy="1780.8" r="9.3" fill="url(#g8)"/>
<circle cx="1724.6" cy="1811.8" r="7.0" fill="url(#g8)"/>
<circle cx="1737.9" cy="1721.2" r="13.9" fill="url(#g8)"/>
<circle cx="1748.9" cy="1964.1" r="13.9" fill="url(#g8)"/>
<circle cx="1748.9" cy="1986.2" r="13.9" fill="url(#g8)"/>
<circle cx="1759.9" cy="1688.1" r="11.6" fill="url(#g8)"/>
<circle cx="1759.9" cy="1772.0" r="13.9" fill="url(#g8)"/>
<circle cx="1766.6" cy="1886.9" r="9.3" fill="url(#g8)"/>
<circle cx="1771.0" cy="1732.3" r="11.6" fill="url(#g8)"/>
<circle cx="1782.0" cy="1765.4" r="9.3" fill="url(#g8)"/>
<circle cx="1782.0" cy="1860.3" r="13.9" fill="url(#g8)"/>
<circle cx="1782.0" cy="1964.1" r="9.3" fill="url(#g8)"/>
<circle cx="1793.1" cy="1882.4" r="11.6" fill="url(#g8)"/>
<circle cx="1804.1" cy="1679.3" r="9.3" fill="url(#g8)"/>
<circle cx="1804.1" cy="1904.5" r="9.3" fill="url(#g8)"/>
<circle cx="1815.1" cy="1732.3" r="16.2" fill="url(#g8)"/>
<circle cx="1826.2" cy="1758.8" r="11.6" fill="url(#g8)"/>
<circle cx="1837.2" cy="1897.9" r="11.6" fill="url(#g8)"/>
<circle cx="1848.3" cy="1802.9" r="9.3" fill="url(#g8)"/>
<circle cx="1848.3" cy="1986.2" r="9.3" fill="url(#g8)"/>
<circle cx="1857.1" cy="1780.8" r="9.3" fill="url(#g8)"/>
<circle cx="1859.3" cy="1924.4" r="7.0" fill="url(#g8)"/>
<circle cx="1859.3" cy="1948.7" r="9.3" fill="url(#g8)"/>
<circle cx="1861.5" cy="1683.7" r="9.3" fill="url(#g8)"/>
<circle cx="1861.5" cy="1840.5" r="7.0" fill="url(#g8)"/>
<circle cx="1198.6" cy="1543.5" r="7.2" fill="url(#g10)"/>
<circle cx="1198.6" cy="1580.1" r="7.2" fill="url(#g10)"/>
<circle cx="1207.8" cy="1672.9" r="7.2" fill="url(#g10)"/>
<circle cx="1214.7" cy="1328.3" r="6.0" fill="url(#g10)"/>
<circle cx="1237.5" cy="1490.8" r="7.2" fill="url(#g10)"/>
<circle cx="1265.0" cy="1566.4" r="7.2" fill="url(#g10)"/>
<circle cx="1283.3" cy="1529.7" r="8.4" fill="url(#g10)"/>
<circle cx="1297.1" cy="1433.6" r="7.2" fill="url(#g10)"/>
<circle cx="1310.8" cy="1609.8" r="6.0" fill="url(#g10)"/>
<circle cx="1340.5" cy="1493.1" r="9.6" fill="url(#g10)"/>
<circle cx="1340.5" cy="1684.3" r="7.2" fill="url(#g10)"/>
<circle cx="1363.4" cy="1435.9" r="7.2" fill="url(#g10)"/>
<circle cx="1377.2" cy="1775.9" r="6.0" fill="url(#g10)"/>
<circle cx="1386.3" cy="1358.1" r="6.0" fill="url(#g10)"/>
<circle cx="1404.6" cy="1534.3" r="8.4" fill="url(#g10)"/>
<circle cx="1420.6" cy="1415.3" r="7.2" fill="url(#g10)"/>
<circle cx="1425.2" cy="1670.6" r="7.2" fill="url(#g10)"/>
<circle cx="1427.5" cy="1314.6" r="7.2" fill="url(#g10)"/>
<circle cx="1443.5" cy="1920.0" r="12.0" fill="url(#g10)"/>
<circle cx="1489.3" cy="1947.5" r="12.0" fill="url(#g10)"/>
<circle cx="1509.9" cy="1632.7" r="6.0" fill="url(#g10)"/>
<circle cx="1519.5" cy="1950.8" r="20.7" fill="url(#g10)"/>
<circle cx="1561.2" cy="1559.0" r="5.8" fill="url(#g10)"/>
<circle cx="1581.0" cy="1464.1" r="5.8" fill="url(#g10)"/>
<circle cx="1605.3" cy="1333.8" r="7.0" fill="url(#g10)"/>
<circle cx="1667.2" cy="1353.6" r="7.0" fill="url(#g10)"/>
<circle cx="1682.6" cy="1563.4" r="7.0" fill="url(#g10)"/>
<circle cx="1698.1" cy="1411.1" r="7.0" fill="url(#g10)"/>
<circle cx="1715.8" cy="1541.4" r="7.0" fill="url(#g10)"/>
<circle cx="1748.9" cy="1670.4" r="7.0" fill="url(#g10)"/>
<circle cx="1759.9" cy="1435.3" r="5.8" fill="url(#g10)"/>
<circle cx="1759.9" cy="1873.6" r="9.3" fill="url(#g10)"/>
<circle cx="1764.4" cy="1353.6" r="7.0" fill="url(#g10)"/>
<circle cx="1768.8" cy="1459.6" r="7.0" fill="url(#g10)"/>
<circle cx="1788.6" cy="1521.5" r="7.0" fill="url(#g10)"/>
<circle cx="1150.6" cy="1403.9" r="7.4" fill="url(#g13)"/>
<circle cx="1150.6" cy="1454.2" r="6.2" fill="url(#g13)"/>
<circle cx="1152.9" cy="1353.5" r="12.4" fill="url(#g13)"/>
<circle cx="1157.4" cy="1961.2" r="9.9" fill="url(#g13)"/>
<circle cx="1162.0" cy="1609.8" r="7.4" fill="url(#g13)"/>
<circle cx="1168.9" cy="1711.8" r="9.9" fill="url(#g13)"/>
<circle cx="1180.3" cy="1490.8" r="11.1" fill="url(#g13)"/>
<circle cx="1182.6" cy="1307.7" r="7.4" fill="url(#g13)"/>
<circle cx="1184.9" cy="1773.6" r="9.9" fill="url(#g13)"/>
<circle cx="1198.6" cy="1785.0" r="7.4" fill="url(#g13)"/>
<circle cx="1198.7" cy="1743.5" r="16.0" fill="url(#g13)"/>
<circle cx="1200.9" cy="1383.3" r="8.7" fill="url(#g13)"/>
<circle cx="1214.7" cy="1495.4" r="9.9" fill="url(#g13)"/>
<circle cx="1221.5" cy="1929.2" r="11.1" fill="url(#g13)"/>
<circle cx="1223.4" cy="1931.1" r="16.0" fill="url(#g13)"/>
<circle cx="1230.7" cy="1637.3" r="8.7" fill="url(#g13)"/>
<circle cx="1230.7" cy="1929.2" r="11.1" fill="url(#g13)"/>
<circle cx="1233.0" cy="1670.6" r="7.4" fill="url(#g13)"/>
<circle cx="1244.4" cy="1780.4" r="8.7" fill="url(#g13)"/>
<circle cx="1262.7" cy="1614.4" r="6.2" fill="url(#g13)"/>
<circle cx="1274.2" cy="1315.7" r="7.4" fill="url(#g13)"/>
<circle cx="1274.2" cy="1805.6" r="7.4" fill="url(#g13)"/>
<circle cx="1274.2" cy="1894.9" r="9.9" fill="url(#g13)"/>
<circle cx="1281.0" cy="1670.6" r="7.4" fill="url(#g13)"/>
<circle cx="1283.3" cy="1839.9" r="9.9" fill="url(#g13)"/>
<circle cx="1283.3" cy="1897.2" r="12.4" fill="url(#g13)"/>
<circle cx="1287.5" cy="1630.0" r="16.0" fill="url(#g13)"/>
<circle cx="1287.9" cy="1957.8" r="7.4" fill="url(#g13)"/>
<circle cx="1303.9" cy="1632.7" r="8.7" fill="url(#g13)"/>
<circle cx="1306.2" cy="1885.7" r="9.9" fill="url(#g13)"/>
<circle cx="1306.2" cy="1890.3" r="11.1" fill="url(#g13)"/>
<circle cx="1322.2" cy="1511.4" r="8.7" fill="url(#g13)"/>
<circle cx="1326.8" cy="1641.9" r="7.4" fill="url(#g13)"/>
<circle cx="1329.1" cy="1353.5" r="8.7" fill="url(#g13)"/>
<circle cx="1333.7" cy="1603.0" r="6.2" fill="url(#g13)"/>
<circle cx="1333.7" cy="1976.1" r="7.4" fill="url(#g13)"/>
<circle cx="1340.5" cy="1525.2" r="9.9" fill="url(#g13)"/>
<circle cx="1347.4" cy="1399.3" r="7.4" fill="url(#g13)"/>
<circle cx="1354.3" cy="1367.2" r="7.4" fill="url(#g13)"/>
<circle cx="1358.9" cy="1980.7" r="7.4" fill="url(#g13)"/>
<circle cx="1361.1" cy="1941.8" r="7.4" fill="url(#g13)"/>
<circle cx="1368.0" cy="1456.5" r="6.9" fill="url(#g13)"/>
<circle cx="1374.9" cy="1528.6" r="6.2" fill="url(#g13)"/>
<circle cx="1374.9" cy="1904.0" r="12.4" fill="url(#g13)"/>
<circle cx="1374.9" cy="1904.0" r="13.6" fill="url(#g13)"/>
<circle cx="1388.6" cy="1913.2" r="9.9" fill="url(#g13)"/>
<circle cx="1390.9" cy="1623.6" r="8.7" fill="url(#g13)"/>
<circle cx="1397.8" cy="1913.2" r="11.1" fill="url(#g13)"/>
<circle cx="1406.0" cy="1921.2" r="18.7" fill="url(#g13)"/>
<circle cx="1409.2" cy="1894.9" r="13.6" fill="url(#g13)"/>
<circle cx="1416.1" cy="1894.9" r="12.4" fill="url(#g13)"/>
<circle cx="1425.7" cy="1906.4" r="21.3" fill="url(#g13)"/>
<circle cx="1432.1" cy="1577.8" r="8.7" fill="url(#g13)"/>
<circle cx="1432.1" cy="1906.3" r="13.6" fill="url(#g13)"/>
<circle cx="1436.7" cy="1908.6" r="12.4" fill="url(#g13)"/>
<circle cx="1441.2" cy="1611.0" r="8.7" fill="url(#g13)"/>
<circle cx="1441.2" cy="1791.9" r="6.2" fill="url(#g13)"/>
<circle cx="1443.5" cy="1920.0" r="12.4" fill="url(#g13)"/>
<circle cx="1450.4" cy="1637.3" r="8.7" fill="url(#g13)"/>
<circle cx="1455.3" cy="1639.9" r="16.0" fill="url(#g13)"/>
<circle cx="1455.3" cy="1916.3" r="21.3" fill="url(#g13)"/>
<circle cx="1459.6" cy="1757.5" r="7.4" fill="url(#g13)"/>
<circle cx="1461.8" cy="1945.2" r="12.4" fill="url(#g13)"/>
<circle cx="1466.4" cy="2009.3" r="7.4" fill="url(#g13)"/>
<circle cx="1496.2" cy="1605.3" r="6.2" fill="url(#g13)"/>
<circle cx="1496.2" cy="1670.6" r="8.7" fill="url(#g13)"/>
<circle cx="1500.8" cy="1434.8" r="7.4" fill="url(#g13)"/>
<circle cx="1507.6" cy="1940.6" r="9.9" fill="url(#g13)"/>
<circle cx="1519.5" cy="1659.6" r="21.3" fill="url(#g13)"/>
<circle cx="1523.6" cy="1670.4" r="9.5" fill="url(#g13)"/>
<circle cx="1525.8" cy="1931.0" r="11.9" fill="url(#g13)"/>
<circle cx="1534.3" cy="1931.1" r="21.3" fill="url(#g13)"/>
<circle cx="1534.7" cy="1411.1" r="7.2" fill="url(#g13)"/>
<circle cx="1536.9" cy="1598.8" r="7.2" fill="url(#g13)"/>
<circle cx="1545.7" cy="1640.7" r="8.3" fill="url(#g13)"/>
<circle cx="1545.7" cy="1741.1" r="8.3" fill="url(#g13)"/>
<circle cx="1567.8" cy="1672.6" r="8.3" fill="url(#g13)"/>
<circle cx="1572.2" cy="1920.0" r="9.5" fill="url(#g13)"/>
<circle cx="1574.4" cy="1508.2" r="8.3" fill="url(#g13)"/>
<circle cx="1576.6" cy="1710.2" r="9.5" fill="url(#g13)"/>
<circle cx="1583.3" cy="1481.7" r="7.2" fill="url(#g13)"/>
<circle cx="1583.3" cy="1563.4" r="7.2" fill="url(#g13)"/>
<circle cx="1587.7" cy="1779.7" r="6.0" fill="url(#g13)"/>
<circle cx="1589.9" cy="1723.4" r="9.5" fill="url(#g13)"/>
<circle cx="1593.5" cy="1644.8" r="21.3" fill="url(#g13)"/>
<circle cx="1593.5" cy="1931.1" r="26.7" fill="url(#g13)"/>
<circle cx="1596.5" cy="1297.3" r="6.0" fill="url(#g13)"/>
<circle cx="1600.9" cy="1651.8" r="13.1" fill="url(#g13)"/>
<circle cx="1605.3" cy="1670.4" r="7.2" fill="url(#g13)"/>
<circle cx="1605.3" cy="1732.3" r="8.3" fill="url(#g13)"/>
<circle cx="1612.0" cy="1395.6" r="7.2" fill="url(#g13)"/>
<circle cx="1612.0" cy="1578.9" r="7.2" fill="url(#g13)"/>
<circle cx="1618.2" cy="1659.6" r="18.7" fill="url(#g13)"/>
<circle cx="1623.0" cy="1601.0" r="9.5" fill="url(#g13)"/>
<circle cx="1623.0" cy="1829.4" r="7.2" fill="url(#g13)"/>
<circle cx="1623.0" cy="1942.1" r="11.9" fill="url(#g13)"/>
<circle cx="1631.8" cy="1336.0" r="8.3" fill="url(#g13)"/>
<circle cx="1631.8" cy="1416.6" r="7.2" fill="url(#g13)"/>
<circle cx="1634.1" cy="1565.6" r="8.3" fill="url(#g13)"/>
<circle cx="1638.5" cy="1833.8" r="7.2" fill="url(#g13)"/>
<circle cx="1640.7" cy="1594.4" r="8.3" fill="url(#g13)"/>
<circle cx="1640.7" cy="1942.1" r="11.9" fill="url(#g13)"/>
<circle cx="1647.3" cy="1769.8" r="8.3" fill="url(#g13)"/>
<circle cx="1658.3" cy="1670.4" r="7.2" fill="url(#g13)"/>
<circle cx="1660.6" cy="1513.7" r="7.2" fill="url(#g13)"/>
<circle cx="1667.2" cy="1838.3" r="7.2" fill="url(#g13)"/>
<circle cx="1667.2" cy="1913.4" r="9.5" fill="url(#g13)"/>
<circle cx="1680.4" cy="1701.3" r="7.2" fill="url(#g13)"/>
<circle cx="1680.4" cy="1748.8" r="14.3" fill="url(#g13)"/>
<circle cx="1684.8" cy="1470.7" r="7.2" fill="url(#g13)"/>
<circle cx="1713.6" cy="1710.2" r="8.3" fill="url(#g13)"/>
<circle cx="1722.4" cy="1567.9" r="8.3" fill="url(#g13)"/>
<circle cx="1737.9" cy="1581.1" r="8.3" fill="url(#g13)"/>
<circle cx="1737.9" cy="1997.3" r="9.5" fill="url(#g13)"/>
<circle cx="1748.9" cy="1587.7" r="7.2" fill="url(#g13)"/>
<circle cx="1751.1" cy="1860.3" r="7.2" fill="url(#g13)"/>
<circle cx="1753.3" cy="1783.1" r="8.3" fill="url(#g13)"/>
<circle cx="1756.4" cy="1634.9" r="16.0" fill="url(#g13)"/>
<circle cx="1759.9" cy="1809.6" r="6.0" fill="url(#g13)"/>
<circle cx="1771.0" cy="1997.3" r="9.5" fill="url(#g13)"/>
<circle cx="1786.4" cy="1486.1" r="7.2" fill="url(#g13)"/>
<circle cx="1788.6" cy="1791.9" r="7.2" fill="url(#g13)"/>
<circle cx="1795.3" cy="1833.8" r="7.2" fill="url(#g13)"/>
<circle cx="1808.5" cy="1539.1" r="7.2" fill="url(#g13)"/>
<circle cx="1832.8" cy="1625.3" r="11.9" fill="url(#g13)"/>
<circle cx="1835.0" cy="1674.8" r="8.3" fill="url(#g13)"/>
<circle cx="1843.9" cy="1809.6" r="7.2" fill="url(#g13)"/>
<circle cx="1854.9" cy="1794.1" r="7.2" fill="url(#g13)"/>
<circle cx="1868.2" cy="1362.5" r="8.3" fill="url(#g13)"/>
<circle cx="1870.4" cy="1426.5" r="7.2" fill="url(#g13)"/>
<circle cx="1150.6" cy="1369.5" r="8.8" fill="url(#g15)"/>
<circle cx="1150.6" cy="1709.5" r="12.6" fill="url(#g15)"/>
<circle cx="1152.9" cy="1940.6" r="11.3" fill="url(#g15)"/>
<circle cx="1155.2" cy="1923.5" r="13.8" fill="url(#g15)"/>
<circle cx="1155.2" cy="1940.6" r="10.1" fill="url(#g15)"/>
<circle cx="1168.9" cy="1936.1" r="13.8" fill="url(#g15)"/>
<circle cx="1173.5" cy="1931.5" r="12.6" fill="url(#g15)"/>
<circle cx="1184.9" cy="1757.5" r="12.6" fill="url(#g15)"/>
<circle cx="1191.8" cy="1938.4" r="12.6" fill="url(#g15)"/>
<circle cx="1196.4" cy="1936.1" r="12.6" fill="url(#g15)"/>
<circle cx="1214.7" cy="1750.7" r="13.8" fill="url(#g15)"/>
<circle cx="1219.2" cy="1970.4" r="12.6" fill="url(#g15)"/>
<circle cx="1230.7" cy="1655.6" r="12.6" fill="url(#g15)"/>
<circle cx="1251.3" cy="1997.9" r="17.6" fill="url(#g15)"/>
<circle cx="1253.6" cy="1311.2" r="7.6" fill="url(#g15)"/>
<circle cx="1255.9" cy="1844.5" r="12.6" fill="url(#g15)"/>
<circle cx="1263.9" cy="1331.8" r="7.6" fill="url(#g15)"/>
<circle cx="1267.8" cy="1886.6" r="21.7" fill="url(#g15)"/>
<circle cx="1274.2" cy="1849.1" r="12.6" fill="url(#g15)"/>
<circle cx="1285.6" cy="1810.2" r="11.3" fill="url(#g15)"/>
<circle cx="1287.9" cy="1890.3" r="11.3" fill="url(#g15)"/>
<circle cx="1290.2" cy="1628.2" r="9.6" fill="url(#g15)"/>
<circle cx="1290.2" cy="2009.3" r="7.6" fill="url(#g15)"/>
<circle cx="1311.9" cy="1961.2" r="11.3" fill="url(#g15)"/>
<circle cx="1315.4" cy="1856.0" r="11.3" fill="url(#g15)"/>
<circle cx="1319.9" cy="1813.6" r="11.3" fill="url(#g15)"/>
<circle cx="1322.2" cy="1771.3" r="12.6" fill="url(#g15)"/>
<circle cx="1336.0" cy="2009.3" r="7.6" fill="url(#g15)"/>
<circle cx="1347.4" cy="1627.0" r="10.6" fill="url(#g15)"/>
<circle cx="1347.4" cy="1657.9" r="7.6" fill="url(#g15)"/>
<circle cx="1347.4" cy="1834.2" r="13.8" fill="url(#g15)"/>
<circle cx="1354.3" cy="1772.4" r="11.3" fill="url(#g15)"/>
<circle cx="1365.7" cy="1656.8" r="10.1" fill="url(#g15)"/>
<circle cx="1370.3" cy="1830.8" r="6.3" fill="url(#g15)"/>
<circle cx="1388.6" cy="1890.3" r="12.6" fill="url(#g15)"/>
<circle cx="1393.2" cy="1890.3" r="11.3" fill="url(#g15)"/>
<circle cx="1396.1" cy="1891.6" r="21.7" fill="url(#g15)"/>
<circle cx="1402.3" cy="1821.6" r="7.6" fill="url(#g15)"/>
<circle cx="1411.5" cy="1730.1" r="10.1" fill="url(#g15)"/>
<circle cx="1443.5" cy="1826.2" r="10.1" fill="url(#g15)"/>
<circle cx="1455.0" cy="1826.2" r="10.1" fill="url(#g15)"/>
<circle cx="1463.0" cy="1535.5" r="7.6" fill="url(#g15)"/>
<circle cx="1473.3" cy="1609.8" r="8.8" fill="url(#g15)"/>
<circle cx="1505.3" cy="1655.6" r="11.3" fill="url(#g15)"/>
<circle cx="1521.4" cy="1654.0" r="10.9" fill="url(#g15)"/>
<circle cx="1534.7" cy="1811.8" r="10.9" fill="url(#g15)"/>
<circle cx="1543.5" cy="1935.4" r="12.1" fill="url(#g15)"/>
<circle cx="1544.2" cy="1906.4" r="21.7" fill="url(#g15)"/>
<circle cx="1550.1" cy="1920.0" r="12.1" fill="url(#g15)"/>
<circle cx="1605.3" cy="1855.9" r="8.5" fill="url(#g15)"/>
<circle cx="1631.8" cy="1913.4" r="12.1" fill="url(#g15)"/>
<circle cx="1631.8" cy="1959.7" r="10.9" fill="url(#g15)"/>
<circle cx="1633.0" cy="1916.3" r="21.7" fill="url(#g15)"/>
<circle cx="1649.5" cy="1616.4" r="10.9" fill="url(#g15)"/>
<circle cx="1658.3" cy="1948.7" r="10.9" fill="url(#g15)"/>
<circle cx="1671.6" cy="1625.3" r="8.5" fill="url(#g15)"/>
<circle cx="1689.3" cy="1924.4" r="8.5" fill="url(#g15)"/>
<circle cx="1693.7" cy="2003.9" r="7.3" fill="url(#g15)"/>
<circle cx="1695.9" cy="1836.1" r="8.5" fill="url(#g15)"/>
<circle cx="1702.5" cy="1386.8" r="8.5" fill="url(#g15)"/>
<circle cx="1715.8" cy="1694.7" r="8.5" fill="url(#g15)"/>
<circle cx="1720.2" cy="1631.9" r="13.4" fill="url(#g15)"/>
<circle cx="1724.6" cy="1754.3" r="10.9" fill="url(#g15)"/>
<circle cx="1740.1" cy="1649.6" r="7.3" fill="url(#g15)"/>
<circle cx="1762.1" cy="1636.3" r="10.9" fill="url(#g15)"/>
<circle cx="1782.0" cy="1585.5" r="8.5" fill="url(#g15)"/>
<circle cx="1782.0" cy="2001.7" r="9.7" fill="url(#g15)"/>
<circle cx="1786.4" cy="1893.5" r="9.7" fill="url(#g15)"/>
<circle cx="1788.6" cy="1696.9" r="8.5" fill="url(#g15)"/>
<circle cx="1808.5" cy="1867.0" r="9.7" fill="url(#g15)"/>
<circle cx="1812.9" cy="1623.1" r="9.7" fill="url(#g15)"/>
<circle cx="1832.8" cy="1953.1" r="9.7" fill="url(#g15)"/>
<circle cx="1846.1" cy="1605.4" r="14.6" fill="url(#g15)"/>
<circle cx="1852.7" cy="1548.0" r="8.5" fill="url(#g15)"/>
<circle cx="1854.9" cy="1649.6" r="10.9" fill="url(#g15)"/>
<circle cx="1150.6" cy="1794.2" r="10.3" fill="url(#g17)"/>
<circle cx="1157.4" cy="1961.2" r="7.7" fill="url(#g17)"/>
<circle cx="1168.9" cy="1780.4" r="10.3" fill="url(#g17)"/>
<circle cx="1175.8" cy="1723.2" r="12.8" fill="url(#g17)"/>
<circle cx="1179.0" cy="1743.5" r="19.3" fill="url(#g17)"/>
<circle cx="1180.3" cy="1734.7" r="12.8" fill="url(#g17)"/>
<circle cx="1180.3" cy="1741.5" r="12.8" fill="url(#g17)"/>
<circle cx="1180.3" cy="1856.0" r="12.8" fill="url(#g17)"/>
<circle cx="1180.3" cy="1922.3" r="14.1" fill="url(#g17)"/>
<circle cx="1183.9" cy="1862.0" r="16.6" fill="url(#g17)"/>
<circle cx="1183.9" cy="1921.2" r="19.3" fill="url(#g17)"/>
<circle cx="1184.9" cy="1762.1" r="11.5" fill="url(#g17)"/>
<circle cx="1187.2" cy="1920.0" r="11.5" fill="url(#g17)"/>
<circle cx="1203.2" cy="1924.6" r="12.8" fill="url(#g17)"/>
<circle cx="1207.8" cy="1924.6" r="10.3" fill="url(#g17)"/>
<circle cx="1208.6" cy="1921.2" r="16.6" fill="url(#g17)"/>
<circle cx="1214.7" cy="1732.4" r="7.7" fill="url(#g17)"/>
<circle cx="1242.1" cy="1867.4" r="10.3" fill="url(#g17)"/>
<circle cx="1248.1" cy="1857.0" r="24.9" fill="url(#g17)"/>
<circle cx="1253.6" cy="1846.8" r="14.1" fill="url(#g17)"/>
<circle cx="1265.0" cy="1878.9" r="11.5" fill="url(#g17)"/>
<circle cx="1274.2" cy="1849.1" r="14.1" fill="url(#g17)"/>
<circle cx="1274.2" cy="1885.7" r="12.8" fill="url(#g17)"/>
<circle cx="1287.5" cy="1866.9" r="24.9" fill="url(#g17)"/>
<circle cx="1292.5" cy="1890.3" r="11.5" fill="url(#g17)"/>
<circle cx="1294.8" cy="1853.7" r="12.8" fill="url(#g17)"/>
<circle cx="1307.3" cy="1857.0" r="19.3" fill="url(#g17)"/>
<circle cx="1315.4" cy="1853.7" r="12.8" fill="url(#g17)"/>
<circle cx="1347.4" cy="1846.8" r="9.0" fill="url(#g17)"/>
<circle cx="1366.5" cy="1657.2" r="13.8" fill="url(#g17)"/>
<circle cx="1366.5" cy="1886.6" r="19.3" fill="url(#g17)"/>
<circle cx="1372.6" cy="1885.7" r="11.5" fill="url(#g17)"/>
<circle cx="1374.9" cy="1885.7" r="10.3" fill="url(#g17)"/>
<circle cx="1415.9" cy="1728.7" r="11.1" fill="url(#g17)"/>
<circle cx="1507.6" cy="1785.0" r="7.7" fill="url(#g17)"/>
<circle cx="1512.2" cy="1878.9" r="10.3" fill="url(#g17)"/>
<circle cx="1534.3" cy="1876.8" r="19.3" fill="url(#g17)"/>
<circle cx="1534.7" cy="1891.3" r="11.1" fill="url(#g17)"/>
<circle cx="1545.7" cy="1858.1" r="12.4" fill="url(#g17)"/>
<circle cx="1554.5" cy="1882.4" r="12.4" fill="url(#g17)"/>
<circle cx="1573.8" cy="1857.0" r="19.3" fill="url(#g17)"/>
<circle cx="1583.3" cy="1878.0" r="9.9" fill="url(#g17)"/>
<circle cx="1589.9" cy="1847.1" r="9.9" fill="url(#g17)"/>
<circle cx="1593.5" cy="1906.4" r="19.3" fill="url(#g17)"/>
<circle cx="1600.9" cy="1897.9" r="12.4" fill="url(#g17)"/>
<circle cx="1634.1" cy="1636.3" r="11.1" fill="url(#g17)"/>
<circle cx="1649.5" cy="1961.9" r="9.9" fill="url(#g17)"/>
<circle cx="1652.7" cy="1931.1" r="19.3" fill="url(#g17)"/>
<circle cx="1653.9" cy="1924.4" r="12.4" fill="url(#g17)"/>
<circle cx="1657.7" cy="1960.7" r="19.3" fill="url(#g17)"/>
<circle cx="1658.3" cy="1973.0" r="9.9" fill="url(#g17)"/>
<circle cx="1667.6" cy="1575.7" r="11.1" fill="url(#g17)"/>
<circle cx="1671.6" cy="1578.9" r="8.7" fill="url(#g17)"/>
<circle cx="1671.6" cy="1990.7" r="9.9" fill="url(#g17)"/>
<circle cx="1680.4" cy="1748.8" r="11.1" fill="url(#g17)"/>
<circle cx="1682.4" cy="2005.1" r="16.6" fill="url(#g17)"/>
<circle cx="1711.3" cy="1995.1" r="8.7" fill="url(#g17)"/>
<circle cx="1720.2" cy="1631.9" r="11.1" fill="url(#g17)"/>
<circle cx="1721.8" cy="1630.0" r="16.6" fill="url(#g17)"/>
<circle cx="1726.8" cy="1753.4" r="13.8" fill="url(#g17)"/>
<circle cx="1786.4" cy="1645.2" r="12.4" fill="url(#g17)"/>
<circle cx="1799.7" cy="1603.2" r="12.4" fill="url(#g17)"/>
<circle cx="1818.5" cy="1848.2" r="11.1" fill="url(#g17)"/>
<circle cx="1830.4" cy="1610.3" r="22.1" fill="url(#g17)"/>
<circle cx="1832.8" cy="1953.1" r="7.4" fill="url(#g17)"/>
<circle cx="1846.1" cy="1605.4" r="9.9" fill="url(#g17)"/>
<circle cx="1149.4" cy="1723.8" r="19.3" fill="url(#g22)"/>
<circle cx="1150.6" cy="1769.0" r="10.3" fill="url(#g22)"/>
<circle cx="1152.9" cy="1718.6" r="15.4" fill="url(#g22)"/>
<circle cx="1152.9" cy="1753.0" r="14.1" fill="url(#g22)"/>
<circle cx="1152.9" cy="1771.3" r="14.1" fill="url(#g22)"/>
<circle cx="1152.9" cy="1789.6" r="14.1" fill="url(#g22)"/>
<circle cx="1152.9" cy="1807.9" r="15.4" fill="url(#g22)"/>
<circle cx="1152.9" cy="1812.5" r="12.8" fill="url(#g22)"/>
<circle cx="1154.3" cy="1783.0" r="16.6" fill="url(#g22)"/>
<circle cx="1154.3" cy="1817.6" r="19.3" fill="url(#g22)"/>
<circle cx="1154.3" cy="1921.2" r="13.8" fill="url(#g22)"/>
<circle cx="1155.2" cy="1727.8" r="15.4" fill="url(#g22)"/>
<circle cx="1155.2" cy="1734.7" r="15.4" fill="url(#g22)"/>
<circle cx="1155.2" cy="1826.2" r="15.4" fill="url(#g22)"/>
<circle cx="1155.2" cy="1835.4" r="15.4" fill="url(#g22)"/>
<circle cx="1155.2" cy="1923.5" r="10.3" fill="url(#g22)"/>
<circle cx="1155.2" cy="1923.5" r="11.5" fill="url(#g22)"/>
<circle cx="1159.2" cy="1743.5" r="16.6" fill="url(#g22)"/>
<circle cx="1159.7" cy="1743.8" r="12.8" fill="url(#g22)"/>
<circle cx="1159.7" cy="1844.5" r="16.7" fill="url(#g22)"/>
<circle cx="1164.2" cy="1852.1" r="19.3" fill="url(#g22)"/>
<circle cx="1164.3" cy="1856.0" r="15.4" fill="url(#g22)"/>
<circle cx="1168.9" cy="1860.5" r="15.4" fill="url(#g22)"/>
<circle cx="1173.5" cy="1862.8" r="11.5" fill="url(#g22)"/>
<circle cx="1180.3" cy="1862.8" r="12.8" fill="url(#g22)"/>
<circle cx="1205.5" cy="1867.4" r="11.5" fill="url(#g22)"/>
<circle cx="1210.1" cy="1869.7" r="10.3" fill="url(#g22)"/>
<circle cx="1214.7" cy="1750.7" r="10.3" fill="url(#g22)"/>
<circle cx="1219.2" cy="1970.4" r="10.3" fill="url(#g22)"/>
<circle cx="1221.5" cy="1869.7" r="12.8" fill="url(#g22)"/>
<circle cx="1223.4" cy="1866.9" r="16.6" fill="url(#g22)"/>
<circle cx="1228.4" cy="1869.7" r="10.3" fill="url(#g22)"/>
<circle cx="1230.7" cy="1655.6" r="9.0" fill="url(#g22)"/>
<circle cx="1237.5" cy="1867.4" r="11.5" fill="url(#g22)"/>
<circle cx="1251.3" cy="1997.9" r="15.4" fill="url(#g22)"/>
<circle cx="1253.6" cy="1862.8" r="10.3" fill="url(#g22)"/>
<circle cx="1253.6" cy="1865.1" r="12.8" fill="url(#g22)"/>
<circle cx="1265.0" cy="1872.0" r="10.3" fill="url(#g22)"/>
<circle cx="1278.7" cy="1872.0" r="11.5" fill="url(#g22)"/>
<circle cx="1285.6" cy="1810.2" r="7.7" fill="url(#g22)"/>
<circle cx="1290.2" cy="1874.3" r="10.3" fill="url(#g22)"/>
<circle cx="1292.5" cy="1874.3" r="11.5" fill="url(#g22)"/>
<circle cx="1306.2" cy="1867.4" r="9.0" fill="url(#g22)"/>
<circle cx="1306.2" cy="1867.4" r="10.3" fill="url(#g22)"/>
<circle cx="1311.9" cy="1961.2" r="10.3" fill="url(#g22)"/>
<circle cx="1319.9" cy="1813.6" r="7.7" fill="url(#g22)"/>
<circle cx="1322.2" cy="1771.3" r="9.0" fill="url(#g22)"/>
<circle cx="1346.8" cy="1627.5" r="11.1" fill="url(#g22)"/>
<circle cx="1347.4" cy="1627.0" r="7.7" fill="url(#g22)"/>
<circle cx="1347.4" cy="1834.2" r="10.3" fill="url(#g22)"/>
<circle cx="1347.4" cy="1834.2" r="11.5" fill="url(#g22)"/>
<circle cx="1347.4" cy="1846.8" r="9.0" fill="url(#g22)"/>
<circle cx="1354.3" cy="1772.4" r="9.0" fill="url(#g22)"/>
<circle cx="1358.9" cy="1878.9" r="9.0" fill="url(#g22)"/>
<circle cx="1358.9" cy="1878.9" r="10.3" fill="url(#g22)"/>
<circle cx="1365.7" cy="1656.8" r="7.2" fill="url(#g22)"/>
<circle cx="1480.0" cy="1812.6" r="22.1" fill="url(#g22)"/>
<circle cx="1480.2" cy="1812.5" r="17.9" fill="url(#g22)"/>
<circle cx="1480.2" cy="1812.5" r="20.5" fill="url(#g22)"/>
<circle cx="1493.9" cy="1812.5" r="14.1" fill="url(#g22)"/>
<circle cx="1496.2" cy="1814.8" r="16.7" fill="url(#g22)"/>
<circle cx="1503.0" cy="1828.5" r="10.3" fill="url(#g22)"/>
<circle cx="1503.0" cy="1833.1" r="12.8" fill="url(#g22)"/>
<circle cx="1504.7" cy="1832.4" r="19.3" fill="url(#g22)"/>
<circle cx="1505.3" cy="1844.5" r="10.3" fill="url(#g22)"/>
<circle cx="1507.6" cy="1849.1" r="12.8" fill="url(#g22)"/>
<circle cx="1509.9" cy="1860.5" r="10.3" fill="url(#g22)"/>
<circle cx="1512.2" cy="1867.4" r="12.8" fill="url(#g22)"/>
<circle cx="1514.5" cy="1881.1" r="10.3" fill="url(#g22)"/>
<circle cx="1521.4" cy="1869.2" r="9.9" fill="url(#g22)"/>
<circle cx="1523.6" cy="1842.7" r="14.8" fill="url(#g22)"/>
<circle cx="1524.4" cy="1852.1" r="19.3" fill="url(#g22)"/>
<circle cx="1530.3" cy="1853.7" r="13.6" fill="url(#g22)"/>
<circle cx="1534.7" cy="1811.8" r="7.4" fill="url(#g22)"/>
<circle cx="1554.5" cy="1882.4" r="9.9" fill="url(#g22)"/>
<circle cx="1559.0" cy="1842.2" r="22.1" fill="url(#g22)"/>
<circle cx="1561.2" cy="1838.3" r="14.8" fill="url(#g22)"/>
<circle cx="1572.2" cy="1840.5" r="11.1" fill="url(#g22)"/>
<circle cx="1605.3" cy="1886.9" r="12.4" fill="url(#g22)"/>
<circle cx="1608.3" cy="1886.6" r="16.6" fill="url(#g22)"/>
<circle cx="1634.1" cy="1636.3" r="8.7" fill="url(#g22)"/>
<circle cx="1649.5" cy="1616.4" r="7.4" fill="url(#g22)"/>
<circle cx="1653.9" cy="1924.4" r="8.7" fill="url(#g22)"/>
<circle cx="1667.6" cy="1990.3" r="16.6" fill="url(#g22)"/>
<circle cx="1676.0" cy="2008.3" r="8.7" fill="url(#g22)"/>
<circle cx="1680.4" cy="1748.8" r="7.4" fill="url(#g22)"/>
<circle cx="1682.4" cy="1748.5" r="13.8" fill="url(#g22)"/>
<circle cx="1721.8" cy="2005.1" r="13.8" fill="url(#g22)"/>
<circle cx="1722.4" cy="2008.3" r="9.9" fill="url(#g22)"/>
<circle cx="1751.1" cy="2008.3" r="8.7" fill="url(#g22)"/>
<circle cx="1751.4" cy="2005.1" r="13.8" fill="url(#g22)"/>
<circle cx="1786.0" cy="1644.8" r="13.8" fill="url(#g22)"/>
<circle cx="1786.4" cy="1645.2" r="8.7" fill="url(#g22)"/>
<circle cx="1795.9" cy="2005.1" r="13.8" fill="url(#g22)"/>
<circle cx="1797.5" cy="2008.3" r="9.9" fill="url(#g22)"/>
<circle cx="1799.7" cy="1603.2" r="8.7" fill="url(#g22)"/>
<circle cx="1800.8" cy="1602.9" r="13.8" fill="url(#g22)"/>
<circle cx="1818.5" cy="1848.2" r="7.4" fill="url(#g22)"/>
<circle cx="1854.9" cy="1649.6" r="7.4" fill="url(#g22)"/>
<circle cx="1855.1" cy="1649.8" r="12.2" fill="url(#g22)"/>
</g></g>
<rect x="197.0" y="177.8" width="729.6" height="719.4" fill="none" stroke="#1c1c1c" stroke-width="2.5"/>
<line x1="197.0" y1="897.2" x2="197.0" y2="906.7" stroke="#1c1c1c" stroke-width="2.5"/>
<text x="221.0" y="972.7" text-anchor="middle" class="t">−65</text>
<line x1="313.1" y1="897.2" x2="313.1" y2="906.7" stroke="#1c1c1c" stroke-width="2.5"/>
<text x="337.1" y="972.7" text-anchor="middle" class="t">−60</text>
<line x1="429.2" y1="897.2" x2="429.2" y2="906.7" stroke="#1c1c1c" stroke-width="2.5"/>
<text x="453.2" y="972.7" text-anchor="middle" class="t">−55</text>
<line x1="545.3" y1="897.2" x2="545.3" y2="906.7" stroke="#1c1c1c" stroke-width="2.5"/>
<text x="569.3" y="972.7" text-anchor="middle" class="t">−50</text>
<line x1="661.4" y1="897.2" x2="661.4" y2="906.7" stroke="#1c1c1c" stroke-width="2.5"/>
<text x="685.4" y="972.7" text-anchor="middle" class="t">−45</text>
<line x1="777.5" y1="897.2" x2="777.5" y2="906.7" stroke="#1c1c1c" stroke-width="2.5"/>
<text x="801.5" y="972.7" text-anchor="middle" class="t">−40</text>
<line x1="893.6" y1="897.2" x2="893.6" y2="906.7" stroke="#1c1c1c" stroke-width="2.5"/>
<text x="917.6" y="972.7" text-anchor="middle" class="t">−35</text>
<line x1="187.5" y1="897.2" x2="197.0" y2="897.2" stroke="#1c1c1c" stroke-width="2.5"/>
<text x="148.0" y="905.7" text-anchor="end" class="t">20</text>
<line x1="187.5" y1="781.1" x2="197.0" y2="781.1" stroke="#1c1c1c" stroke-width="2.5"/>
<text x="148.0" y="789.6" text-anchor="end" class="t">25</text>
<line x1="187.5" y1="665.0" x2="197.0" y2="665.0" stroke="#1c1c1c" stroke-width="2.5"/>
<text x="148.0" y="673.5" text-anchor="end" class="t">30</text>
<line x1="187.5" y1="548.9" x2="197.0" y2="548.9" stroke="#1c1c1c" stroke-width="2.5"/>
<text x="148.0" y="557.4" text-anchor="end" class="t">35</text>
<line x1="187.5" y1="432.8" x2="197.0" y2="432.8" stroke="#1c1c1c" stroke-width="2.5"/>
<text x="148.0" y="441.3" text-anchor="end" class="t">40</text>
<line x1="187.5" y1="316.7" x2="197.0" y2="316.7" stroke="#1c1c1c" stroke-width="2.5"/>
<text x="148.0" y="325.2" text-anchor="end" class="t">45</text>
<line x1="187.5" y1="200.6" x2="197.0" y2="200.6" stroke="#1c1c1c" stroke-width="2.5"/>
<text x="148.0" y="209.1" text-anchor="end" class="t">50</text>
<rect x="1145.6" y="176.2" width="729.2" height="719.5" fill="none" stroke="#1c1c1c" stroke-width="2.5"/>
<line x1="1145.6" y1="895.7" x2="1145.6" y2="905.2" stroke="#1c1c1c" stroke-width="2.5"/>
<text x="1169.6" y="971.2" text-anchor="middle" class="t">−65</text>
<line x1="1261.7" y1="895.7" x2="1261.7" y2="905.2" stroke="#1c1c1c" stroke-width="2.5"/>
<text x="1285.7" y="971.2" text-anchor="middle" class="t">−60</text>
<line x1="1377.8" y1="895.7" x2="1377.8" y2="905.2" stroke="#1c1c1c" stroke-width="2.5"/>
<text x="1401.8" y="971.2" text-anchor="middle" class="t">−55</text>
<line x1="1493.9" y1="895.7" x2="1493.9" y2="905.2" stroke="#1c1c1c" stroke-width="2.5"/>
<text x="1517.9" y="971.2" text-anchor="middle" class="t">−50</text>
<line x1="1610.0" y1="895.7" x2="1610.0" y2="905.2" stroke="#1c1c1c" stroke-width="2.5"/>
<text x="1634.0" y="971.2" text-anchor="middle" class="t">−45</text>
<line x1="1726.1" y1="895.7" x2="1726.1" y2="905.2" stroke="#1c1c1c" stroke-width="2.5"/>
<text x="1750.1" y="971.2" text-anchor="middle" class="t">−40</text>
<line x1="1842.2" y1="895.7" x2="1842.2" y2="905.2" stroke="#1c1c1c" stroke-width="2.5"/>
<text x="1866.2" y="971.2" text-anchor="middle" class="t">−35</text>
<line x1="1136.1" y1="895.7" x2="1145.6" y2="895.7" stroke="#1c1c1c" stroke-width="2.5"/>
<text x="1096.6" y="904.2" text-anchor="end" class="t">20</text>
<line x1="1136.1" y1="779.6" x2="1145.6" y2="779.6" stroke="#1c1c1c" stroke-width="2.5"/>
<text x="1096.6" y="788.1" text-anchor="end" class="t">25</text>
<line x1="1136.1" y1="663.5" x2="1145.6" y2="663.5" stroke="#1c1c1c" stroke-width="2.5"/>
<text x="1096.6" y="672.0" text-anchor="end" class="t">30</text>
<line x1="1136.1" y1="547.4" x2="1145.6" y2="547.4" stroke="#1c1c1c" stroke-width="2.5"/>
<text x="1096.6" y="555.9" text-anchor="end" class="t">35</text>
<line x1="1136.1" y1="431.3" x2="1145.6" y2="431.3" stroke="#1c1c1c" stroke-width="2.5"/>
<text x="1096.6" y="439.8" text-anchor="end" class="t">40</text>
<line x1="1136.1" y1="315.2" x2="1145.6" y2="315.2" stroke="#1c1c1c" stroke-width="2.5"/>
<text x="1096.6" y="323.7" text-anchor="end" class="t">45</text>
<line x1="1136.1" y1="199.1" x2="1145.6" y2="199.1" stroke="#1c1c1c" stroke-width="2.5"/>
<text x="1096.6" y="207.6" text-anchor="end" class="t">50</text>
<rect x="198.5" y="1294.4" width="729.1" height="719.1" fill="none" stroke="#1c1c1c" stroke-width="2.5"/>
<line x1="198.5" y1="2013.5" x2="198.5" y2="2023.0" stroke="#1c1c1c" stroke-width="2.5"/>
<text x="222.5" y="2089.0" text-anchor="middle" class="t">−65</text>
<line x1="314.6" y1="2013.5" x2="314.6" y2="2023.0" stroke="#1c1c1c" stroke-width="2.5"/>
<text x="338.6" y="2089.0" text-anchor="middle" class="t">−60</text>
<line x1="430.7" y1="2013.5" x2="430.7" y2="2023.0" stroke="#1c1c1c" stroke-width="2.5"/>
<text x="454.7" y="2089.0" text-anchor="middle" class="t">−55</text>
<line x1="546.8" y1="2013.5" x2="546.8" y2="2023.0" stroke="#1c1c1c" stroke-width="2.5"/>
<text x="570.8" y="2089.0" text-anchor="middle" class="t">−50</text>
<line x1="662.9" y1="2013.5" x2="662.9" y2="2023.0" stroke="#1c1c1c" stroke-width="2.5"/>
<text x="686.9" y="2089.0" text-anchor="middle" class="t">−45</text>
<line x1="779.0" y1="2013.5" x2="779.0" y2="2023.0" stroke="#1c1c1c" stroke-width="2.5"/>
<text x="803.0" y="2089.0" text-anchor="middle" class="t">−40</text>
<line x1="895.1" y1="2013.5" x2="895.1" y2="2023.0" stroke="#1c1c1c" stroke-width="2.5"/>
<text x="919.1" y="2089.0" text-anchor="middle" class="t">−35</text>
<line x1="189.0" y1="2013.5" x2="198.5" y2="2013.5" stroke="#1c1c1c" stroke-width="2.5"/>
<text x="149.5" y="2022.0" text-anchor="end" class="t">20</text>
<line x1="189.0" y1="1897.4" x2="198.5" y2="1897.4" stroke="#1c1c1c" stroke-width="2.5"/>
<text x="149.5" y="1905.9" text-anchor="end" class="t">25</text>
<line x1="189.0" y1="1781.3" x2="198.5" y2="1781.3" stroke="#1c1c1c" stroke-width="2.5"/>
<text x="149.5" y="1789.8" text-anchor="end" class="t">30</text>
<line x1="189.0" y1="1665.2" x2="198.5" y2="1665.2" stroke="#1c1c1c" stroke-width="2.5"/>
<text x="149.5" y="1673.7" text-anchor="end" class="t">35</text>
<line x1="189.0" y1="1549.1" x2="198.5" y2="1549.1" stroke="#1c1c1c" stroke-width="2.5"/>
<text x="149.5" y="1557.6" text-anchor="end" class="t">40</text>
<line x1="189.0" y1="1433.0" x2="198.5" y2="1433.0" stroke="#1c1c1c" stroke-width="2.5"/>
<text x="149.5" y="1441.5" text-anchor="end" class="t">45</text>
<line x1="189.0" y1="1316.9" x2="198.5" y2="1316.9" stroke="#1c1c1c" stroke-width="2.5"/>
<text x="149.5" y="1325.4" text-anchor="end" class="t">50</text>
<rect x="1146.2" y="1294.4" width="728.7" height="719.1" fill="none" stroke="#1c1c1c" stroke-width="2.5"/>
<line x1="1146.2" y1="2013.5" x2="1146.2" y2="2023.0" stroke="#1c1c1c" stroke-width="2.5"/>
<text x="1170.2" y="2089.0" text-anchor="middle" class="t">−65</text>
<line x1="1262.3" y1="2013.5" x2="1262.3" y2="2023.0" stroke="#1c1c1c" stroke-width="2.5"/>
<text x="1286.3" y="2089.0" text-anchor="middle" class="t">−60</text>
<line x1="1378.4" y1="2013.5" x2="1378.4" y2="2023.0" stroke="#1c1c1c" stroke-width="2.5"/>
<text x="1402.4" y="2089.0" text-anchor="middle" class="t">−55</text>
<line x1="1494.5" y1="2013.5" x2="1494.5" y2="2023.0" stroke="#1c1c1c" stroke-width="2.5"/>
<text x="1518.5" y="2089.0" text-anchor="middle" class="t">−50</text>
<line x1="1610.6" y1="2013.5" x2="1610.6" y2="2023.0" stroke="#1c1c1c" stroke-width="2.5"/>
<text x="1634.6" y="2089.0" text-anchor="middle" class="t">−45</text>
<line x1="1726.7" y1="2013.5" x2="1726.7" y2="2023.0" stroke="#1c1c1c" stroke-width="2.5"/>
<text x="1750.7" y="2089.0" text-anchor="middle" class="t">−40</text>
<line x1="1842.8" y1="2013.5" x2="1842.8" y2="2023.0" stroke="#1c1c1c" stroke-width="2.5"/>
<text x="1866.8" y="2089.0" text-anchor="middle" class="t">−35</text>
<line x1="1136.7" y1="2013.5" x2="1146.2" y2="2013.5" stroke="#1c1c1c" stroke-width="2.5"/>
<text x="1097.2" y="2022.0" text-anchor="end" class="t">20</text>
<line x1="1136.7" y1="1897.4" x2="1146.2" y2="1897.4" stroke="#1c1c1c" stroke-width="2.5"/>
<text x="1097.2" y="1905.9" text-anchor="end" class="t">25</text>
<line x1="1136.7" y1="1781.3" x2="1146.2" y2="1781.3" stroke="#1c1c1c" stroke-width="2.5"/>
<text x="1097.2" y="1789.8" text-anchor="end" class="t">30</text>
<line x1="1136.7" y1="1665.2" x2="1146.2" y2="1665.2" stroke="#1c1c1c" stroke-width="2.5"/>
<text x="1097.2" y="1673.7" text-anchor="end" class="t">35</text>
<line x1="1136.7" y1="1549.1" x2="1146.2" y2="1549.1" stroke="#1c1c1c" stroke-width="2.5"/>
<text x="1097.2" y="1557.6" text-anchor="end" class="t">40</text>
<line x1="1136.7" y1="1433.0" x2="1146.2" y2="1433.0" stroke="#1c1c1c" stroke-width="2.5"/>
<text x="1097.2" y="1441.5" text-anchor="end" class="t">45</text>
<line x1="1136.7" y1="1316.9" x2="1146.2" y2="1316.9" stroke="#1c1c1c" stroke-width="2.5"/>
<text x="1097.2" y="1325.4" text-anchor="end" class="t">50</text>
<rect x="1991.5" y="57.2" width="48.299999999999955" height="956.3" fill="url(#cb1)" stroke="#1c1c1c" stroke-width="2.5"/>
<line x1="2039.8" y1="1013.5" x2="2049.3" y2="1013.5" stroke="#1c1c1c" stroke-width="2.5"/>
<text x="2063.8" y="1021.0" class="t">0.0</text>
<line x1="2039.8" y1="822.2" x2="2049.3" y2="822.2" stroke="#1c1c1c" stroke-width="2.5"/>
<text x="2063.8" y="829.7" class="t">0.2</text>
<line x1="2039.8" y1="631.0" x2="2049.3" y2="631.0" stroke="#1c1c1c" stroke-width="2.5"/>
<text x="2063.8" y="638.5" class="t">0.4</text>
<line x1="2039.8" y1="439.7" x2="2049.3" y2="439.7" stroke="#1c1c1c" stroke-width="2.5"/>
<text x="2063.8" y="447.2" class="t">0.6</text>
<line x1="2039.8" y1="248.5" x2="2049.3" y2="248.5" stroke="#1c1c1c" stroke-width="2.5"/>
<text x="2063.8" y="256.0" class="t">0.8</text>
<line x1="2039.8" y1="57.2" x2="2049.3" y2="57.2" stroke="#1c1c1c" stroke-width="2.5"/>
<text x="2063.8" y="64.7" class="t">1.0</text>
<rect x="1991.5" y="1180.0" width="48.299999999999955" height="957.0" fill="url(#cb2)" stroke="#1c1c1c" stroke-width="2.5"/>
<text x="2063.8" y="2144.5" class="t">0.0</text>
<line x1="2039.8" y1="1945.6" x2="2049.3" y2="1945.6" stroke="#1c1c1c" stroke-width="2.5"/>
<text x="2063.8" y="1953.1" class="t">0.2</text>
<line x1="2039.8" y1="1754.2" x2="2049.3" y2="1754.2" stroke="#1c1c1c" stroke-width="2.5"/>
<text x="2063.8" y="1761.7" class="t">0.4</text>
<line x1="2039.8" y1="1562.8" x2="2049.3" y2="1562.8" stroke="#1c1c1c" stroke-width="2.5"/>
<text x="2063.8" y="1570.3" class="t">0.6</text>
<line x1="2039.8" y1="1371.4" x2="2049.3" y2="1371.4" stroke="#1c1c1c" stroke-width="2.5"/>
<text x="2063.8" y="1378.9" class="t">0.8</text>
<line x1="2039.8" y1="1180.0" x2="2049.3" y2="1180.0" stroke="#1c1c1c" stroke-width="2.5"/>
<text x="2063.8" y="1187.5" class="t">1.0</text>
<text x="243" y="144.5" class="t">DSE–NN Salinity Loss (PSU)</text>
<text x="1174" y="141.8" class="t">DSE–NN Temperature Loss (<tspan class="cjk" dx="4">℃</tspan><tspan dx="-1">)</tspan></text>
<text x="280.5" y="1261" class="t">DNN Salinity Loss (PSU)</text>
<text x="1210" y="1261" class="t">DNN Temperature Loss (<tspan class="cjk" dx="4">℃</tspan><tspan dx="-1">)</tspan></text>
<text transform="translate(66.5,489) rotate(-90)" text-anchor="middle" class="t">Latitude</text>
<text transform="translate(1015.5,487) rotate(-90)" text-anchor="middle" class="t">Latitude</text>
<text transform="translate(66.5,1606) rotate(-90)" text-anchor="middle" class="t">Latitude</text>
<text transform="translate(1015.5,1606) rotate(-90)" text-anchor="middle" class="t">Latitude</text>
<text x="521.5" y="1050" text-anchor="middle" class="t">Longitude</text>
<text x="1470" y="1050" text-anchor="middle" class="t">Longitude</text>
<text x="521.5" y="2167" text-anchor="middle" class="t">Longitude</text>
<text x="1470" y="2167" text-anchor="middle" class="t">Longitude</text>
<text transform="translate(521.5,1119) scale(1.08,1)" text-anchor="middle" class="cap">(a)</text>
<text transform="translate(1472,1119) scale(1.08,1)" text-anchor="middle" class="cap">(b)</text>
<text transform="translate(523.5,2236) scale(1.08,1)" text-anchor="middle" class="cap">(c)</text>
<text transform="translate(1472,2236) scale(1.08,1)" text-anchor="middle" class="cap">(d)</text>
<!--KDE-->
<clipPath id="clipe"><rect x="197.6" y="2352.2" width="731.8" height="515.0"/></clipPath>
<path d="M197.6 2584.8 199.6 2566.7 201.6 2548.6 203.6 2530.7 205.6 2513.2 207.6 2496.1 209.6 2479.8 211.6 2464.3 213.6 2449.9 215.6 2436.6 217.6 2424.7 219.6 2414.4 221.6 2405.6 223.6 2398.2 225.6 2392.3 227.6 2387.6 229.6 2384.0 231.6 2381.5 233.6 2380.0 235.6 2379.4 237.6 2379.5 239.6 2380.2 241.6 2381.6 243.6 2383.7 245.6 2386.3 247.6 2389.4 249.6 2393.0 251.6 2397.1 253.6 2401.6 255.6 2406.5 257.6 2411.8 259.6 2417.4 261.6 2423.3 263.6 2429.4 265.6 2435.8 267.6 2442.3 269.6 2449.0 271.6 2455.9 273.6 2462.8 275.6 2469.8 277.6 2476.9 279.6 2484.1 281.6 2491.2 283.6 2498.4 285.6 2505.5 287.6 2512.6 289.6 2519.6 291.6 2526.5 293.6 2533.4 295.6 2540.0 297.6 2546.6 299.6 2553.0 301.6 2559.2 303.6 2565.3 305.6 2571.2 307.6 2577.0 309.6 2582.7 311.6 2588.3 313.6 2593.7 315.6 2598.9 317.6 2604.1 319.6 2609.1 321.6 2614.0 323.6 2618.8 325.6 2623.4 327.6 2628.0 329.6 2632.4 331.6 2636.7 333.6 2641.0 335.6 2645.1 337.6 2649.1 339.6 2653.0 341.6 2656.8 343.6 2660.5 345.6 2664.1 347.6 2667.6 349.6 2671.0 351.6 2674.4 353.6 2677.7 355.6 2680.8 357.6 2683.9 359.6 2687.0 361.6 2689.9 363.6 2692.8 365.6 2695.6 367.6 2698.3 369.6 2701.0 371.6 2703.6 373.6 2706.2 375.6 2708.7 377.6 2711.1 379.6 2713.5 381.6 2715.8 383.6 2718.1 385.6 2720.3 387.6 2722.5 389.6 2724.7 391.6 2726.8 393.6 2728.9 395.6 2730.9 397.6 2732.9 399.6 2734.8 401.6 2736.7 403.6 2738.6 405.6 2740.4 407.6 2742.2 409.6 2744.0 411.6 2745.7 413.6 2747.4 415.6 2749.0 417.6 2750.7 419.6 2752.2 421.6 2753.8 423.6 2755.3 425.6 2756.8 427.6 2758.3 429.6 2759.7 431.6 2761.1 433.6 2762.5 435.6 2763.8 437.6 2765.1 439.6 2766.4 441.6 2767.7 443.6 2768.9 445.6 2770.1 447.6 2771.3 449.6 2772.5 451.6 2773.6 453.6 2774.8 455.6 2775.9 457.6 2776.9 459.6 2778.0 461.6 2779.0 463.6 2780.1 465.6 2781.1 467.6 2782.1 469.6 2783.0 471.6 2784.0 473.6 2784.9 475.6 2785.8 477.6 2786.7 479.6 2787.6 481.6 2788.5 483.6 2789.4 485.6 2790.2 487.6 2791.1 489.6 2791.9 491.6 2792.7 493.6 2793.5 495.6 2794.3 497.6 2795.1 499.6 2795.9 501.6 2796.7 503.6 2797.5 505.6 2798.2 507.6 2799.0 509.6 2799.7 511.6 2800.5 513.6 2801.2 515.6 2801.9 517.6 2802.6 519.6 2803.3 521.6 2804.0 523.6 2804.7 525.6 2805.4 527.6 2806.1 529.6 2806.7 531.6 2807.4 533.6 2808.1 535.6 2808.7 537.6 2809.3 539.6 2810.0 541.6 2810.6 543.6 2811.2 545.6 2811.8 547.6 2812.4 549.6 2813.0 551.6 2813.6 553.6 2814.1 555.6 2814.7 557.6 2815.3 559.6 2815.8 561.6 2816.4 563.6 2816.9 565.6 2817.4 567.6 2818.0 569.6 2818.5 571.6 2819.0 573.6 2819.5 575.6 2820.0 577.6 2820.5 579.6 2821.0 581.6 2821.5 583.6 2821.9 585.6 2822.4 587.6 2822.9 589.6 2823.3 591.6 2823.8 593.6 2824.2 595.6 2824.6 597.6 2825.1 599.6 2825.5 601.6 2825.9 603.6 2826.3 605.6 2826.7 607.6 2827.1 609.6 2827.5 611.6 2827.9 613.6 2828.3 615.6 2828.7 617.6 2829.1 619.6 2829.4 621.6 2829.8 623.6 2830.2 625.6 2830.5 627.6 2830.9 629.6 2831.2 631.6 2831.5 633.6 2831.9 635.6 2832.2 637.6 2832.5 639.6 2832.8 641.6 2833.1 643.6 2833.4 645.6 2833.8 647.6 2834.1 649.6 2834.3 651.6 2834.6 653.6 2834.9 655.6 2835.2 657.6 2835.5 659.6 2835.7 661.6 2836.0 663.6 2836.3 665.6 2836.5 667.6 2836.8 669.6 2837.0 671.6 2837.3 673.6 2837.5 675.6 2837.8 677.6 2838.0 679.6 2838.2 681.6 2838.5 683.6 2838.7 685.6 2838.9 687.6 2839.1 689.6 2839.3 691.6 2839.6 693.6 2839.8 695.6 2840.0 697.6 2840.2 699.6 2840.4 701.6 2840.6 703.6 2840.7 705.6 2840.9 707.6 2841.1 709.6 2841.3 711.6 2841.5 713.6 2841.7 715.6 2841.8 717.6 2842.0 719.6 2842.2 721.6 2842.3 723.6 2842.5 725.6 2842.6 727.6 2842.8 729.6 2843.0 731.6 2843.1 733.6 2843.3 735.6 2843.4 737.6 2843.6 739.6 2843.7 741.6 2843.8 743.6 2844.0 745.6 2844.1 747.6 2844.3 749.6 2844.4 751.6 2844.5 753.6 2844.7 755.6 2844.8 757.6 2844.9 759.6 2845.0 761.6 2845.2 763.6 2845.3 765.6 2845.4 767.6 2845.5 769.6 2845.6 771.6 2845.8 773.6 2845.9 775.6 2846.0 777.6 2846.1 779.6 2846.2 781.6 2846.3 783.6 2846.4 785.6 2846.5 787.6 2846.6 789.6 2846.8 791.6 2846.9 793.6 2847.0 795.6 2847.1 797.6 2847.2 799.6 2847.3 801.6 2847.4 803.6 2847.5 805.6 2847.6 807.6 2847.7 809.6 2847.8 811.6 2847.9 813.6 2848.0 815.6 2848.1 817.6 2848.2 819.6 2848.3 821.6 2848.4 823.6 2848.5 825.6 2848.6 827.6 2848.7 829.6 2848.8 831.6 2848.9 833.6 2849.0 835.6 2849.1 837.6 2849.2 839.6 2849.3 841.6 2849.4 843.6 2849.6 845.6 2849.7 847.6 2849.8 849.6 2849.9 851.6 2850.0 853.6 2850.1 855.6 2850.2 857.6 2850.3 859.6 2850.4 861.6 2850.5 863.6 2850.7 865.6 2850.8 867.6 2850.9 869.6 2851.0 871.6 2851.1 873.6 2851.3 875.6 2851.4 877.6 2851.5 879.6 2851.6 881.6 2851.8 883.6 2851.9 885.6 2852.0 887.6 2852.2 889.6 2852.3 891.6 2852.4 893.6 2852.6 895.6 2852.7 897.6 2852.9 899.6 2853.0 901.6 2853.2 903.6 2853.3 905.6 2853.5 907.6 2853.6 909.6 2853.8 911.6 2854.0 913.6 2854.1 915.6 2854.3 917.6 2854.5 919.6 2854.6 921.6 2854.8 923.6 2855.0 925.6 2855.2 927.6 2855.3 928.8 2855.5" fill="none" stroke="#0c7bbf" stroke-width="2.6" stroke-linejoin="round" clip-path="url(#clipe)"/>
<path d="M197.6 2638.8 199.6 2624.6 201.6 2611.2 203.6 2598.7 205.6 2586.9 207.6 2575.9 209.6 2565.7 211.6 2556.2 213.6 2547.4 215.6 2539.3 217.6 2531.9 219.6 2525.2 221.6 2519.0 223.6 2513.5 225.6 2508.6 227.6 2504.3 229.6 2500.5 231.6 2497.3 233.6 2494.5 235.6 2492.3 237.6 2490.5 239.6 2489.2 241.6 2488.4 243.6 2487.9 245.6 2487.8 247.6 2488.1 249.6 2488.8 251.6 2489.8 253.6 2491.1 255.6 2492.7 257.6 2494.6 259.6 2496.7 261.6 2499.0 263.6 2501.6 265.6 2504.4 267.6 2507.3 269.6 2510.4 271.6 2513.6 273.6 2517.0 275.6 2520.5 277.6 2524.1 279.6 2527.9 281.6 2531.7 283.6 2535.7 285.6 2539.7 287.6 2543.8 289.6 2548.0 291.6 2552.3 293.6 2556.6 295.6 2560.9 297.6 2565.3 299.6 2569.7 301.6 2574.1 303.6 2578.5 305.6 2582.9 307.6 2587.3 309.6 2591.7 311.6 2596.1 313.6 2600.4 315.6 2604.7 317.6 2608.9 319.6 2613.1 321.6 2617.2 323.6 2621.2 325.6 2625.1 327.6 2628.9 329.6 2632.7 331.6 2636.3 333.6 2639.9 335.6 2643.4 337.6 2646.8 339.6 2650.1 341.6 2653.4 343.6 2656.6 345.6 2659.7 347.6 2662.7 349.6 2665.7 351.6 2668.6 353.6 2671.5 355.6 2674.2 357.6 2677.0 359.6 2679.6 361.6 2682.2 363.6 2684.8 365.6 2687.3 367.6 2689.7 369.6 2692.1 371.6 2694.5 373.6 2696.8 375.6 2699.1 377.6 2701.3 379.6 2703.5 381.6 2705.7 383.6 2707.8 385.6 2709.9 387.6 2711.9 389.6 2714.0 391.6 2715.9 393.6 2717.9 395.6 2719.9 397.6 2721.8 399.6 2723.6 401.6 2725.5 403.6 2727.3 405.6 2729.1 407.6 2730.9 409.6 2732.6 411.6 2734.3 413.6 2736.0 415.6 2737.7 417.6 2739.3 419.6 2741.0 421.6 2742.5 423.6 2744.1 425.6 2745.6 427.6 2747.2 429.6 2748.7 431.6 2750.1 433.6 2751.6 435.6 2753.0 437.6 2754.4 439.6 2755.8 441.6 2757.1 443.6 2758.5 445.6 2759.8 447.6 2761.1 449.6 2762.3 451.6 2763.6 453.6 2764.8 455.6 2766.0 457.6 2767.2 459.6 2768.4 461.6 2769.5 463.6 2770.7 465.6 2771.8 467.6 2772.9 469.6 2774.0 471.6 2775.0 473.6 2776.1 475.6 2777.1 477.6 2778.1 479.6 2779.1 481.6 2780.1 483.6 2781.1 485.6 2782.1 487.6 2783.0 489.6 2783.9 491.6 2784.8 493.6 2785.7 495.6 2786.6 497.6 2787.5 499.6 2788.3 501.6 2789.2 503.6 2790.0 505.6 2790.8 507.6 2791.7 509.6 2792.5 511.6 2793.2 513.6 2794.0 515.6 2794.8 517.6 2795.5 519.6 2796.2 521.6 2797.0 523.6 2797.7 525.6 2798.4 527.6 2799.1 529.6 2799.8 531.6 2800.4 533.6 2801.1 535.6 2801.7 537.6 2802.4 539.6 2803.0 541.6 2803.6 543.6 2804.2 545.6 2804.8 547.6 2805.4 549.6 2806.0 551.6 2806.5 553.6 2807.1 555.6 2807.6 557.6 2808.2 559.6 2808.7 561.6 2809.2 563.6 2809.7 565.6 2810.2 567.6 2810.7 569.6 2811.2 571.6 2811.7 573.6 2812.1 575.6 2812.6 577.6 2813.0 579.6 2813.5 581.6 2813.9 583.6 2814.3 585.6 2814.7 587.6 2815.2 589.6 2815.6 591.6 2816.0 593.6 2816.3 595.6 2816.7 597.6 2817.1 599.6 2817.5 601.6 2817.8 603.6 2818.2 605.6 2818.5 607.6 2818.9 609.6 2819.2 611.6 2819.6 613.6 2819.9 615.6 2820.2 617.6 2820.5 619.6 2820.8 621.6 2821.1 623.6 2821.4 625.6 2821.7 627.6 2822.0 629.6 2822.3 631.6 2822.6 633.6 2822.9 635.6 2823.1 637.6 2823.4 639.6 2823.7 641.6 2823.9 643.6 2824.2 645.6 2824.4 647.6 2824.7 649.6 2824.9 651.6 2825.2 653.6 2825.4 655.6 2825.7 657.6 2825.9 659.6 2826.1 661.6 2826.3 663.6 2826.6 665.6 2826.8 667.6 2827.0 669.6 2827.2 671.6 2827.4 673.6 2827.7 675.6 2827.9 677.6 2828.1 679.6 2828.3 681.6 2828.5 683.6 2828.7 685.6 2828.9 687.6 2829.1 689.6 2829.3 691.6 2829.5 693.6 2829.7 695.6 2829.9 697.6 2830.1 699.6 2830.3 701.6 2830.5 703.6 2830.7 705.6 2830.9 707.6 2831.2 709.6 2831.4 711.6 2831.6 713.6 2831.8 715.6 2832.0 717.6 2832.2 719.6 2832.4 721.6 2832.6 723.6 2832.8 725.6 2833.0 727.6 2833.2 729.6 2833.4 731.6 2833.6 733.6 2833.8 735.6 2834.0 737.6 2834.2 739.6 2834.4 741.6 2834.6 743.6 2834.8 745.6 2835.1 747.6 2835.3 749.6 2835.5 751.6 2835.7 753.6 2835.9 755.6 2836.1 757.6 2836.3 759.6 2836.5 761.6 2836.7 763.6 2836.9 765.6 2837.1 767.6 2837.3 769.6 2837.5 771.6 2837.7 773.6 2837.9 775.6 2838.1 777.6 2838.3 779.6 2838.5 781.6 2838.7 783.6 2838.9 785.6 2839.1 787.6 2839.3 789.6 2839.5 791.6 2839.7 793.6 2839.9 795.6 2840.1 797.6 2840.3 799.6 2840.5 801.6 2840.7 803.6 2840.9 805.6 2841.1 807.6 2841.2 809.6 2841.4 811.6 2841.6 813.6 2841.8 815.6 2842.0 817.6 2842.2 819.6 2842.4 821.6 2842.5 823.6 2842.7 825.6 2842.9 827.6 2843.1 829.6 2843.2 831.6 2843.4 833.6 2843.6 835.6 2843.8 837.6 2843.9 839.6 2844.1 841.6 2844.3 843.6 2844.4 845.6 2844.6 847.6 2844.8 849.6 2844.9 851.6 2845.1 853.6 2845.2 855.6 2845.4 857.6 2845.5 859.6 2845.7 861.6 2845.8 863.6 2846.0 865.6 2846.1 867.6 2846.3 869.6 2846.4 871.6 2846.6 873.6 2846.7 875.6 2846.8 877.6 2847.0 879.6 2847.1 881.6 2847.2 883.6 2847.3 885.6 2847.5 887.6 2847.6 889.6 2847.7 891.6 2847.8 893.6 2847.9 895.6 2848.1 897.6 2848.2 899.6 2848.3 901.6 2848.4 903.6 2848.5 905.6 2848.6 907.6 2848.7 909.6 2848.8 911.6 2848.9 913.6 2849.0 915.6 2849.0 917.6 2849.1 919.6 2849.2 921.6 2849.3 923.6 2849.4 925.6 2849.4 927.6 2849.5 928.8 2849.6" fill="none" stroke="#ff7f0e" stroke-width="2.6" stroke-linejoin="round" clip-path="url(#clipe)"/>
<line x1="197.6" y1="2355.2" x2="197.6" y2="2867.2" stroke="#333" stroke-width="2"/>
<line x1="929.4" y1="2355.2" x2="929.4" y2="2867.2" stroke="#333" stroke-width="2"/>
<line x1="197.6" y1="2355.2" x2="929.4" y2="2355.2" stroke="#333" stroke-width="2"/>
<line x1="197.6" y1="2867.2" x2="929.4" y2="2867.2" stroke="#7a7a7a" stroke-width="3"/>
<line x1="190.1" y1="2867.2" x2="197.6" y2="2867.2" stroke="#222" stroke-width="2"/>
<text transform="translate(169.5,2886.4) scale(1.0,1)" text-anchor="end" class="k">0</text>
<line x1="190.1" y1="2801.8" x2="197.6" y2="2801.8" stroke="#222" stroke-width="2"/>
<text transform="translate(169.5,2820.9) scale(1.0,1)" text-anchor="end" class="k">1</text>
<line x1="190.1" y1="2736.3" x2="197.6" y2="2736.3" stroke="#222" stroke-width="2"/>
<text transform="translate(169.5,2755.5) scale(1.0,1)" text-anchor="end" class="k">2</text>
<line x1="190.1" y1="2670.8" x2="197.6" y2="2670.8" stroke="#222" stroke-width="2"/>
<text transform="translate(169.5,2690.0) scale(1.0,1)" text-anchor="end" class="k">3</text>
<line x1="190.1" y1="2605.4" x2="197.6" y2="2605.4" stroke="#222" stroke-width="2"/>
<text transform="translate(169.5,2624.6) scale(1.0,1)" text-anchor="end" class="k">4</text>
<line x1="190.1" y1="2539.9" x2="197.6" y2="2539.9" stroke="#222" stroke-width="2"/>
<text transform="translate(169.5,2559.1) scale(1.0,1)" text-anchor="end" class="k">5</text>
<line x1="190.1" y1="2474.5" x2="197.6" y2="2474.5" stroke="#222" stroke-width="2"/>
<text transform="translate(169.5,2493.7) scale(1.0,1)" text-anchor="end" class="k">6</text>
<line x1="190.1" y1="2409.0" x2="197.6" y2="2409.0" stroke="#222" stroke-width="2"/>
<text transform="translate(169.5,2428.2) scale(1.0,1)" text-anchor="end" class="k">7</text>
<line x1="197.6" y1="2867.2" x2="197.6" y2="2874.7" stroke="#222" stroke-width="2"/>
<text transform="translate(197.6,2919.2) scale(1.0,1)" text-anchor="middle" class="k">0.0</text>
<line x1="344.0" y1="2867.2" x2="344.0" y2="2874.7" stroke="#222" stroke-width="2"/>
<text transform="translate(344.0,2919.2) scale(1.0,1)" text-anchor="middle" class="k">0.1</text>
<line x1="490.3" y1="2867.2" x2="490.3" y2="2874.7" stroke="#222" stroke-width="2"/>
<text transform="translate(490.3,2919.2) scale(1.0,1)" text-anchor="middle" class="k">0.2</text>
<line x1="636.7" y1="2867.2" x2="636.7" y2="2874.7" stroke="#222" stroke-width="2"/>
<text transform="translate(636.7,2919.2) scale(1.0,1)" text-anchor="middle" class="k">0.3</text>
<line x1="783.0" y1="2867.2" x2="783.0" y2="2874.7" stroke="#222" stroke-width="2"/>
<text transform="translate(783.0,2919.2) scale(1.0,1)" text-anchor="middle" class="k">0.4</text>
<line x1="929.4" y1="2867.2" x2="929.4" y2="2874.7" stroke="#222" stroke-width="2"/>
<text transform="translate(929.4,2919.2) scale(1.0,1)" text-anchor="middle" class="k">0.5</text>
<text transform="translate(100.3,2595.5) rotate(-90) scale(1.015,1.0)" text-anchor="middle" class="k">KDE</text>
<text transform="translate(366.5,2976.2) scale(1.0,1)" class="k">Salinity Loss (PSU)</text>
<text transform="translate(523,3040.2) scale(1.08,1)" text-anchor="middle" class="cap">(e)</text>
<rect x="698.6" y="2376" width="211.60000000000002" height="102.59999999999991" rx="6" fill="#fff" fill-opacity="0.8" stroke="#e6e6e6" stroke-width="1.5"/>
<line x1="704.1" y1="2402.8" x2="739.6" y2="2402.8" stroke="#0c7bbf" stroke-width="2.6"/>
<line x1="704.1" y1="2452" x2="739.6" y2="2452" stroke="#ff7f0e" stroke-width="2.6"/>
<text x="742.6" y="2416.4" class="lg">DSE–NN</text>
<text x="742.6" y="2465.6" class="lg">DNN</text>
<clipPath id="clipf"><rect x="1147.0" y="2351.2" width="727.7" height="512.4000000000001"/></clipPath>
<path d="M1147.3 2590.7 1149.3 2567.8 1151.3 2546.2 1153.3 2526.0 1155.3 2507.3 1157.3 2490.2 1159.3 2474.8 1161.3 2461.1 1163.3 2448.9 1165.3 2438.0 1167.3 2428.3 1169.3 2419.6 1171.3 2411.8 1173.3 2405.0 1175.3 2399.0 1177.3 2393.9 1179.3 2389.6 1181.3 2386.1 1183.3 2383.3 1185.3 2381.2 1187.3 2379.8 1189.3 2379.0 1191.3 2378.9 1193.3 2379.3 1195.3 2380.2 1197.3 2381.6 1199.3 2383.5 1201.3 2385.9 1203.3 2388.6 1205.3 2391.7 1207.3 2395.2 1209.3 2398.9 1211.3 2402.9 1213.3 2407.2 1215.3 2411.6 1217.3 2416.2 1219.3 2421.0 1221.3 2425.9 1223.3 2430.8 1225.3 2435.9 1227.3 2441.1 1229.3 2446.4 1231.3 2451.8 1233.3 2457.2 1235.3 2462.6 1237.3 2468.1 1239.3 2473.6 1241.3 2479.2 1243.3 2484.7 1245.3 2490.2 1247.3 2495.7 1249.3 2501.2 1251.3 2506.6 1253.3 2512.0 1255.3 2517.3 1257.3 2522.5 1259.3 2527.6 1261.3 2532.6 1263.3 2537.5 1265.3 2542.3 1267.3 2547.0 1269.3 2551.5 1271.3 2555.9 1273.3 2560.2 1275.3 2564.4 1277.3 2568.5 1279.3 2572.4 1281.3 2576.3 1283.3 2580.1 1285.3 2583.9 1287.3 2587.5 1289.3 2591.1 1291.3 2594.6 1293.3 2598.0 1295.3 2601.4 1297.3 2604.7 1299.3 2608.0 1301.3 2611.2 1303.3 2614.4 1305.3 2617.6 1307.3 2620.8 1309.3 2623.9 1311.3 2626.9 1313.3 2630.0 1315.3 2633.0 1317.3 2636.0 1319.3 2638.9 1321.3 2641.8 1323.3 2644.7 1325.3 2647.6 1327.3 2650.4 1329.3 2653.2 1331.3 2656.0 1333.3 2658.7 1335.3 2661.4 1337.3 2664.1 1339.3 2666.7 1341.3 2669.3 1343.3 2671.9 1345.3 2674.4 1347.3 2677.0 1349.3 2679.4 1351.3 2681.9 1353.3 2684.3 1355.3 2686.7 1357.3 2689.1 1359.3 2691.5 1361.3 2693.8 1363.3 2696.1 1365.3 2698.3 1367.3 2700.5 1369.3 2702.8 1371.3 2704.9 1373.3 2707.1 1375.3 2709.2 1377.3 2711.3 1379.3 2713.3 1381.3 2715.4 1383.3 2717.4 1385.3 2719.4 1387.3 2721.3 1389.3 2723.2 1391.3 2725.1 1393.3 2727.0 1395.3 2728.9 1397.3 2730.7 1399.3 2732.5 1401.3 2734.3 1403.3 2736.0 1405.3 2737.7 1407.3 2739.4 1409.3 2741.1 1411.3 2742.7 1413.3 2744.3 1415.3 2745.9 1417.3 2747.5 1419.3 2749.0 1421.3 2750.5 1423.3 2752.0 1425.3 2753.5 1427.3 2755.0 1429.3 2756.4 1431.3 2757.8 1433.3 2759.2 1435.3 2760.5 1437.3 2761.9 1439.3 2763.2 1441.3 2764.5 1443.3 2765.8 1445.3 2767.0 1447.3 2768.2 1449.3 2769.5 1451.3 2770.7 1453.3 2771.8 1455.3 2773.0 1457.3 2774.1 1459.3 2775.2 1461.3 2776.3 1463.3 2777.4 1465.3 2778.5 1467.3 2779.5 1469.3 2780.5 1471.3 2781.5 1473.3 2782.5 1475.3 2783.5 1477.3 2784.5 1479.3 2785.4 1481.3 2786.3 1483.3 2787.2 1485.3 2788.1 1487.3 2789.0 1489.3 2789.9 1491.3 2790.7 1493.3 2791.5 1495.3 2792.4 1497.3 2793.2 1499.3 2794.0 1501.3 2794.7 1503.3 2795.5 1505.3 2796.3 1507.3 2797.0 1509.3 2797.7 1511.3 2798.4 1513.3 2799.1 1515.3 2799.8 1517.3 2800.5 1519.3 2801.2 1521.3 2801.9 1523.3 2802.5 1525.3 2803.1 1527.3 2803.8 1529.3 2804.4 1531.3 2805.0 1533.3 2805.6 1535.3 2806.2 1537.3 2806.8 1539.3 2807.3 1541.3 2807.9 1543.3 2808.5 1545.3 2809.0 1547.3 2809.6 1549.3 2810.1 1551.3 2810.6 1553.3 2811.1 1555.3 2811.7 1557.3 2812.2 1559.3 2812.7 1561.3 2813.2 1563.3 2813.7 1565.3 2814.1 1567.3 2814.6 1569.3 2815.1 1571.3 2815.6 1573.3 2816.0 1575.3 2816.5 1577.3 2816.9 1579.3 2817.3 1581.3 2817.8 1583.3 2818.2 1585.3 2818.6 1587.3 2819.1 1589.3 2819.5 1591.3 2819.9 1593.3 2820.3 1595.3 2820.7 1597.3 2821.1 1599.3 2821.4 1601.3 2821.8 1603.3 2822.2 1605.3 2822.6 1607.3 2822.9 1609.3 2823.3 1611.3 2823.6 1613.3 2824.0 1615.3 2824.3 1617.3 2824.7 1619.3 2825.0 1621.3 2825.3 1623.3 2825.6 1625.3 2826.0 1627.3 2826.3 1629.3 2826.6 1631.3 2826.9 1633.3 2827.2 1635.3 2827.5 1637.3 2827.8 1639.3 2828.1 1641.3 2828.3 1643.3 2828.6 1645.3 2828.9 1647.3 2829.2 1649.3 2829.4 1651.3 2829.7 1653.3 2829.9 1655.3 2830.2 1657.3 2830.5 1659.3 2830.7 1661.3 2830.9 1663.3 2831.2 1665.3 2831.4 1667.3 2831.7 1669.3 2831.9 1671.3 2832.1 1673.3 2832.3 1675.3 2832.6 1677.3 2832.8 1679.3 2833.0 1681.3 2833.2 1683.3 2833.4 1685.3 2833.6 1687.3 2833.8 1689.3 2834.0 1691.3 2834.2 1693.3 2834.4 1695.3 2834.6 1697.3 2834.8 1699.3 2834.9 1701.3 2835.1 1703.3 2835.3 1705.3 2835.5 1707.3 2835.7 1709.3 2835.8 1711.3 2836.0 1713.3 2836.2 1715.3 2836.3 1717.3 2836.5 1719.3 2836.7 1721.3 2836.8 1723.3 2837.0 1725.3 2837.1 1727.3 2837.3 1729.3 2837.4 1731.3 2837.6 1733.3 2837.7 1735.3 2837.9 1737.3 2838.0 1739.3 2838.2 1741.3 2838.3 1743.3 2838.4 1745.3 2838.6 1747.3 2838.7 1749.3 2838.8 1751.3 2839.0 1753.3 2839.1 1755.3 2839.3 1757.3 2839.4 1759.3 2839.5 1761.3 2839.6 1763.3 2839.8 1765.3 2839.9 1767.3 2840.0 1769.3 2840.2 1771.3 2840.3 1773.3 2840.4 1775.3 2840.5 1777.3 2840.7 1779.3 2840.8 1781.3 2840.9 1783.3 2841.0 1785.3 2841.2 1787.3 2841.3 1789.3 2841.4 1791.3 2841.5 1793.3 2841.6 1795.3 2841.8 1797.3 2841.9 1799.3 2842.0 1801.3 2842.1 1803.3 2842.3 1805.3 2842.4 1807.3 2842.5 1809.3 2842.6 1811.3 2842.8 1813.3 2842.9 1815.3 2843.0 1817.3 2843.1 1819.3 2843.3 1821.3 2843.4 1823.3 2843.5 1825.3 2843.7 1827.3 2843.8 1829.3 2843.9 1831.3 2844.1 1833.3 2844.2 1835.3 2844.3 1837.3 2844.5 1839.3 2844.6 1841.3 2844.7 1843.3 2844.9 1845.3 2845.0 1847.3 2845.2 1849.3 2845.3 1851.3 2845.5 1853.3 2845.6 1855.3 2845.8 1857.3 2845.9 1859.3 2846.1 1861.3 2846.2 1863.3 2846.4 1865.3 2846.5 1867.3 2846.7 1869.3 2846.9 1871.3 2847.0 1873.3 2847.2 1874.2 2847.3" fill="none" stroke="#0c7bbf" stroke-width="2.6" stroke-linejoin="round" clip-path="url(#clipf)"/>
<path d="M1147.3 2677.7 1149.3 2665.0 1151.3 2653.0 1153.3 2641.7 1155.3 2631.0 1157.3 2621.0 1159.3 2611.5 1161.3 2602.7 1163.3 2594.5 1165.3 2586.9 1167.3 2579.8 1169.3 2573.2 1171.3 2567.1 1173.3 2561.6 1175.3 2556.5 1177.3 2551.9 1179.3 2547.7 1181.3 2543.9 1183.3 2540.5 1185.3 2537.6 1187.3 2535.0 1189.3 2532.7 1191.3 2530.8 1193.3 2529.2 1195.3 2527.9 1197.3 2526.9 1199.3 2526.2 1201.3 2525.7 1203.3 2525.4 1205.3 2525.4 1207.3 2525.5 1209.3 2525.9 1211.3 2526.4 1213.3 2527.1 1215.3 2528.0 1217.3 2528.9 1219.3 2530.0 1221.3 2531.2 1223.3 2532.6 1225.3 2534.0 1227.3 2535.4 1229.3 2537.0 1231.3 2538.6 1233.3 2540.3 1235.3 2542.0 1237.3 2543.8 1239.3 2545.6 1241.3 2547.4 1243.3 2549.2 1245.3 2551.1 1247.3 2553.1 1249.3 2555.0 1251.3 2557.0 1253.3 2559.0 1255.3 2561.0 1257.3 2563.1 1259.3 2565.2 1261.3 2567.3 1263.3 2569.4 1265.3 2571.5 1267.3 2573.7 1269.3 2575.9 1271.3 2578.1 1273.3 2580.3 1275.3 2582.6 1277.3 2584.8 1279.3 2587.1 1281.3 2589.4 1283.3 2591.7 1285.3 2594.0 1287.3 2596.3 1289.3 2598.6 1291.3 2601.0 1293.3 2603.3 1295.3 2605.6 1297.3 2608.0 1299.3 2610.3 1301.3 2612.6 1303.3 2615.0 1305.3 2617.3 1307.3 2619.7 1309.3 2622.0 1311.3 2624.3 1313.3 2626.6 1315.3 2629.0 1317.3 2631.3 1319.3 2633.5 1321.3 2635.8 1323.3 2638.1 1325.3 2640.3 1327.3 2642.6 1329.3 2644.8 1331.3 2647.0 1333.3 2649.2 1335.3 2651.3 1337.3 2653.5 1339.3 2655.6 1341.3 2657.7 1343.3 2659.8 1345.3 2661.9 1347.3 2663.9 1349.3 2665.9 1351.3 2667.9 1353.3 2669.9 1355.3 2671.9 1357.3 2673.9 1359.3 2675.8 1361.3 2677.7 1363.3 2679.6 1365.3 2681.5 1367.3 2683.4 1369.3 2685.2 1371.3 2687.1 1373.3 2688.9 1375.3 2690.7 1377.3 2692.5 1379.3 2694.2 1381.3 2696.0 1383.3 2697.7 1385.3 2699.4 1387.3 2701.1 1389.3 2702.8 1391.3 2704.4 1393.3 2706.1 1395.3 2707.7 1397.3 2709.3 1399.3 2710.9 1401.3 2712.5 1403.3 2714.1 1405.3 2715.6 1407.3 2717.2 1409.3 2718.7 1411.3 2720.2 1413.3 2721.7 1415.3 2723.2 1417.3 2724.6 1419.3 2726.1 1421.3 2727.5 1423.3 2728.9 1425.3 2730.3 1427.3 2731.7 1429.3 2733.1 1431.3 2734.4 1433.3 2735.8 1435.3 2737.1 1437.3 2738.4 1439.3 2739.7 1441.3 2741.0 1443.3 2742.3 1445.3 2743.5 1447.3 2744.8 1449.3 2746.0 1451.3 2747.2 1453.3 2748.4 1455.3 2749.6 1457.3 2750.8 1459.3 2751.9 1461.3 2753.1 1463.3 2754.2 1465.3 2755.4 1467.3 2756.5 1469.3 2757.6 1471.3 2758.7 1473.3 2759.7 1475.3 2760.8 1477.3 2761.9 1479.3 2762.9 1481.3 2763.9 1483.3 2764.9 1485.3 2765.9 1487.3 2766.9 1489.3 2767.9 1491.3 2768.9 1493.3 2769.8 1495.3 2770.8 1497.3 2771.7 1499.3 2772.7 1501.3 2773.6 1503.3 2774.5 1505.3 2775.4 1507.3 2776.2 1509.3 2777.1 1511.3 2778.0 1513.3 2778.8 1515.3 2779.7 1517.3 2780.5 1519.3 2781.3 1521.3 2782.1 1523.3 2782.9 1525.3 2783.7 1527.3 2784.5 1529.3 2785.3 1531.3 2786.0 1533.3 2786.8 1535.3 2787.5 1537.3 2788.3 1539.3 2789.0 1541.3 2789.7 1543.3 2790.4 1545.3 2791.1 1547.3 2791.8 1549.3 2792.5 1551.3 2793.2 1553.3 2793.8 1555.3 2794.5 1557.3 2795.1 1559.3 2795.8 1561.3 2796.4 1563.3 2797.0 1565.3 2797.6 1567.3 2798.3 1569.3 2798.9 1571.3 2799.5 1573.3 2800.0 1575.3 2800.6 1577.3 2801.2 1579.3 2801.8 1581.3 2802.3 1583.3 2802.9 1585.3 2803.4 1587.3 2804.0 1589.3 2804.5 1591.3 2805.0 1593.3 2805.5 1595.3 2806.0 1597.3 2806.6 1599.3 2807.1 1601.3 2807.5 1603.3 2808.0 1605.3 2808.5 1607.3 2809.0 1609.3 2809.5 1611.3 2809.9 1613.3 2810.4 1615.3 2810.8 1617.3 2811.3 1619.3 2811.7 1621.3 2812.2 1623.3 2812.6 1625.3 2813.0 1627.3 2813.4 1629.3 2813.8 1631.3 2814.3 1633.3 2814.7 1635.3 2815.0 1637.3 2815.4 1639.3 2815.8 1641.3 2816.2 1643.3 2816.6 1645.3 2817.0 1647.3 2817.3 1649.3 2817.7 1651.3 2818.0 1653.3 2818.4 1655.3 2818.7 1657.3 2819.1 1659.3 2819.4 1661.3 2819.7 1663.3 2820.1 1665.3 2820.4 1667.3 2820.7 1669.3 2821.0 1671.3 2821.3 1673.3 2821.6 1675.3 2821.9 1677.3 2822.2 1679.3 2822.5 1681.3 2822.8 1683.3 2823.1 1685.3 2823.4 1687.3 2823.7 1689.3 2823.9 1691.3 2824.2 1693.3 2824.5 1695.3 2824.7 1697.3 2825.0 1699.3 2825.2 1701.3 2825.5 1703.3 2825.7 1705.3 2826.0 1707.3 2826.2 1709.3 2826.5 1711.3 2826.7 1713.3 2826.9 1715.3 2827.1 1717.3 2827.4 1719.3 2827.6 1721.3 2827.8 1723.3 2828.0 1725.3 2828.2 1727.3 2828.4 1729.3 2828.6 1731.3 2828.9 1733.3 2829.1 1735.3 2829.3 1737.3 2829.4 1739.3 2829.6 1741.3 2829.8 1743.3 2830.0 1745.3 2830.2 1747.3 2830.4 1749.3 2830.6 1751.3 2830.7 1753.3 2830.9 1755.3 2831.1 1757.3 2831.3 1759.3 2831.4 1761.3 2831.6 1763.3 2831.8 1765.3 2831.9 1767.3 2832.1 1769.3 2832.3 1771.3 2832.4 1773.3 2832.6 1775.3 2832.7 1777.3 2832.9 1779.3 2833.0 1781.3 2833.2 1783.3 2833.3 1785.3 2833.5 1787.3 2833.6 1789.3 2833.8 1791.3 2833.9 1793.3 2834.1 1795.3 2834.2 1797.3 2834.3 1799.3 2834.5 1801.3 2834.6 1803.3 2834.8 1805.3 2834.9 1807.3 2835.0 1809.3 2835.2 1811.3 2835.3 1813.3 2835.4 1815.3 2835.6 1817.3 2835.7 1819.3 2835.8 1821.3 2836.0 1823.3 2836.1 1825.3 2836.2 1827.3 2836.4 1829.3 2836.5 1831.3 2836.6 1833.3 2836.8 1835.3 2836.9 1837.3 2837.0 1839.3 2837.2 1841.3 2837.3 1843.3 2837.4 1845.3 2837.5 1847.3 2837.7 1849.3 2837.8 1851.3 2837.9 1853.3 2838.1 1855.3 2838.2 1857.3 2838.3 1859.3 2838.5 1861.3 2838.6 1863.3 2838.8 1865.3 2838.9 1867.3 2839.0 1869.3 2839.2 1871.3 2839.3 1873.3 2839.5 1874.2 2839.5" fill="none" stroke="#ff7f0e" stroke-width="2.6" stroke-linejoin="round" clip-path="url(#clipf)"/>
<line x1="1147.0" y1="2354.2" x2="1147.0" y2="2863.6" stroke="#7a7a7a" stroke-width="3"/>
<line x1="1874.7" y1="2354.2" x2="1874.7" y2="2863.6" stroke="#333" stroke-width="2"/>
<line x1="1147.0" y1="2354.2" x2="1874.7" y2="2354.2" stroke="#333" stroke-width="2"/>
<line x1="1147.0" y1="2863.6" x2="1874.7" y2="2863.6" stroke="#333" stroke-width="2"/>
<line x1="1139.5" y1="2863.6" x2="1147.0" y2="2863.6" stroke="#222" stroke-width="2"/>
<text transform="translate(1126.5,2882.8) scale(1.0,1)" text-anchor="end" class="k">0.0</text>
<line x1="1139.5" y1="2801.4" x2="1147.0" y2="2801.4" stroke="#222" stroke-width="2"/>
<text transform="translate(1126.5,2820.6) scale(1.0,1)" text-anchor="end" class="k">0.2</text>
<line x1="1139.5" y1="2739.2" x2="1147.0" y2="2739.2" stroke="#222" stroke-width="2"/>
<text transform="translate(1126.5,2758.4) scale(1.0,1)" text-anchor="end" class="k">0.4</text>
<line x1="1139.5" y1="2677.0" x2="1147.0" y2="2677.0" stroke="#222" stroke-width="2"/>
<text transform="translate(1126.5,2696.2) scale(1.0,1)" text-anchor="end" class="k">0.6</text>
<line x1="1139.5" y1="2614.8" x2="1147.0" y2="2614.8" stroke="#222" stroke-width="2"/>
<text transform="translate(1126.5,2634.0) scale(1.0,1)" text-anchor="end" class="k">0.8</text>
<line x1="1139.5" y1="2552.6" x2="1147.0" y2="2552.6" stroke="#222" stroke-width="2"/>
<text transform="translate(1126.5,2571.8) scale(1.0,1)" text-anchor="end" class="k">1.0</text>
<line x1="1139.5" y1="2490.4" x2="1147.0" y2="2490.4" stroke="#222" stroke-width="2"/>
<text transform="translate(1126.5,2509.6) scale(1.0,1)" text-anchor="end" class="k">1.2</text>
<line x1="1139.5" y1="2428.2" x2="1147.0" y2="2428.2" stroke="#222" stroke-width="2"/>
<text transform="translate(1126.5,2447.4) scale(1.0,1)" text-anchor="end" class="k">1.4</text>
<line x1="1139.5" y1="2366.0" x2="1147.0" y2="2366.0" stroke="#222" stroke-width="2"/>
<text transform="translate(1126.5,2385.2) scale(1.0,1)" text-anchor="end" class="k">1.6</text>
<line x1="1147.0" y1="2863.6" x2="1147.0" y2="2871.1" stroke="#222" stroke-width="2"/>
<text transform="translate(1153.5,2915.6) scale(1.0,1)" text-anchor="middle" class="k">0.00</text>
<line x1="1238.0" y1="2863.6" x2="1238.0" y2="2871.1" stroke="#222" stroke-width="2"/>
<text transform="translate(1244.5,2915.6) scale(1.0,1)" text-anchor="middle" class="k">0.25</text>
<line x1="1328.9" y1="2863.6" x2="1328.9" y2="2871.1" stroke="#222" stroke-width="2"/>
<text transform="translate(1335.4,2915.6) scale(1.0,1)" text-anchor="middle" class="k">0.50</text>
<line x1="1419.9" y1="2863.6" x2="1419.9" y2="2871.1" stroke="#222" stroke-width="2"/>
<text transform="translate(1426.4,2915.6) scale(1.0,1)" text-anchor="middle" class="k">0.75</text>
<line x1="1510.8" y1="2863.6" x2="1510.8" y2="2871.1" stroke="#222" stroke-width="2"/>
<text transform="translate(1517.3,2915.6) scale(1.0,1)" text-anchor="middle" class="k">1.00</text>
<line x1="1601.8" y1="2863.6" x2="1601.8" y2="2871.1" stroke="#222" stroke-width="2"/>
<text transform="translate(1608.3,2915.6) scale(1.0,1)" text-anchor="middle" class="k">1.25</text>
<line x1="1692.8" y1="2863.6" x2="1692.8" y2="2871.1" stroke="#222" stroke-width="2"/>
<text transform="translate(1699.3,2915.6) scale(1.0,1)" text-anchor="middle" class="k">1.50</text>
<line x1="1783.7" y1="2863.6" x2="1783.7" y2="2871.1" stroke="#222" stroke-width="2"/>
<text transform="translate(1790.2,2915.6) scale(1.0,1)" text-anchor="middle" class="k">1.75</text>
<line x1="1874.7" y1="2863.6" x2="1874.7" y2="2871.1" stroke="#222" stroke-width="2"/>
<text transform="translate(1881.2,2915.6) scale(1.0,1)" text-anchor="middle" class="k">2.00</text>
<text transform="translate(1023.8,2595.5) rotate(-90) scale(1.015,1.0)" text-anchor="middle" class="k">KDE</text>
<text transform="translate(1308,2972.6) scale(1.0,1)" class="k">Temperature Loss (<tspan class="cjk" dx="4">℃</tspan><tspan dx="-1">)</tspan></text>
<text transform="translate(1469,3036.6) scale(1.08,1)" text-anchor="middle" class="cap">(f)</text>
<rect x="1644.7" y="2375.3" width="211.20000000000005" height="101.5" rx="6" fill="#fff" fill-opacity="0.8" stroke="#e6e6e6" stroke-width="1.5"/>
<line x1="1650.2" y1="2402.1000000000004" x2="1685.7" y2="2402.1000000000004" stroke="#0c7bbf" stroke-width="2.6"/>
<line x1="1650.2" y1="2451.3" x2="1685.7" y2="2451.3" stroke="#ff7f0e" stroke-width="2.6"/>
<text x="1688.7" y="2415.7000000000003" class="lg">DSE–NN</text>
<text x="1688.7" y="2464.9" class="lg">DNN</text>
</svg>
</body></html>
